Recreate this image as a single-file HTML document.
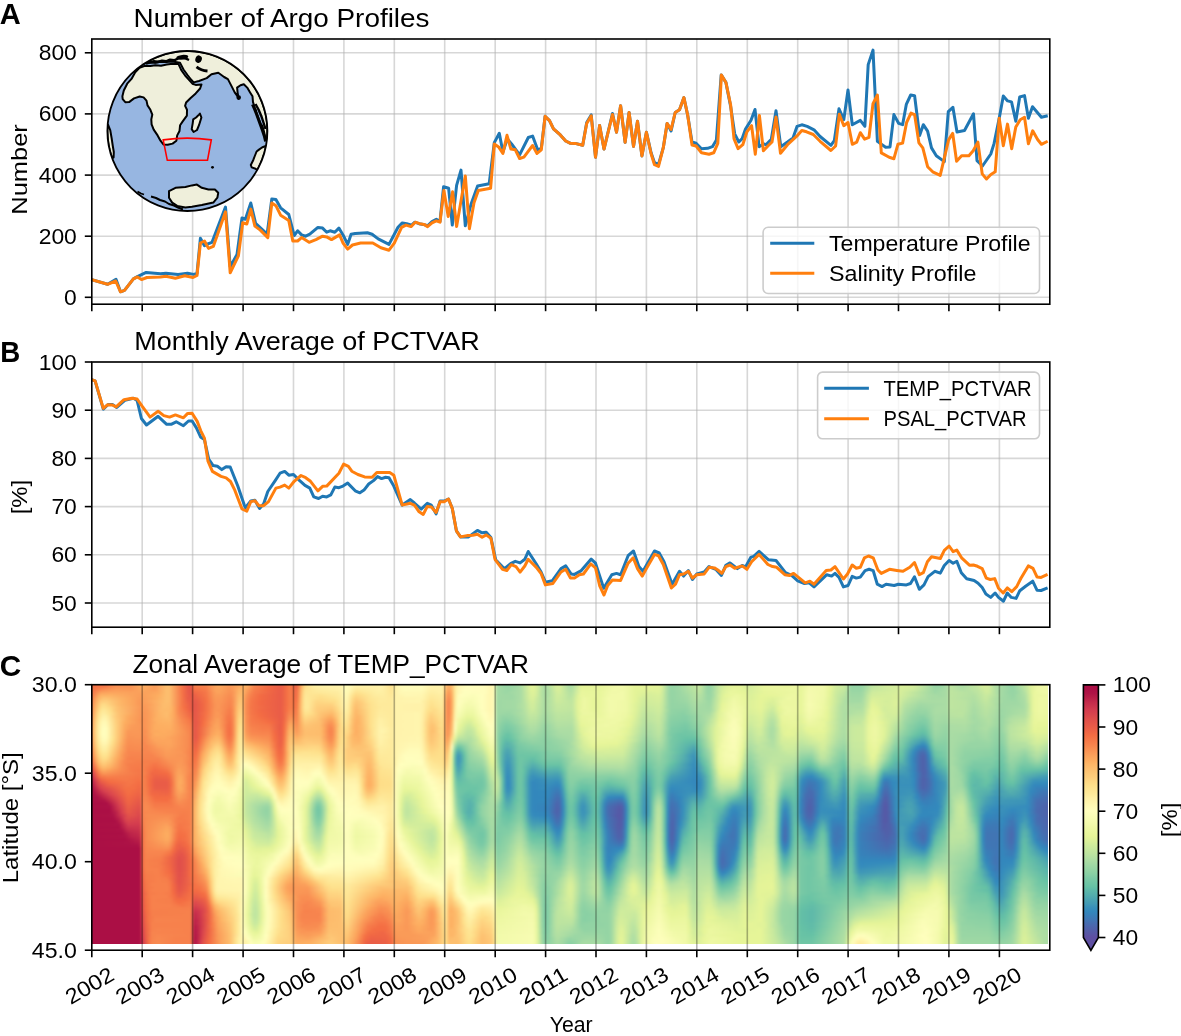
<!DOCTYPE html>
<html><head><meta charset="utf-8"><style>
html,body{margin:0;padding:0;background:#fff;}
#fig{position:relative;width:1181px;height:1036px;overflow:hidden;background:#fff;font-family:"Liberation Sans", sans-serif;}
</style></head><body><div id="fig">
<div style="position:absolute;left:92.2px;top:685.2px;width:955.7px;height:258.4px;overflow:hidden"><div style="position:absolute;left:-6px;top:-6px;width:969.7px;filter:blur(1px)"><div style="height:3px;background:linear-gradient(90deg,#f46d43 0px,#f47044 21px,#f8864f 27px,#f88c51 39px,#f98e52 45px,#fdad60 54px,#fcaa5f 60px,#fa9857 69px,#fdbf6f 81px,#fdbb6c 84px,#f57547 96px,#e75948 102px,#e45549 105px,#f7814c 108px,#f7844e 120px,#fa9b58 126px,#fdad60 132px,#fa9857 144px,#fdb567 159px,#fdad60 162px,#f8864f 168px,#ef6645 186px,#e95c47 195px,#f47044 201px,#f67f4b 204px,#eb6046 210px,#f7814c 213px,#fdb768 216px,#feda86 219px,#fff1a8 228px,#fff5ae 234px,#fff5ae 255px,#fffebe 261px,#fff5ae 270px,#fff3ac 297px,#fee08b 306px,#fff1a8 309px,#fffcba 315px,#fffebe 336px,#fff5ae 345px,#fff5ae 357px,#fdbf6f 360px,#fdaf62 363px,#fdc171 366px,#fee999 369px,#fff6b0 372px,#fffebe 381px,#fffdbc 399px,#fff6b0 405px,#fffbb8 408px,#a7dba4 411px,#97d5a4 417px,#97d5a4 426px,#acdda4 435px,#dff299 444px,#e6f598 447px,#ddf19a 450px,#b5e1a2 456px,#aadca4 459px,#bfe5a0 465px,#d1ed9c 468px,#daf09a 471px,#d8ef9b 474px,#acdda4 483px,#acdda4 486px,#e1f399 495px,#e9f69d 516px,#f3faac 534px,#e6f598 549px,#e6f598 573px,#d8ef9b 576px,#a4daa4 582px,#94d4a4 585px,#99d6a4 591px,#b3e0a2 603px,#c8e99e 612px,#c1e6a0 615px,#99d6a4 621px,#94d4a4 624px,#9fd8a4 627px,#d3ed9c 636px,#e6f598 648px,#daf09a 660px,#d1ed9c 663px,#e7f59a 675px,#eef8a4 687px,#e6f598 699px,#eef8a4 708px,#e6f598 714px,#f3faac 726px,#f2faaa 738px,#e7f59a 744px,#d1ed9c 750px,#caea9e 759px,#94d4a4 765px,#97d5a4 777px,#bce4a0 786px,#d1ed9c 798px,#d1ed9c 810px,#ddf19a 816px,#d8ef9b 828px,#aadca4 843px,#94d4a4 849px,#9fd8a4 858px,#aadca4 861px,#bfe5a0 864px,#aadca4 876px,#c6e89f 891px,#ddf19a 900px,#d6ee9b 903px,#b1dfa3 909px,#9cd7a4 921px,#94d4a4 924px,#94d4a4 927px,#c1e6a0 939px,#e1f399 945px,#eef8a4 951px,#f3faac 969px)"></div><div style="height:3px;background:linear-gradient(90deg,#f46d43 0px,#f47044 21px,#f8864f 27px,#f88c51 39px,#f98e52 45px,#fdad60 54px,#fcaa5f 60px,#fa9857 69px,#fdbf6f 81px,#fdbb6c 84px,#f57547 96px,#e75948 102px,#e45549 105px,#f7814c 108px,#f7844e 120px,#fa9b58 126px,#fdad60 132px,#fa9857 144px,#fdb567 159px,#fdad60 162px,#f8864f 168px,#ef6645 186px,#e95c47 195px,#f47044 201px,#f67f4b 204px,#eb6046 210px,#f7814c 213px,#fdb768 216px,#feda86 219px,#fff1a8 228px,#fff5ae 234px,#fff5ae 255px,#fffebe 261px,#fff5ae 270px,#fff3ac 297px,#fee08b 306px,#fff1a8 309px,#fffcba 315px,#fffebe 336px,#fff5ae 345px,#fff5ae 357px,#fdbf6f 360px,#fdaf62 363px,#fdc171 366px,#fee999 369px,#fff6b0 372px,#fffebe 381px,#fffdbc 399px,#fff6b0 405px,#fffbb8 408px,#a7dba4 411px,#97d5a4 417px,#97d5a4 426px,#acdda4 435px,#dff299 444px,#e6f598 447px,#ddf19a 450px,#b5e1a2 456px,#aadca4 459px,#bfe5a0 465px,#d1ed9c 468px,#daf09a 471px,#d8ef9b 474px,#acdda4 483px,#acdda4 486px,#e1f399 495px,#e9f69d 516px,#f3faac 534px,#e6f598 549px,#e6f598 573px,#d8ef9b 576px,#a4daa4 582px,#94d4a4 585px,#99d6a4 591px,#b3e0a2 603px,#c8e99e 612px,#c1e6a0 615px,#99d6a4 621px,#94d4a4 624px,#9fd8a4 627px,#d3ed9c 636px,#e6f598 648px,#daf09a 660px,#d1ed9c 663px,#e7f59a 675px,#eef8a4 687px,#e6f598 699px,#eef8a4 708px,#e6f598 714px,#f3faac 726px,#f2faaa 738px,#e7f59a 744px,#d1ed9c 750px,#caea9e 759px,#94d4a4 765px,#97d5a4 777px,#bce4a0 786px,#d1ed9c 798px,#d1ed9c 810px,#ddf19a 816px,#d8ef9b 828px,#aadca4 843px,#94d4a4 849px,#9fd8a4 858px,#aadca4 861px,#bfe5a0 864px,#aadca4 876px,#c6e89f 891px,#ddf19a 900px,#d6ee9b 903px,#b1dfa3 909px,#9cd7a4 921px,#94d4a4 924px,#94d4a4 927px,#c1e6a0 939px,#e1f399 945px,#eef8a4 951px,#f3faac 969px)"></div><div style="height:3px;background:linear-gradient(90deg,#f46d43 0px,#f57748 18px,#f99153 30px,#f99355 45px,#fcaa5f 54px,#fcaa5f 60px,#fa9b58 69px,#fdbf6f 81px,#fdbb6c 84px,#f57547 96px,#e75948 102px,#e45549 105px,#f67c4a 108px,#f7814c 120px,#fa9857 126px,#fcaa5f 132px,#fa9656 144px,#fba35c 150px,#fdb365 159px,#fcaa5f 162px,#f7844e 168px,#f26944 183px,#e95c47 195px,#f47044 201px,#f67f4b 204px,#eb6046 210px,#f7844e 213px,#fdbb6c 216px,#fede89 219px,#feefa3 228px,#fff2aa 243px,#fff3ac 255px,#fffbb8 258px,#fffdbc 261px,#fff1a8 270px,#fff2aa 297px,#fee18d 306px,#fff2aa 309px,#fffcba 315px,#fffdbc 336px,#fff3ac 345px,#fff3ac 357px,#fdbb6c 360px,#fcaa5f 363px,#fdbd6d 366px,#fee999 369px,#fff6b0 372px,#ffffbe 381px,#fffdbc 399px,#fff6b0 405px,#fffbb8 408px,#a7dba4 411px,#97d5a4 420px,#9fd8a4 429px,#acdda4 435px,#dff299 444px,#e4f498 447px,#daf09a 450px,#b5e1a2 456px,#aadca4 459px,#bfe5a0 465px,#daf09a 471px,#d8ef9b 474px,#aedea3 483px,#aedea3 486px,#e4f498 495px,#e7f59a 513px,#f2faaa 531px,#f2faaa 537px,#e6f598 549px,#e4f498 573px,#d8ef9b 576px,#a4daa4 582px,#94d4a4 585px,#99d6a4 591px,#c6e89f 612px,#bfe5a0 615px,#99d6a4 621px,#94d4a4 624px,#c8e99e 633px,#e1f399 642px,#e6f598 654px,#d3ed9c 663px,#e9f69d 678px,#ecf7a1 690px,#e8f69b 702px,#eef8a4 708px,#e6f598 714px,#f3faac 723px,#f2faaa 738px,#e6f598 744px,#d1ed9c 750px,#c8e99e 759px,#94d4a4 765px,#94d4a4 774px,#99d6a4 777px,#bfe5a0 786px,#d3ed9c 801px,#d3ed9c 810px,#daf09a 816px,#d3ed9c 828px,#b5e1a2 840px,#97d5a4 849px,#99d6a4 855px,#aadca4 861px,#bfe5a0 864px,#acdda4 876px,#c3e79f 891px,#d6ee9b 897px,#d3ed9c 903px,#b1dfa3 909px,#9cd7a4 921px,#94d4a4 924px,#94d4a4 927px,#bfe5a0 939px,#dff299 945px,#eef8a4 951px,#f2faaa 969px)"></div><div style="height:3px;background:linear-gradient(90deg,#f57245 0px,#f57245 6px,#f98e52 18px,#fa9b58 30px,#fa9857 45px,#fca85e 57px,#fb9d59 69px,#fdbf6f 81px,#fdbb6c 84px,#f57547 96px,#e85b48 102px,#e45549 105px,#f57245 108px,#f67c4a 120px,#fba35c 129px,#fba35c 135px,#f99355 144px,#fca55d 150px,#fdb365 153px,#fdb567 156px,#fb9d59 162px,#f67f4b 168px,#f36b43 180px,#e95c47 195px,#f47044 201px,#f67f4b 204px,#ee6445 210px,#f88c51 213px,#fdc372 216px,#fee28f 219px,#feeb9d 231px,#fff1a8 255px,#fffab6 258px,#fffcba 261px,#fee999 270px,#fff1a8 294px,#feec9f 300px,#fee491 306px,#fff2aa 309px,#fffcba 318px,#fffbb8 336px,#fff0a6 345px,#fff2aa 357px,#fdb567 360px,#fba05b 363px,#fdb96a 366px,#fee999 369px,#fff7b2 372px,#fffebe 378px,#fffdbc 399px,#fff6b0 405px,#fffbb8 408px,#a4daa4 411px,#99d6a4 423px,#acdda4 435px,#ddf19a 444px,#e1f399 447px,#daf09a 450px,#b5e1a2 456px,#aadca4 459px,#aedea3 462px,#d8ef9b 471px,#d6ee9b 474px,#b3e0a2 483px,#b3e0a2 486px,#e7f59a 495px,#e7f59a 513px,#f2faaa 528px,#eff9a6 540px,#e4f498 549px,#e1f399 573px,#d6ee9b 576px,#a4daa4 582px,#94d4a4 585px,#9fd8a4 594px,#c1e6a0 612px,#bae3a1 615px,#99d6a4 621px,#97d5a4 624px,#a2d9a4 627px,#caea9e 633px,#dff299 639px,#e9f69d 648px,#e1f399 660px,#d6ee9b 663px,#e8f69b 678px,#ecf7a1 705px,#ecf7a1 711px,#e6f598 714px,#f4faad 723px,#f1f9a9 738px,#e6f598 744px,#cfec9d 750px,#c3e79f 759px,#97d5a4 765px,#97d5a4 774px,#9cd7a4 777px,#c6e89f 786px,#d8ef9b 813px,#cdeb9d 828px,#9cd7a4 849px,#a4daa4 858px,#aadca4 861px,#bfe5a0 864px,#b1dfa3 876px,#bfe5a0 891px,#d3ed9c 900px,#cfec9d 903px,#aadca4 912px,#94d4a4 927px,#aedea3 936px,#caea9e 942px,#dff299 945px,#eef8a4 951px,#f1f9a9 969px)"></div><div style="height:3px;background:linear-gradient(90deg,#f57547 0px,#f57748 6px,#fba05b 15px,#fca55d 27px,#fba05b 51px,#fba35c 63px,#fca85e 72px,#fdbf6f 81px,#fdbb6c 84px,#f57547 96px,#e85b48 102px,#e55749 105px,#f06744 108px,#f57748 120px,#fb9d59 129px,#fba35c 132px,#f99153 144px,#fa9656 147px,#fdb768 153px,#fdb96a 156px,#f99355 162px,#f67a49 168px,#ee6445 186px,#e95c47 195px,#f47044 201px,#f67f4b 204px,#ef6645 210px,#f99153 213px,#fec877 216px,#fee593 219px,#feec9f 252px,#fff0a6 255px,#fff8b4 258px,#fffab6 261px,#fee18d 270px,#feefa3 291px,#feefa3 297px,#fee593 306px,#fff2aa 309px,#fff8b4 315px,#fff8b4 336px,#feeda1 345px,#fff1a8 357px,#fdad60 360px,#fa9656 363px,#fdb365 366px,#fee999 369px,#fff8b4 372px,#fefebd 378px,#fffdbc 399px,#fff6b0 405px,#fffbb8 408px,#a4daa4 411px,#9cd7a4 420px,#a7dba4 432px,#acdda4 435px,#daf09a 444px,#dff299 447px,#d8ef9b 450px,#b3e0a2 456px,#aadca4 459px,#aedea3 462px,#d3ed9c 471px,#d3ed9c 474px,#b8e2a1 483px,#b8e2a1 486px,#e9f69d 495px,#e8f69b 513px,#f1f9a9 525px,#f2faaa 537px,#e4f498 549px,#daf09a 564px,#dff299 573px,#d3ed9c 576px,#a2d9a4 582px,#94d4a4 585px,#9cd7a4 594px,#bce4a0 612px,#b8e2a1 615px,#99d6a4 621px,#97d5a4 624px,#b8e2a1 630px,#daf09a 636px,#eaf79e 645px,#e6f598 660px,#d8ef9b 663px,#e7f59a 678px,#ecf7a1 711px,#e6f598 714px,#f5fbaf 723px,#f0f9a7 738px,#e4f498 744px,#cdeb9d 750px,#bce4a0 759px,#a7dba4 762px,#9cd7a4 765px,#9cd7a4 774px,#a2d9a4 777px,#cfec9d 786px,#d8ef9b 813px,#9fd8a4 849px,#aadca4 861px,#bfe5a0 864px,#b5e1a2 885px,#c1e6a0 894px,#cfec9d 900px,#cdeb9d 903px,#aadca4 912px,#97d5a4 924px,#99d6a4 930px,#b5e1a2 939px,#ddf19a 945px,#eaf79e 948px,#eff9a6 957px,#eff9a6 969px)"></div><div style="height:3px;background:linear-gradient(90deg,#f57748 0px,#f67a49 6px,#fca55d 12px,#fdb365 15px,#fdb365 24px,#fb9d59 54px,#fdad60 72px,#fdbf6f 81px,#fdbb6c 84px,#f57748 96px,#ef6645 99px,#e55749 105px,#ef6645 111px,#f57547 120px,#fa9b58 129px,#fa9b58 135px,#f88c51 144px,#fa9656 147px,#fdbb6c 153px,#fdbd6d 156px,#fb9d59 159px,#f67f4b 165px,#f36b43 174px,#e95c47 195px,#f47044 201px,#f67f4b 204px,#f06744 210px,#f99355 213px,#feca79 216px,#fee797 219px,#fee18d 234px,#feea9b 252px,#feeda1 255px,#fff7b2 258px,#fff8b4 261px,#fee18d 267px,#fed884 270px,#fede89 276px,#feeb9d 288px,#feeda1 297px,#fee797 306px,#fff2aa 309px,#fff8b4 321px,#fff6b0 336px,#feea9b 345px,#feefa3 357px,#fca55d 360px,#f99153 363px,#fdaf62 366px,#fee999 369px,#fffbb8 372px,#ffffbe 375px,#fbfdb8 387px,#ffffbe 396px,#fff6b0 405px,#fffbb8 408px,#a2d9a4 411px,#9fd8a4 426px,#acdda4 435px,#d8ef9b 444px,#ddf19a 447px,#d6ee9b 450px,#b3e0a2 456px,#aadca4 459px,#aedea3 462px,#d1ed9c 471px,#caea9e 477px,#bae3a1 483px,#bae3a1 486px,#dff299 492px,#eaf79e 495px,#e9f69d 504px,#e8f69b 513px,#f2faaa 525px,#f2faaa 537px,#e4f498 549px,#d6ee9b 561px,#daf09a 573px,#d1ed9c 576px,#a2d9a4 582px,#94d4a4 585px,#a2d9a4 600px,#b5e1a2 609px,#b3e0a2 615px,#9cd7a4 621px,#99d6a4 624px,#a4daa4 627px,#cfec9d 633px,#e6f598 639px,#edf8a3 651px,#e7f59a 660px,#daf09a 663px,#e6f598 675px,#e7f59a 690px,#eef8a4 708px,#e6f598 714px,#f6fbb0 723px,#f0f9a7 738px,#e4f498 744px,#caea9e 750px,#b8e2a1 759px,#a7dba4 762px,#9fd8a4 765px,#9fd8a4 774px,#a4daa4 777px,#c8e99e 783px,#d3ed9c 786px,#d6ee9b 804px,#daf09a 810px,#aadca4 843px,#a4daa4 855px,#aadca4 861px,#bfe5a0 864px,#b3e0a2 888px,#caea9e 900px,#bfe5a0 906px,#a4daa4 915px,#97d5a4 927px,#b1dfa3 939px,#daf09a 945px,#ebf7a0 948px,#eef8a4 969px)"></div><div style="height:3px;background:linear-gradient(90deg,#f67a49 0px,#f67f4b 6px,#fb9d59 9px,#fdb365 12px,#fdc574 18px,#fcaa5f 42px,#fa9b58 54px,#fcaa5f 69px,#fdbf6f 81px,#fdbb6c 84px,#f57748 96px,#e95c47 102px,#e95c47 108px,#f57245 120px,#fa9857 129px,#fa9857 135px,#f88950 144px,#f99355 147px,#fdbf6f 153px,#fdc171 156px,#fa9857 159px,#f67a49 165px,#f36b43 174px,#e95c47 195px,#f47044 201px,#f67f4b 204px,#f26944 210px,#fa9656 213px,#fecc7b 216px,#fee999 219px,#fee593 225px,#fedc88 234px,#fee491 249px,#feeb9d 255px,#fff6b0 258px,#fff6b0 261px,#feda86 267px,#fece7c 270px,#fee695 285px,#feec9f 297px,#fee999 306px,#fff3ac 309px,#fff5ae 336px,#fee797 345px,#feeda1 357px,#fba05b 360px,#f88950 363px,#fdad60 366px,#feea9b 369px,#fffcba 372px,#fbfdb8 378px,#f9fcb5 387px,#ffffbe 396px,#fff6b0 405px,#fffcba 408px,#a2d9a4 411px,#9fd8a4 426px,#acdda4 435px,#d6ee9b 444px,#daf09a 447px,#aadca4 459px,#bae3a1 465px,#cfec9d 471px,#c8e99e 477px,#bce4a0 483px,#bfe5a0 486px,#e1f399 492px,#edf8a3 498px,#e6f598 510px,#f2faaa 522px,#f2faaa 537px,#e4f498 549px,#d3ed9c 558px,#d8ef9b 573px,#cfec9d 576px,#a2d9a4 582px,#94d4a4 585px,#9fd8a4 600px,#b3e0a2 609px,#b1dfa3 615px,#9cd7a4 621px,#99d6a4 624px,#bce4a0 630px,#dff299 636px,#eff9a6 648px,#e8f69b 660px,#daf09a 663px,#e6f598 675px,#dff299 687px,#eef8a4 702px,#ecf7a1 711px,#e6f598 714px,#f6fbb0 723px,#eff9a6 738px,#e1f399 744px,#c1e6a0 753px,#a2d9a4 765px,#a2d9a4 774px,#aadca4 777px,#daf09a 786px,#d6ee9b 804px,#daf09a 810px,#bae3a1 825px,#a7dba4 846px,#aadca4 861px,#bfe5a0 864px,#b1dfa3 888px,#c8e99e 900px,#a2d9a4 915px,#99d6a4 927px,#aedea3 939px,#daf09a 945px,#eaf79e 948px,#eef8a4 954px,#edf8a3 969px)"></div><div style="height:3px;background:linear-gradient(90deg,#f67f4b 0px,#f7844e 6px,#fca55d 9px,#fecc7b 15px,#fece7c 21px,#fdb365 36px,#fba35c 48px,#fa9857 54px,#fdb768 75px,#fdbf6f 81px,#fdbb6c 84px,#f57748 96px,#eb6046 102px,#e55749 108px,#f47044 120px,#fa9656 129px,#fa9656 135px,#f8864f 144px,#f99153 147px,#fdc372 153px,#fdc574 156px,#fa9656 159px,#f57748 165px,#f26944 174px,#e95c47 195px,#f47044 201px,#f67f4b 204px,#f46d43 210px,#fa9857 213px,#fece7c 216px,#fee999 219px,#fee999 222px,#fed683 231px,#fede89 249px,#feea9b 255px,#fff3ac 258px,#fff5ae 261px,#fed481 267px,#fdc776 270px,#fed07e 276px,#fee18d 282px,#feeb9d 294px,#feea9b 306px,#fff3ac 309px,#fff6b0 333px,#feeda1 339px,#fee491 345px,#feec9f 357px,#fa9b58 360px,#f7844e 363px,#fcaa5f 366px,#feea9b 369px,#fffebe 372px,#f6fbb0 384px,#ffffbe 396px,#fff6b0 405px,#fffcba 408px,#9fd8a4 411px,#a4daa4 429px,#acdda4 435px,#d1ed9c 444px,#d6ee9b 447px,#c1e6a0 453px,#aadca4 459px,#b8e2a1 465px,#cdeb9d 471px,#bfe5a0 486px,#e4f498 492px,#eef8a4 498px,#e6f598 510px,#f3faac 525px,#eff9a6 540px,#e4f498 549px,#cfec9d 558px,#d6ee9b 573px,#cdeb9d 576px,#a2d9a4 582px,#94d4a4 585px,#9cd7a4 600px,#aedea3 609px,#acdda4 615px,#9cd7a4 624px,#bfe5a0 630px,#e1f399 636px,#f1f9a9 648px,#e9f69d 660px,#ddf19a 663px,#e6f598 675px,#daf09a 687px,#ecf7a1 696px,#ecf7a1 711px,#e6f598 714px,#f6fbb0 723px,#eef8a4 738px,#dff299 744px,#aedea3 759px,#a4daa4 765px,#a4daa4 774px,#acdda4 777px,#dff299 786px,#d3ed9c 801px,#ddf19a 810px,#bfe5a0 819px,#aadca4 834px,#aadca4 861px,#bfe5a0 864px,#bae3a1 879px,#aedea3 888px,#c3e79f 900px,#b1dfa3 909px,#9fd8a4 918px,#9fd8a4 930px,#acdda4 939px,#d8ef9b 945px,#eaf79e 948px,#eef8a4 954px,#ecf7a1 969px)"></div><div style="height:3px;background:linear-gradient(90deg,#f7814c 0px,#f8864f 6px,#fdad60 9px,#fed683 15px,#fedc88 18px,#fdb96a 33px,#fba35c 48px,#fa9857 54px,#fba05b 63px,#fdbd6d 78px,#fdbb6c 84px,#f57748 96px,#ee6445 102px,#e45549 108px,#f06744 117px,#f67c4a 123px,#f99355 129px,#fa9857 132px,#f7844e 144px,#f99153 147px,#fdc776 153px,#fec877 156px,#f99355 159px,#f57748 165px,#f26944 174px,#e95c47 195px,#f47044 201px,#f67f4b 204px,#f47044 210px,#fb9d59 213px,#fece7c 216px,#fee999 219px,#fee999 222px,#fed27f 231px,#fed27f 246px,#fee999 255px,#fff2aa 258px,#fff2aa 261px,#fee593 264px,#fece7c 267px,#fdc171 270px,#fecc7b 276px,#fee28f 285px,#feea9b 294px,#feea9b 306px,#fff3ac 309px,#fff2aa 336px,#fee18d 345px,#feeb9d 357px,#fa9857 360px,#f7844e 363px,#fcaa5f 366px,#feeb9d 369px,#ffffbe 372px,#f4faad 381px,#f8fcb4 390px,#ffffbe 396px,#fff6b0 405px,#fffcba 408px,#9fd8a4 411px,#a4daa4 429px,#b5e1a2 438px,#cfec9d 444px,#d3ed9c 447px,#bfe5a0 453px,#aadca4 459px,#c8e99e 471px,#c1e6a0 486px,#e4f498 492px,#eef8a4 498px,#e6f598 510px,#f3faac 525px,#eff9a6 540px,#e1f399 549px,#cdeb9d 558px,#d3ed9c 573px,#caea9e 576px,#a2d9a4 582px,#94d4a4 585px,#97d5a4 600px,#acdda4 609px,#a4daa4 618px,#9fd8a4 624px,#c1e6a0 630px,#e6f598 636px,#f2faaa 648px,#e9f69d 660px,#ddf19a 663px,#e6f598 675px,#d6ee9b 684px,#ddf19a 690px,#ecf7a1 696px,#ecf7a1 711px,#e6f598 714px,#f7fcb2 723px,#edf8a3 738px,#dff299 744px,#b3e0a2 756px,#aadca4 765px,#aedea3 777px,#e4f498 786px,#d8ef9b 795px,#d6ee9b 804px,#ddf19a 810px,#b8e2a1 819px,#a2d9a4 834px,#aadca4 861px,#bfe5a0 864px,#bae3a1 879px,#acdda4 888px,#bfe5a0 900px,#b8e2a1 906px,#9fd8a4 915px,#a2d9a4 933px,#acdda4 939px,#bce4a0 942px,#d8ef9b 945px,#eaf79e 948px,#eef8a4 954px,#ebf7a0 969px)"></div><div style="height:3px;background:linear-gradient(90deg,#f7844e 0px,#f88950 6px,#fdb365 9px,#fede89 15px,#fee28f 18px,#fed884 24px,#fdbd6d 33px,#fa9656 57px,#fdbd6d 78px,#fdb96a 84px,#fdad60 87px,#f8864f 93px,#f46d43 99px,#e45549 108px,#f06744 117px,#f67c4a 123px,#f99355 129px,#fa9857 132px,#f7814c 144px,#f98e52 147px,#fdb163 150px,#fec877 153px,#fecc7b 156px,#f99355 159px,#f57547 165px,#ee6445 183px,#e95c47 195px,#f57245 201px,#f67f4b 204px,#f57245 210px,#fb9d59 213px,#fed07e 216px,#fee999 219px,#fee999 222px,#fece7c 231px,#feca79 246px,#fedc88 252px,#fff1a8 258px,#fff1a8 261px,#fee28f 264px,#feca79 267px,#fdbd6d 270px,#fee28f 285px,#feeb9d 297px,#feea9b 306px,#fff3ac 309px,#fff2aa 336px,#fede89 345px,#fee491 351px,#feea9b 357px,#fa9857 360px,#f7844e 363px,#fcaa5f 366px,#feeda1 369px,#fdfebb 372px,#f2faaa 381px,#f3faac 387px,#ffffbe 396px,#fff6b0 405px,#fffcba 408px,#9fd8a4 411px,#a4daa4 429px,#b5e1a2 438px,#cdeb9d 444px,#d1ed9c 447px,#aadca4 459px,#c6e89f 471px,#c1e6a0 486px,#e4f498 492px,#eef8a4 498px,#e6f598 510px,#f3faac 525px,#eff9a6 540px,#e1f399 549px,#c8e99e 558px,#cdeb9d 567px,#d1ed9c 573px,#c8e99e 576px,#9fd8a4 582px,#94d4a4 585px,#94d4a4 600px,#a7dba4 609px,#a2d9a4 624px,#c3e79f 630px,#e7f59a 636px,#f3faac 648px,#eef8a4 657px,#ddf19a 663px,#e6f598 675px,#cfec9d 687px,#e6f598 693px,#eef8a4 699px,#ecf7a1 711px,#e6f598 714px,#f6fbb0 723px,#f0f9a7 735px,#e8f69b 741px,#b1dfa3 756px,#acdda4 774px,#b3e0a2 777px,#e6f598 786px,#e1f399 792px,#d3ed9c 798px,#daf09a 810px,#b3e0a2 819px,#9cd7a4 834px,#a2d9a4 843px,#aadca4 852px,#aadca4 861px,#bfe5a0 864px,#bae3a1 879px,#aadca4 888px,#bce4a0 900px,#b1dfa3 909px,#9fd8a4 915px,#a7dba4 936px,#acdda4 939px,#bce4a0 942px,#d8ef9b 945px,#eaf79e 948px,#eef8a4 954px,#eaf79e 969px)"></div><div style="height:3px;background:linear-gradient(90deg,#f8864f 0px,#f98e52 6px,#fdb768 9px,#fed27f 12px,#fee491 15px,#fee999 18px,#fede89 24px,#fdc574 30px,#fa9857 54px,#fa9857 60px,#fdb96a 75px,#fdb96a 84px,#fdad60 87px,#f8864f 93px,#f26944 102px,#e45549 108px,#f06744 117px,#f67c4a 123px,#fa9656 129px,#f99355 135px,#f67c4a 144px,#f88c51 147px,#fdb163 150px,#fecc7b 153px,#fed07e 156px,#f99355 159px,#f57748 165px,#f26944 174px,#e95c47 195px,#f57245 201px,#f7844e 204px,#f57748 210px,#fba05b 213px,#fece7c 216px,#fee695 219px,#fee695 222px,#fecc7b 231px,#fdc372 246px,#fed884 252px,#feefa3 258px,#feefa3 261px,#fee18d 264px,#fec877 267px,#fdb96a 270px,#fdc776 276px,#fee18d 285px,#feeb9d 294px,#feea9b 306px,#fff3ac 309px,#fff2aa 336px,#fee18d 342px,#feda86 348px,#fee999 357px,#fa9857 360px,#f7844e 363px,#fdad60 366px,#feefa3 369px,#fbfdb8 372px,#eff9a6 381px,#f0f9a7 387px,#fefebd 396px,#fff6b0 405px,#fffcba 408px,#9fd8a4 411px,#9fd8a4 426px,#aadca4 435px,#c8e99e 444px,#cdeb9d 447px,#aadca4 459px,#c3e79f 471px,#bfe5a0 486px,#e1f399 492px,#ecf7a1 495px,#ecf7a1 501px,#e7f59a 510px,#f3faac 525px,#eff9a6 540px,#e1f399 549px,#c6e89f 558px,#caea9e 567px,#cfec9d 573px,#c6e89f 576px,#91d3a4 585px,#8fd2a4 600px,#a4daa4 609px,#a4daa4 624px,#b1dfa3 627px,#daf09a 633px,#e8f69b 636px,#f5fbaf 648px,#eef8a4 657px,#e9f69d 660px,#daf09a 663px,#e4f498 675px,#cdeb9d 684px,#caea9e 687px,#e4f498 693px,#eef8a4 702px,#ecf7a1 711px,#e6f598 714px,#f6fbb0 723px,#ecf7a1 738px,#e7f59a 741px,#b1dfa3 756px,#aedea3 762px,#b5e1a2 777px,#ddf19a 783px,#e8f69b 786px,#e4f498 792px,#d3ed9c 798px,#d8ef9b 810px,#aedea3 819px,#99d6a4 831px,#99d6a4 840px,#aadca4 849px,#aadca4 861px,#bce4a0 864px,#bae3a1 879px,#a7dba4 888px,#bae3a1 900px,#aedea3 909px,#9cd7a4 915px,#aedea3 939px,#bfe5a0 942px,#d8ef9b 945px,#eaf79e 948px,#eef8a4 954px,#e9f69d 969px)"></div><div style="height:3px;background:linear-gradient(90deg,#f88950 0px,#f99153 6px,#fdbd6d 9px,#feda86 12px,#fee999 15px,#feeda1 18px,#fee28f 24px,#fdc171 33px,#fba35c 48px,#f99355 57px,#fb9d59 63px,#fdb365 72px,#fdbd6d 81px,#fdad60 87px,#f88950 93px,#ef6645 105px,#e45549 108px,#f57245 120px,#fa9656 129px,#fa9b58 132px,#f88950 138px,#f67a49 144px,#f88c51 147px,#fdb365 150px,#fed07e 153px,#fed481 156px,#f99355 159px,#f57748 165px,#f36b43 174px,#e95c47 195px,#ef6645 198px,#f88950 204px,#f67a49 210px,#fba05b 213px,#feca79 216px,#fee28f 219px,#fede89 225px,#fdc574 234px,#fdb96a 246px,#fed27f 252px,#feec9f 258px,#feec9f 261px,#fede89 264px,#fdc574 267px,#fdb768 270px,#fdc574 276px,#fee18d 285px,#feec9f 294px,#feea9b 306px,#fff3ac 309px,#fff5ae 333px,#fff1a8 336px,#fede89 342px,#fed481 345px,#fee695 357px,#fa9857 360px,#f7844e 363px,#fdad60 366px,#fff1a8 369px,#f8fcb4 372px,#ecf7a1 381px,#edf8a3 387px,#fdfebb 396px,#fffebe 399px,#fff7b2 405px,#fffcba 408px,#9fd8a4 411px,#99d6a4 423px,#b1dfa3 438px,#c6e89f 444px,#c3e79f 450px,#a7dba4 459px,#bfe5a0 471px,#bce4a0 486px,#e1f399 492px,#edf8a3 498px,#e9f69d 513px,#f2faaa 525px,#eef8a4 540px,#dff299 549px,#c1e6a0 558px,#c6e89f 567px,#cdeb9d 573px,#c3e79f 576px,#9cd7a4 582px,#91d3a4 585px,#89d0a4 597px,#a2d9a4 612px,#aadca4 624px,#dff299 633px,#f2faaa 642px,#f5fbaf 651px,#e9f69d 660px,#d8ef9b 663px,#e1f399 675px,#c6e89f 684px,#c3e79f 687px,#dff299 693px,#edf8a3 699px,#ebf7a0 711px,#e4f498 714px,#f4faad 723px,#eef8a4 735px,#e6f598 741px,#bae3a1 753px,#acdda4 759px,#b5e1a2 768px,#bae3a1 777px,#dff299 783px,#e9f69d 786px,#e6f598 792px,#d3ed9c 801px,#d6ee9b 810px,#aadca4 819px,#94d4a4 831px,#94d4a4 840px,#aadca4 849px,#a7dba4 861px,#bae3a1 864px,#bce4a0 876px,#a7dba4 888px,#b8e2a1 900px,#acdda4 909px,#9cd7a4 915px,#b1dfa3 939px,#e9f69d 948px,#edf8a3 954px,#e8f69b 969px)"></div><div style="height:3px;background:linear-gradient(90deg,#f98e52 0px,#fa9656 6px,#fdc171 9px,#fee08b 12px,#feec9f 15px,#fff2aa 18px,#feefa3 21px,#feca79 30px,#fcaa5f 42px,#f99355 57px,#fb9d59 63px,#fdb365 72px,#fdbb6c 81px,#fdad60 87px,#f98e52 93px,#f26944 105px,#e45549 108px,#f26944 117px,#fa9857 129px,#fa9656 135px,#f67c4a 141px,#f57748 144px,#f88950 147px,#fdb365 150px,#fed481 153px,#fed884 156px,#fa9656 159px,#f67a49 165px,#f46d43 174px,#e95c47 195px,#ef6645 198px,#f99153 204px,#f67f4b 210px,#fba05b 213px,#fdc574 216px,#fedc88 219px,#fed07e 228px,#fdaf62 243px,#fdaf62 246px,#fece7c 252px,#fee18d 255px,#feeb9d 258px,#feea9b 261px,#fdc372 267px,#fdb567 270px,#fdb768 273px,#fee18d 285px,#feeda1 294px,#feea9b 306px,#fff3ac 309px,#fff5ae 333px,#fff1a8 336px,#feda86 342px,#fece7c 345px,#feda86 351px,#fee593 357px,#fa9857 360px,#f8864f 363px,#fdb163 366px,#fff3ac 369px,#f6fbb0 372px,#e8f69b 381px,#eaf79e 387px,#ffffbe 399px,#fff8b4 405px,#fffdbc 408px,#9fd8a4 411px,#94d4a4 417px,#97d5a4 426px,#aedea3 438px,#c1e6a0 444px,#bfe5a0 450px,#a4daa4 459px,#bce4a0 471px,#bae3a1 486px,#dff299 492px,#eaf79e 495px,#eaf79e 513px,#f2faaa 525px,#edf8a3 540px,#e6f598 546px,#bfe5a0 558px,#c3e79f 567px,#caea9e 573px,#b1dfa3 579px,#99d6a4 582px,#8cd1a4 585px,#86cfa5 600px,#9cd7a4 612px,#b1dfa3 624px,#cfec9d 630px,#e1f399 633px,#f6fbb0 645px,#f3faac 654px,#e8f69b 660px,#d3ed9c 663px,#dff299 675px,#c1e6a0 684px,#bfe5a0 687px,#c8e99e 690px,#ddf19a 693px,#e9f69d 696px,#ecf7a1 708px,#e1f399 714px,#f3faac 723px,#eaf79e 738px,#e6f598 741px,#bae3a1 753px,#acdda4 759px,#bae3a1 765px,#bfe5a0 777px,#e4f498 783px,#eaf79e 789px,#d3ed9c 801px,#d1ed9c 810px,#b1dfa3 816px,#97d5a4 825px,#89d0a4 837px,#a7dba4 849px,#a4daa4 861px,#b8e2a1 864px,#bae3a1 876px,#a4daa4 888px,#b5e1a2 900px,#aadca4 909px,#99d6a4 915px,#aedea3 927px,#b5e1a2 939px,#c3e79f 942px,#daf09a 945px,#e9f69d 948px,#ecf7a1 954px,#e7f59a 969px)"></div><div style="height:3px;background:linear-gradient(90deg,#f99153 0px,#fa9857 6px,#fdc776 9px,#fee491 12px,#fff1a8 15px,#fff6b0 18px,#fff2aa 21px,#fece7c 30px,#fca85e 42px,#f99153 57px,#fb9d59 63px,#fdaf62 69px,#fdb768 81px,#fdb567 84px,#f88950 96px,#f67c4a 102px,#f47044 105px,#e45549 108px,#f36b43 117px,#fa9b58 129px,#fba05b 132px,#f88950 138px,#f67a49 141px,#f57547 144px,#f8864f 147px,#fdb567 150px,#fed884 153px,#fedc88 156px,#fa9656 159px,#f67a49 165px,#f47044 177px,#ee6445 189px,#e95c47 195px,#f06744 198px,#fa9857 204px,#f99355 207px,#f7814c 210px,#fba05b 213px,#fdc171 216px,#fed481 219px,#fdc776 231px,#fba35c 243px,#fba35c 246px,#fdb365 249px,#fee08b 255px,#fee999 258px,#fee797 261px,#fdbf6f 267px,#fdb365 270px,#fdb567 273px,#fee18d 285px,#fff0a6 294px,#feea9b 306px,#fff3ac 309px,#fff5ae 333px,#fff1a8 336px,#fed683 342px,#feca79 345px,#fed683 351px,#fee491 357px,#fa9857 360px,#f88950 363px,#fdb365 366px,#fff6b0 369px,#ecf7a1 375px,#e1f399 381px,#dff299 384px,#e6f598 387px,#fdfebb 399px,#fffab6 405px,#fffebe 408px,#9cd7a4 411px,#8cd1a4 420px,#9cd7a4 432px,#bce4a0 444px,#bae3a1 450px,#a2d9a4 459px,#bae3a1 471px,#b8e2a1 486px,#c6e89f 489px,#ddf19a 492px,#e9f69d 495px,#eef8a4 516px,#f0f9a7 534px,#e4f498 546px,#bae3a1 558px,#c8e99e 573px,#aedea3 579px,#97d5a4 582px,#89d0a4 585px,#84cea5 600px,#acdda4 621px,#d3ed9c 630px,#e4f498 633px,#f9fcb5 648px,#f4faad 654px,#e7f59a 660px,#d1ed9c 663px,#ddf19a 675px,#bae3a1 684px,#b8e2a1 687px,#c3e79f 690px,#e8f69b 696px,#ebf7a0 708px,#dff299 714px,#e7f59a 717px,#f1f9a9 723px,#e4f498 741px,#b8e2a1 753px,#acdda4 759px,#bfe5a0 765px,#c3e79f 777px,#e6f598 783px,#ebf7a0 789px,#daf09a 798px,#caea9e 810px,#a2d9a4 819px,#8fd2a4 828px,#84cea5 837px,#86cfa5 840px,#a7dba4 849px,#a2d9a4 861px,#b3e0a2 864px,#b3e0a2 879px,#a4daa4 888px,#b3e0a2 903px,#99d6a4 915px,#b1dfa3 924px,#bce4a0 939px,#e8f69b 948px,#ebf7a0 954px,#e6f598 969px)"></div><div style="height:3px;background:linear-gradient(90deg,#f99355 0px,#fa9b58 6px,#feca79 9px,#fee797 12px,#fff5ae 15px,#fffab6 18px,#fff6b0 21px,#fed07e 30px,#fdad60 39px,#fa9b58 51px,#f99153 57px,#fb9d59 63px,#fdb163 72px,#fdb365 84px,#f88c51 96px,#f57748 105px,#e45549 108px,#ed6246 114px,#f46d43 117px,#fa9656 126px,#fba35c 132px,#f47044 144px,#f8864f 147px,#fdb567 150px,#feda86 153px,#fede89 156px,#fa9857 159px,#f67c4a 165px,#f57245 180px,#f36b43 186px,#e95c47 195px,#f26944 198px,#fba35c 204px,#fa9b58 207px,#f8864f 210px,#fdbb6c 216px,#fecc7b 219px,#fdbf6f 234px,#fa9857 243px,#fa9656 246px,#fdad60 249px,#fede89 255px,#fee695 258px,#fee491 261px,#fed481 264px,#fdbd6d 267px,#fdb163 270px,#fdb365 273px,#fee18d 285px,#fff1a8 294px,#feea9b 306px,#fff3ac 309px,#fff5ae 333px,#fff0a6 336px,#fed27f 342px,#fdc776 345px,#fed27f 351px,#fee28f 357px,#fa9857 360px,#f88c51 363px,#fdb768 366px,#fffab6 369px,#f0f9a7 372px,#dff299 378px,#d6ee9b 384px,#e9f69d 390px,#ffffbe 402px,#fffbb8 405px,#ffffbe 408px,#9cd7a4 411px,#89d0a4 417px,#86cfa5 423px,#b8e2a1 444px,#b5e1a2 450px,#9fd8a4 459px,#b5e1a2 471px,#b5e1a2 486px,#e8f69b 495px,#f0f9a7 528px,#e7f59a 543px,#cdeb9d 552px,#b8e2a1 558px,#bae3a1 564px,#c6e89f 573px,#bce4a0 576px,#94d4a4 582px,#86cfa5 585px,#7ecca5 600px,#a4daa4 618px,#c8e99e 627px,#e7f59a 633px,#fafdb7 648px,#eef8a4 657px,#e7f59a 660px,#cdeb9d 663px,#daf09a 675px,#b5e1a2 684px,#b3e0a2 687px,#bfe5a0 690px,#e7f59a 696px,#eaf79e 708px,#e8f69b 711px,#ddf19a 714px,#e6f598 717px,#eef8a4 723px,#e8f69b 738px,#b1dfa3 756px,#acdda4 759px,#c1e6a0 765px,#c1e6a0 774px,#d6ee9b 780px,#e7f59a 783px,#ecf7a1 789px,#e6f598 795px,#c3e79f 810px,#9cd7a4 819px,#7ecca5 834px,#81cda5 840px,#a4daa4 849px,#9fd8a4 861px,#b1dfa3 864px,#b1dfa3 879px,#a4daa4 891px,#b1dfa3 903px,#99d6a4 915px,#b8e2a1 927px,#c1e6a0 939px,#e8f69b 948px,#e7f59a 960px,#e4f498 969px)"></div><div style="height:3px;background:linear-gradient(90deg,#fa9656 0px,#fb9d59 6px,#fecc7b 9px,#feea9b 12px,#fff7b2 15px,#fffcba 18px,#fff8b4 21px,#fed27f 30px,#fcaa5f 39px,#fb9d59 45px,#fa9857 54px,#f99153 57px,#fb9d59 63px,#fdad60 69px,#fdb163 84px,#f99153 96px,#f67c4a 105px,#e45549 108px,#ee6445 114px,#f47044 117px,#fba35c 129px,#fca55d 132px,#f88950 138px,#f57748 141px,#f47044 144px,#f7844e 147px,#fdb768 150px,#fede89 153px,#fee18d 156px,#fa9b58 159px,#f67f4b 165px,#f57748 183px,#eb6046 192px,#e95c47 195px,#f36b43 198px,#fdad60 204px,#fba35c 207px,#f88c51 210px,#fdb768 216px,#fdc574 219px,#fdbd6d 234px,#f98e52 243px,#f98e52 246px,#fca55d 249px,#fedc88 255px,#fee491 258px,#fee28f 261px,#fdbb6c 267px,#fdaf62 270px,#fdbd6d 276px,#fee18d 285px,#fff2aa 294px,#feea9b 306px,#fff3ac 309px,#fff5ae 333px,#fff0a6 336px,#fed07e 342px,#fdc372 345px,#fdc574 348px,#fedc88 354px,#fee18d 357px,#fa9857 360px,#f99153 363px,#fdb96a 366px,#fffdbc 369px,#ecf7a1 372px,#e4f498 375px,#cfec9d 381px,#cdeb9d 384px,#e4f498 390px,#fefebd 402px,#fefebd 408px,#9cd7a4 411px,#8cd1a4 414px,#7ecca5 420px,#84cea5 426px,#b3e0a2 444px,#b1dfa3 450px,#99d6a4 459px,#a4daa4 465px,#b3e0a2 471px,#b1dfa3 486px,#e6f598 495px,#f0f9a7 519px,#ecf7a1 537px,#e6f598 543px,#b5e1a2 558px,#b5e1a2 564px,#c3e79f 573px,#bae3a1 576px,#91d3a4 582px,#84cea5 585px,#79c9a5 600px,#99d6a4 615px,#e8f69b 633px,#f9fcb5 645px,#f9fcb5 651px,#e6f598 660px,#c8e99e 663px,#d8ef9b 672px,#d8ef9b 675px,#b3e0a2 684px,#aedea3 687px,#e4f498 696px,#e9f69d 708px,#e7f59a 711px,#daf09a 714px,#ebf7a0 723px,#e8f69b 738px,#d6ee9b 744px,#b8e2a1 753px,#acdda4 759px,#c6e89f 765px,#caea9e 777px,#e8f69b 783px,#edf8a3 789px,#dff299 798px,#bce4a0 810px,#8fd2a4 822px,#79c9a5 834px,#76c8a5 837px,#7ccaa5 840px,#a2d9a4 849px,#99d6a4 861px,#acdda4 864px,#aedea3 879px,#a2d9a4 888px,#aedea3 903px,#97d5a4 915px,#b8e2a1 924px,#c6e89f 939px,#e7f59a 948px,#e6f598 960px,#e1f399 969px)"></div><div style="height:3px;background:linear-gradient(90deg,#fa9857 0px,#fba05b 6px,#fece7c 9px,#feeb9d 12px,#fff8b4 15px,#fffebe 18px,#fffbb8 21px,#fed27f 30px,#fca85e 39px,#fa9b58 45px,#fa9857 54px,#f98e52 57px,#fdad60 69px,#fdaf62 84px,#f67f4b 105px,#e45549 108px,#ef6645 114px,#fb9d59 126px,#fca85e 132px,#f88c51 138px,#f57748 141px,#f46d43 144px,#f7844e 147px,#fdb768 150px,#fee08b 153px,#fee491 156px,#fa9b58 159px,#f7844e 165px,#f67c4a 177px,#f67c4a 183px,#eb6046 192px,#e95c47 195px,#f46d43 198px,#fdb365 204px,#fcaa5f 207px,#f99153 210px,#fdb567 216px,#fdc171 219px,#fdbd6d 234px,#fdb163 237px,#f88950 243px,#f8864f 246px,#fba35c 249px,#fdc574 252px,#fedc88 255px,#fee08b 261px,#fdb96a 267px,#fdaf62 270px,#fdbb6c 276px,#fee08b 285px,#fff3ac 294px,#fff1a8 300px,#feeb9d 306px,#fff3ac 309px,#fff5ae 333px,#fff0a6 336px,#fee491 339px,#fece7c 342px,#fdc171 345px,#fdc372 348px,#fee08b 357px,#fa9857 360px,#f99355 363px,#fdbd6d 366px,#fefebd 369px,#e8f69b 372px,#c8e99e 381px,#c6e89f 384px,#cdeb9d 387px,#eaf79e 393px,#fffebe 405px,#fcfeba 408px,#9cd7a4 411px,#89d0a4 414px,#79c9a5 420px,#7ecca5 426px,#aedea3 444px,#acdda4 450px,#97d5a4 459px,#aedea3 471px,#aedea3 486px,#e1f399 495px,#edf8a3 507px,#edf8a3 531px,#e1f399 543px,#b1dfa3 558px,#b3e0a2 564px,#c1e6a0 573px,#b8e2a1 576px,#7ecca5 585px,#76c8a5 600px,#8cd1a4 612px,#dff299 630px,#f2faaa 639px,#fbfdb8 648px,#f5fbaf 654px,#e4f498 660px,#c3e79f 663px,#d3ed9c 672px,#d3ed9c 675px,#aedea3 684px,#acdda4 687px,#b8e2a1 690px,#e1f399 696px,#e7f59a 705px,#e4f498 711px,#d6ee9b 714px,#e6f598 720px,#e8f69b 735px,#dff299 741px,#aedea3 756px,#acdda4 759px,#c8e99e 765px,#cdeb9d 777px,#e9f69d 783px,#eef8a4 789px,#e1f399 798px,#8cd1a4 822px,#71c6a5 834px,#6ec5a5 837px,#74c7a5 840px,#a2d9a4 849px,#97d5a4 861px,#acdda4 864px,#acdda4 879px,#a2d9a4 888px,#aedea3 900px,#97d5a4 912px,#97d5a4 915px,#bae3a1 924px,#cfec9d 942px,#e6f598 948px,#e1f399 960px,#dff299 969px)"></div><div style="height:3px;background:linear-gradient(90deg,#fa9857 0px,#fba05b 6px,#fed07e 9px,#feeb9d 12px,#fffab6 15px,#fffebe 18px,#fffbb8 21px,#fed27f 30px,#fca55d 39px,#fa9857 42px,#fa9857 54px,#f98e52 57px,#f99153 60px,#fca85e 66px,#fdad60 78px,#fca85e 87px,#f99153 99px,#f7814c 105px,#e45549 108px,#f06744 114px,#fba05b 126px,#fdad60 132px,#fba35c 135px,#f57748 141px,#f46d43 144px,#f7844e 147px,#fdb96a 150px,#fee18d 153px,#fee593 156px,#fb9d59 159px,#f8864f 165px,#f7814c 177px,#f7814c 183px,#f26944 189px,#e95c47 195px,#f46d43 198px,#fa9857 201px,#fdb96a 204px,#fdb163 207px,#fa9857 210px,#fdbf6f 219px,#fdbd6d 234px,#fdaf62 237px,#f8864f 243px,#f7844e 246px,#fba05b 249px,#fdc574 252px,#fedc88 255px,#fedc88 261px,#fdad60 270px,#fdbb6c 276px,#fee797 288px,#fff3ac 294px,#fff5ae 297px,#feeb9d 306px,#fff3ac 309px,#fff5ae 333px,#fff0a6 336px,#fece7c 342px,#fdbf6f 345px,#fdc171 348px,#feda86 354px,#fee08b 357px,#fa9857 360px,#fa9857 363px,#fdc372 366px,#fafdb7 369px,#e1f399 372px,#c1e6a0 381px,#bfe5a0 384px,#c6e89f 387px,#e7f59a 393px,#fefebd 405px,#fbfdb8 408px,#99d6a4 411px,#79c9a5 417px,#74c7a5 423px,#a4daa4 441px,#acdda4 447px,#94d4a4 459px,#acdda4 474px,#acdda4 486px,#dff299 495px,#ecf7a1 504px,#edf8a3 528px,#e6f598 540px,#c3e79f 552px,#aedea3 558px,#aedea3 564px,#bfe5a0 573px,#b5e1a2 576px,#8cd1a4 582px,#7ecca5 585px,#71c6a5 600px,#7ccaa5 609px,#d1ed9c 627px,#e1f399 630px,#fafdb7 645px,#fafdb7 651px,#eef8a4 657px,#e1f399 660px,#bfe5a0 663px,#d1ed9c 672px,#d1ed9c 675px,#aedea3 684px,#acdda4 687px,#b8e2a1 690px,#dff299 696px,#e6f598 702px,#e1f399 711px,#d3ed9c 714px,#e6f598 723px,#e6f598 738px,#b5e1a2 753px,#acdda4 759px,#c8e99e 765px,#cdeb9d 777px,#e9f69d 783px,#eef8a4 789px,#e1f399 798px,#99d6a4 816px,#7ecca5 825px,#69c3a5 834px,#66c2a5 837px,#6bc4a5 840px,#9fd8a4 849px,#94d4a4 861px,#aadca4 864px,#aadca4 879px,#9fd8a4 888px,#aadca4 900px,#94d4a4 912px,#94d4a4 915px,#acdda4 921px,#bae3a1 924px,#c8e99e 939px,#e4f498 948px,#e4f498 957px,#ddf19a 969px)"></div><div style="height:3px;background:linear-gradient(90deg,#fa9857 0px,#fba05b 6px,#fece7c 9px,#feeb9d 12px,#fffab6 15px,#fffebe 18px,#fffbb8 21px,#fed27f 30px,#fba35c 39px,#fa9656 42px,#fa9857 54px,#f88c51 57px,#fa9b58 63px,#fdad60 69px,#fcaa5f 84px,#f88c51 102px,#f7814c 105px,#e45549 108px,#f06744 114px,#fca55d 126px,#fdb163 132px,#fca55d 135px,#f67a49 141px,#f46d43 144px,#f7844e 147px,#fdbb6c 150px,#fee491 153px,#fee695 156px,#fba35c 159px,#f88c51 165px,#f8864f 177px,#f8864f 183px,#f36b43 189px,#e95c47 195px,#f47044 198px,#fa9b58 201px,#fdbd6d 204px,#fdb768 207px,#fba05b 210px,#fdbf6f 219px,#fdbd6d 234px,#fdb163 237px,#f88950 243px,#f7844e 246px,#fba35c 249px,#fdc776 252px,#fede89 255px,#fed884 261px,#fdb768 267px,#fdaf62 270px,#fdbb6c 276px,#fee797 288px,#fff3ac 294px,#feeb9d 306px,#fff3ac 309px,#fff5ae 333px,#fff0a6 336px,#fee491 339px,#fece7c 342px,#fdc171 345px,#fecc7b 351px,#fee08b 357px,#fa9857 360px,#fa9b58 363px,#feca79 366px,#f4faad 369px,#d6ee9b 372px,#bae3a1 381px,#c1e6a0 387px,#e1f399 393px,#fdfebb 405px,#fafdb7 408px,#99d6a4 411px,#81cda5 414px,#6bc4a5 420px,#6bc4a5 423px,#99d6a4 438px,#a4daa4 447px,#91d3a4 459px,#a7dba4 471px,#acdda4 486px,#e6f598 498px,#eef8a4 510px,#eaf79e 534px,#ddf19a 543px,#aadca4 558px,#acdda4 564px,#bce4a0 573px,#b3e0a2 576px,#89d0a4 582px,#7ccaa5 585px,#6ec5a5 594px,#71c6a5 606px,#76c8a5 609px,#d1ed9c 627px,#e1f399 630px,#fafdb7 645px,#fafdb7 651px,#edf8a3 657px,#dff299 660px,#bae3a1 663px,#cfec9d 672px,#cfec9d 675px,#aedea3 684px,#acdda4 687px,#daf09a 696px,#e4f498 699px,#e4f498 708px,#cfec9d 714px,#e1f399 726px,#e1f399 738px,#b3e0a2 753px,#aadca4 759px,#c8e99e 765px,#cdeb9d 777px,#e9f69d 783px,#eef8a4 789px,#e1f399 798px,#9cd7a4 813px,#66c2a5 831px,#5eb9a9 837px,#64c0a6 840px,#9cd7a4 849px,#91d3a4 861px,#aadca4 864px,#a4daa4 879px,#9cd7a4 888px,#a7dba4 900px,#91d3a4 912px,#91d3a4 915px,#99d6a4 918px,#bae3a1 924px,#cfec9d 942px,#e1f399 951px,#d8ef9b 969px)"></div><div style="height:3px;background:linear-gradient(90deg,#fa9656 0px,#fb9d59 6px,#fecc7b 9px,#feea9b 12px,#fff7b2 15px,#fffdbc 18px,#fffab6 21px,#fee28f 27px,#fdb163 36px,#f99355 42px,#fa9656 54px,#f88c51 57px,#f98e52 60px,#fca55d 66px,#fcaa5f 78px,#fb9d59 90px,#f88c51 102px,#f7814c 105px,#e55749 108px,#e95c47 111px,#f36b43 114px,#fba05b 123px,#fdb567 129px,#fdb768 132px,#fdad60 135px,#f67c4a 141px,#f57245 144px,#f88950 147px,#fdbd6d 150px,#fee593 153px,#fee797 156px,#fcaa5f 159px,#fa9656 165px,#f98e52 177px,#f88c51 183px,#f46d43 189px,#ea5e47 195px,#f57245 198px,#fba05b 201px,#fdc171 204px,#fdbd6d 207px,#fdad60 210px,#fdc372 219px,#fdc171 234px,#f88c51 243px,#f88950 246px,#fca55d 249px,#fdc776 252px,#fede89 255px,#fede89 258px,#fdb768 267px,#fdb365 273px,#fedc88 285px,#fff3ac 294px,#fff0a6 300px,#feeb9d 306px,#fff3ac 309px,#fff6b0 333px,#fff1a8 336px,#fed07e 342px,#fdc372 345px,#fece7c 351px,#fee08b 357px,#fa9b58 360px,#fca55d 363px,#fed884 366px,#ebf7a0 369px,#c3e79f 372px,#b3e0a2 384px,#c8e99e 390px,#e8f69b 396px,#fafdb7 405px,#f8fcb4 408px,#99d6a4 411px,#7ecca5 414px,#6ec5a5 417px,#66c2a5 420px,#66c2a5 423px,#8fd2a4 435px,#9cd7a4 444px,#97d5a4 453px,#8fd2a4 459px,#a4daa4 474px,#aadca4 486px,#d8ef9b 495px,#eaf79e 504px,#ecf7a1 525px,#e6f598 537px,#bae3a1 552px,#a4daa4 558px,#a2d9a4 561px,#b8e2a1 573px,#9fd8a4 579px,#89d0a4 582px,#74c7a5 588px,#69c3a5 600px,#6bc4a5 609px,#d1ed9c 627px,#e1f399 630px,#f4faad 639px,#fbfdb8 648px,#f4faad 654px,#ddf19a 660px,#b8e2a1 663px,#caea9e 672px,#c3e79f 678px,#aedea3 684px,#acdda4 687px,#d8ef9b 696px,#dff299 702px,#daf09a 711px,#caea9e 714px,#dff299 732px,#dff299 738px,#b8e2a1 750px,#a7dba4 759px,#c8e99e 765px,#cdeb9d 777px,#e9f69d 783px,#edf8a3 789px,#dff299 798px,#b1dfa3 807px,#9fd8a4 810px,#62bda7 828px,#54aead 837px,#5ab4ab 840px,#84cea5 846px,#97d5a4 849px,#8fd2a4 861px,#aadca4 864px,#9cd7a4 891px,#a4daa4 900px,#8fd2a4 912px,#8fd2a4 915px,#97d5a4 918px,#b8e2a1 924px,#caea9e 942px,#ddf19a 951px,#d1ed9c 969px)"></div><div style="height:3px;background:linear-gradient(90deg,#f99153 0px,#fa9857 6px,#feca79 9px,#fee797 12px,#fff5ae 15px,#fffbb8 18px,#fff7b2 21px,#fee08b 27px,#fb9d59 39px,#f99153 42px,#f99355 54px,#f88950 57px,#fa9656 63px,#fca55d 69px,#fca55d 84px,#f88c51 102px,#f7814c 105px,#e75948 108px,#eb6046 111px,#f47044 114px,#fa9857 120px,#fdb567 126px,#fdbf6f 132px,#fdb567 135px,#f7844e 141px,#f57748 144px,#f98e52 147px,#fdc171 150px,#fee695 153px,#feea9b 156px,#fdb365 159px,#fba05b 165px,#f99153 183px,#f47044 189px,#ea5e47 195px,#f57547 198px,#fba35c 201px,#fdc574 204px,#fdc372 207px,#fdb768 210px,#fec877 219px,#fdc574 234px,#fca55d 240px,#f99153 243px,#f98e52 246px,#fcaa5f 249px,#feca79 252px,#fee08b 255px,#fede89 258px,#fdb96a 267px,#fdb567 273px,#fed884 285px,#fff2aa 294px,#feea9b 306px,#fff3ac 309px,#fff6b0 333px,#fff2aa 336px,#fed27f 342px,#fdc574 345px,#fed07e 351px,#fee08b 357px,#fb9d59 360px,#fdaf62 363px,#fee695 366px,#d6ee9b 369px,#aedea3 372px,#aedea3 384px,#c1e6a0 390px,#e1f399 396px,#f8fcb4 405px,#f6fbb0 408px,#99d6a4 411px,#7ccaa5 414px,#69c3a5 417px,#60bba8 420px,#66c2a5 426px,#89d0a4 435px,#97d5a4 447px,#8cd1a4 459px,#a2d9a4 480px,#aadca4 486px,#ddf19a 498px,#eaf79e 507px,#e8f69b 531px,#ddf19a 540px,#c3e79f 549px,#9fd8a4 558px,#9cd7a4 561px,#b3e0a2 573px,#acdda4 576px,#79c9a5 585px,#64c0a6 600px,#62bda7 609px,#cfec9d 627px,#e1f399 630px,#f4faad 639px,#fbfdb8 648px,#f3faac 654px,#ebf7a0 657px,#d8ef9b 660px,#b3e0a2 663px,#c8e99e 672px,#c1e6a0 678px,#aedea3 687px,#d6ee9b 696px,#daf09a 708px,#d6ee9b 711px,#c3e79f 714px,#ddf19a 735px,#d3ed9c 741px,#acdda4 753px,#a4daa4 759px,#c8e99e 765px,#cdeb9d 777px,#e8f69b 783px,#edf8a3 789px,#e6f598 795px,#bce4a0 804px,#97d5a4 810px,#79c9a5 819px,#58b2ac 828px,#47a0b3 837px,#4ea7b0 840px,#60bba8 843px,#91d3a4 849px,#8cd1a4 861px,#aadca4 864px,#99d6a4 891px,#9fd8a4 903px,#8cd1a4 912px,#8cd1a4 915px,#94d4a4 918px,#b5e1a2 924px,#c3e79f 942px,#d8ef9b 951px,#caea9e 966px,#caea9e 969px)"></div><div style="height:3px;background:linear-gradient(90deg,#f88c51 0px,#f88c51 3px,#fa9656 6px,#fdc574 9px,#fee491 12px,#fff1a8 15px,#fff7b2 18px,#fff3ac 21px,#fedc88 27px,#fcaa5f 36px,#f98e52 42px,#f99153 54px,#f8864f 57px,#f99355 63px,#fba35c 72px,#fca55d 84px,#f88c51 102px,#f7814c 105px,#e95c47 108px,#ee6445 111px,#f57547 114px,#fba05b 120px,#fdbd6d 126px,#fec877 132px,#fdbd6d 135px,#f88c51 141px,#f67f4b 144px,#fa9656 147px,#fdc574 150px,#fee797 153px,#feeb9d 156px,#fdbf6f 159px,#fcaa5f 168px,#fa9857 183px,#f57547 189px,#ef6645 192px,#eb6046 195px,#f57748 198px,#fca85e 201px,#fec877 204px,#fdc171 210px,#fece7c 222px,#feca79 234px,#fdad60 240px,#fa9b58 243px,#fa9656 246px,#fdaf62 249px,#fecc7b 252px,#fee18d 255px,#fedc88 258px,#fdbb6c 267px,#fdb96a 273px,#fed481 285px,#fff1a8 294px,#feea9b 306px,#fff3ac 309px,#fff7b2 324px,#fff7b2 333px,#fff3ac 336px,#fed683 342px,#fec877 345px,#fed27f 351px,#fee08b 357px,#fba35c 360px,#fdb96a 363px,#fff1a8 366px,#bce4a0 369px,#91d3a4 372px,#a2d9a4 381px,#d6ee9b 396px,#e6f598 399px,#f5fbaf 405px,#f4faad 408px,#9cd7a4 411px,#79c9a5 414px,#64c0a6 417px,#5ab4ab 420px,#5ab4ab 423px,#7ccaa5 432px,#8fd2a4 447px,#8cd1a4 462px,#a2d9a4 483px,#d8ef9b 498px,#e8f69b 507px,#e6f598 531px,#d8ef9b 540px,#99d6a4 558px,#97d5a4 561px,#acdda4 573px,#a7dba4 576px,#79c9a5 585px,#60bba8 600px,#5ab4ab 609px,#6ec5a5 612px,#caea9e 627px,#e1f399 630px,#f1f9a9 636px,#fafdb7 648px,#f2faaa 654px,#e9f69d 657px,#d3ed9c 660px,#aedea3 663px,#c3e79f 672px,#b8e2a1 681px,#b1dfa3 687px,#d1ed9c 696px,#d6ee9b 708px,#cfec9d 711px,#bce4a0 714px,#cdeb9d 729px,#d8ef9b 738px,#a7dba4 753px,#9fd8a4 759px,#c6e89f 765px,#caea9e 777px,#e7f59a 783px,#ecf7a1 789px,#e1f399 795px,#b3e0a2 804px,#8fd2a4 810px,#7ecca5 816px,#58b2ac 825px,#3990ba 837px,#4199b6 840px,#56b0ad 843px,#74c7a5 846px,#89d0a4 849px,#89d0a4 861px,#aadca4 864px,#97d5a4 885px,#99d6a4 903px,#86cfa5 915px,#91d3a4 918px,#b3e0a2 924px,#b5e1a2 939px,#cfec9d 948px,#d1ed9c 954px,#bfe5a0 963px,#bfe5a0 969px)"></div><div style="height:3px;background:linear-gradient(90deg,#f8864f 0px,#f98e52 6px,#fdc171 9px,#fee08b 12px,#feeda1 15px,#fff2aa 18px,#feefa3 21px,#fed683 27px,#fa9656 39px,#f88c51 42px,#f98e52 54px,#f8864f 60px,#fb9d59 72px,#fba35c 84px,#f88c51 102px,#f7814c 105px,#eb6046 108px,#f06744 111px,#fca85e 120px,#fece7c 129px,#fed27f 132px,#fdc776 135px,#fa9656 141px,#f8864f 144px,#fb9d59 147px,#fec877 150px,#fee999 153px,#feeda1 156px,#feca79 159px,#fdb365 171px,#fba05b 183px,#f57748 189px,#f06744 192px,#ed6246 195px,#f67a49 198px,#fcaa5f 201px,#feca79 204px,#fed07e 207px,#fed07e 213px,#fed683 228px,#fed27f 234px,#fba35c 243px,#fba05b 246px,#fdb567 249px,#fed07e 252px,#fee491 255px,#fdbf6f 267px,#fdc372 279px,#fed07e 285px,#fee999 291px,#feefa3 294px,#feec9f 303px,#feea9b 306px,#fff3ac 309px,#fff8b4 324px,#fff8b4 333px,#fff5ae 336px,#feda86 342px,#fece7c 345px,#fed481 351px,#fee08b 357px,#fcaa5f 360px,#fdc372 363px,#fffcba 366px,#a2d9a4 369px,#71c6a5 372px,#79c9a5 375px,#a7dba4 384px,#cdeb9d 396px,#ddf19a 399px,#f2faaa 405px,#f1f9a9 408px,#9cd7a4 411px,#76c8a5 414px,#60bba8 417px,#56b0ad 420px,#5cb7aa 426px,#76c8a5 432px,#81cda5 441px,#91d3a4 471px,#a7dba4 486px,#cdeb9d 495px,#e4f498 507px,#dff299 531px,#d3ed9c 540px,#94d4a4 558px,#91d3a4 561px,#a7dba4 573px,#a2d9a4 576px,#79c9a5 585px,#5cb7aa 600px,#50a9af 609px,#66c2a5 612px,#c8e99e 627px,#dff299 630px,#f2faaa 636px,#fafdb7 648px,#f1f9a9 654px,#e8f69b 657px,#cfec9d 660px,#aadca4 663px,#c1e6a0 675px,#b3e0a2 687px,#d1ed9c 699px,#d1ed9c 708px,#caea9e 711px,#b5e1a2 714px,#bce4a0 726px,#d3ed9c 735px,#d3ed9c 738px,#aadca4 750px,#97d5a4 759px,#c6e89f 765px,#caea9e 777px,#e6f598 783px,#ebf7a0 789px,#e7f59a 792px,#acdda4 804px,#94d4a4 807px,#86cfa5 810px,#79c9a5 816px,#69c3a5 819px,#3990ba 831px,#3387bc 834px,#3682ba 837px,#3389bd 840px,#66c2a5 846px,#81cda5 849px,#86cfa5 861px,#aadca4 864px,#a4daa4 870px,#97d5a4 879px,#97d5a4 903px,#81cda5 915px,#8cd1a4 918px,#aedea3 924px,#b3e0a2 942px,#caea9e 951px,#b5e1a2 963px,#b5e1a2 969px)"></div><div style="height:3px;background:linear-gradient(90deg,#f7814c 0px,#f88950 6px,#fdb96a 9px,#feda86 12px,#fee999 15px,#feefa3 18px,#feeb9d 21px,#fed07e 27px,#fba35c 36px,#f88950 42px,#f88c51 54px,#f7844e 57px,#fba05b 81px,#f99153 99px,#f7814c 105px,#ee6445 108px,#f36b43 111px,#fdb163 120px,#fed884 129px,#feda86 132px,#fed07e 135px,#fba05b 141px,#f99153 144px,#fca55d 147px,#fecc7b 150px,#feea9b 153px,#feefa3 156px,#fed683 159px,#fdb96a 174px,#fca85e 183px,#f26944 192px,#ef6645 195px,#f67c4a 198px,#fdad60 201px,#fecc7b 204px,#fed884 210px,#fedc88 228px,#fed884 234px,#fdad60 243px,#fcaa5f 246px,#fed683 252px,#fee593 255px,#fecc7b 261px,#fdc171 273px,#fecc7b 285px,#feeda1 294px,#feea9b 306px,#fff3ac 309px,#fffbb8 324px,#fffbb8 333px,#fff6b0 336px,#fede89 342px,#fed27f 345px,#fee08b 357px,#fdaf62 360px,#fece7c 363px,#fafdb7 366px,#86cfa5 369px,#5ab4ab 372px,#64c0a6 375px,#91d3a4 381px,#acdda4 387px,#c3e79f 396px,#e7f59a 402px,#eff9a6 405px,#eff9a6 408px,#9cd7a4 411px,#76c8a5 414px,#5cb7aa 417px,#50a9af 420px,#50a9af 423px,#74c7a5 432px,#94d4a4 477px,#b1dfa3 489px,#cfec9d 498px,#ddf19a 510px,#d6ee9b 537px,#a7dba4 552px,#8fd2a4 558px,#8cd1a4 561px,#a2d9a4 573px,#91d3a4 579px,#76c8a5 585px,#5eb9a9 597px,#47a0b3 609px,#62bda7 612px,#acdda4 624px,#dff299 630px,#edf8a3 633px,#f8fcb4 645px,#f7fcb2 651px,#e6f598 657px,#a4daa4 663px,#bce4a0 672px,#bae3a1 690px,#cdeb9d 699px,#cdeb9d 708px,#c6e89f 711px,#aedea3 714px,#b1dfa3 726px,#cdeb9d 735px,#cfec9d 738px,#a2d9a4 750px,#91d3a4 759px,#aedea3 762px,#c3e79f 765px,#c8e99e 777px,#e4f498 783px,#e9f69d 789px,#e4f498 792px,#a2d9a4 804px,#7ccaa5 810px,#71c6a5 816px,#54aead 822px,#3990ba 828px,#3585bb 831px,#4175b4 837px,#3a7eb8 840px,#4199b6 843px,#5eb9a9 846px,#76c8a5 849px,#7ecca5 852px,#84cea5 861px,#aadca4 864px,#94d4a4 879px,#91d3a4 903px,#7ecca5 915px,#86cfa5 918px,#aadca4 924px,#acdda4 930px,#a4daa4 939px,#c3e79f 951px,#bae3a1 957px,#aadca4 963px,#aadca4 969px)"></div><div style="height:3px;background:linear-gradient(90deg,#f67a49 0px,#f7814c 6px,#fdb365 9px,#fed27f 12px,#fee491 15px,#fee999 18px,#fee695 21px,#feca79 27px,#fb9d59 36px,#f8864f 42px,#f8864f 63px,#fb9d59 81px,#fa9656 96px,#f7814c 105px,#f06744 108px,#f47044 111px,#fca55d 117px,#fed683 126px,#fee28f 132px,#fed884 135px,#fcaa5f 141px,#fa9b58 144px,#fdaf62 147px,#feeb9d 153px,#fff1a8 156px,#fee18d 159px,#fdaf62 183px,#f46d43 192px,#f06744 195px,#f67c4a 198px,#fcaa5f 201px,#fecc7b 204px,#fede89 207px,#fee491 219px,#fee08b 234px,#fdb567 243px,#fdb365 246px,#feda86 252px,#fee695 255px,#fecc7b 261px,#fdc372 282px,#fdc776 285px,#fee491 291px,#feec9f 294px,#feea9b 306px,#fff3ac 309px,#fffcba 321px,#fffcba 333px,#fff8b4 336px,#fee28f 342px,#fed884 345px,#fee08b 357px,#fdb567 360px,#fed884 363px,#f2faaa 366px,#71c6a5 369px,#49a2b2 372px,#56b0ad 375px,#6bc4a5 378px,#89d0a4 381px,#9cd7a4 384px,#b8e2a1 396px,#dff299 402px,#ecf7a1 405px,#ecf7a1 408px,#9fd8a4 411px,#74c7a5 414px,#58b2ac 417px,#4ba4b1 420px,#4ba4b1 423px,#62bda7 429px,#71c6a5 432px,#76c8a5 450px,#86cfa5 465px,#89d0a4 474px,#cfec9d 501px,#d6ee9b 522px,#d1ed9c 537px,#a2d9a4 552px,#89d0a4 558px,#86cfa5 561px,#9cd7a4 573px,#81cda5 582px,#62bda7 594px,#4199b6 609px,#5cb7aa 612px,#81cda5 618px,#a4daa4 624px,#ddf19a 630px,#edf8a3 633px,#f5fbaf 639px,#f6fbb0 651px,#e1f399 657px,#c3e79f 660px,#9cd7a4 663px,#b8e2a1 672px,#bce4a0 690px,#c8e99e 702px,#c8e99e 708px,#bfe5a0 711px,#a4daa4 714px,#a4daa4 726px,#c8e99e 735px,#c1e6a0 741px,#94d4a4 753px,#89d0a4 759px,#aadca4 762px,#c1e6a0 765px,#c6e89f 777px,#e1f399 783px,#e8f69b 789px,#dff299 792px,#97d5a4 804px,#81cda5 807px,#74c7a5 810px,#6bc4a5 816px,#3389bd 828px,#466eb1 834px,#496aaf 837px,#4273b3 840px,#378ebb 843px,#56b0ad 846px,#6ec5a5 849px,#81cda5 861px,#aadca4 864px,#91d3a4 879px,#8cd1a4 906px,#79c9a5 915px,#84cea5 918px,#a4daa4 924px,#a4daa4 930px,#99d6a4 939px,#bae3a1 951px,#b1dfa3 957px,#9fd8a4 963px,#9fd8a4 969px)"></div><div style="height:3px;background:linear-gradient(90deg,#f57245 0px,#f67a49 6px,#fdad60 9px,#feca79 12px,#fede89 15px,#fee491 18px,#fee18d 21px,#fca85e 33px,#f88c51 39px,#f7844e 45px,#f7844e 66px,#fa9b58 81px,#f99355 99px,#f7814c 105px,#f26944 108px,#f57547 111px,#fdad60 117px,#fedc88 126px,#fee797 132px,#fee08b 135px,#fdb365 141px,#fca55d 144px,#fdb567 147px,#fed683 150px,#feeda1 153px,#fff2aa 156px,#fee999 159px,#fdbf6f 180px,#fdb567 183px,#f47044 192px,#f36b43 195px,#f67f4b 198px,#fdad60 201px,#fece7c 204px,#fee28f 207px,#fee797 210px,#fee593 234px,#fedc88 237px,#fdbd6d 243px,#fdb96a 246px,#fede89 252px,#fee999 255px,#feda86 258px,#fece7c 261px,#fdc171 282px,#fdc574 285px,#fee28f 291px,#feea9b 294px,#feea9b 306px,#fff3ac 309px,#fffdbc 318px,#fffdbc 333px,#fffab6 336px,#fedc88 345px,#fee08b 357px,#fdbb6c 360px,#fee08b 363px,#edf8a3 366px,#64c0a6 369px,#3d95b8 372px,#4ba4b1 375px,#64c0a6 378px,#84cea5 381px,#97d5a4 384px,#b1dfa3 396px,#bfe5a0 399px,#d8ef9b 402px,#e9f69d 405px,#eaf79e 408px,#a2d9a4 411px,#74c7a5 414px,#56b0ad 417px,#47a0b3 420px,#47a0b3 423px,#6ec5a5 432px,#6ec5a5 441px,#6ec5a5 450px,#7ecca5 459px,#84cea5 474px,#bfe5a0 495px,#cfec9d 513px,#cdeb9d 537px,#9cd7a4 552px,#84cea5 558px,#81cda5 561px,#97d5a4 573px,#7ecca5 582px,#58b2ac 597px,#3f97b7 606px,#3d95b8 609px,#58b2ac 612px,#69c3a5 615px,#9fd8a4 624px,#daf09a 630px,#edf8a3 633px,#f5fbaf 639px,#f8fcb4 648px,#edf8a3 654px,#ddf19a 657px,#97d5a4 663px,#b8e2a1 675px,#c3e79f 708px,#bae3a1 711px,#99d6a4 714px,#94d4a4 723px,#97d5a4 726px,#c1e6a0 735px,#c3e79f 738px,#8fd2a4 753px,#81cda5 759px,#a7dba4 762px,#bfe5a0 765px,#c3e79f 777px,#e7f59a 786px,#e6f598 789px,#9fd8a4 801px,#76c8a5 807px,#6bc4a5 810px,#66c2a5 816px,#3b92b9 825px,#3585bb 828px,#496aaf 834px,#4e63ac 837px,#486cb0 840px,#3387bc 843px,#50a9af 846px,#66c2a5 849px,#71c6a5 852px,#7ecca5 861px,#aadca4 864px,#8fd2a4 879px,#89d0a4 906px,#74c7a5 915px,#7ecca5 918px,#9fd8a4 924px,#9fd8a4 930px,#8fd2a4 939px,#aedea3 948px,#b3e0a2 951px,#a7dba4 957px,#97d5a4 960px,#91d3a4 969px)"></div><div style="height:3px;background:linear-gradient(90deg,#f36b43 0px,#f57245 6px,#fba35c 9px,#fdc372 12px,#fed683 15px,#fede89 18px,#feda86 21px,#fdaf62 30px,#f7814c 42px,#f7844e 72px,#fa9656 81px,#fa9656 96px,#f88c51 102px,#f7814c 105px,#f46d43 108px,#f67a49 111px,#fdb365 117px,#fee28f 126px,#feeb9d 132px,#fee491 135px,#fdbb6c 141px,#fdaf62 144px,#fdbb6c 147px,#feda86 150px,#feefa3 153px,#fff5ae 156px,#fed683 174px,#fdbb6c 183px,#fca85e 186px,#f57547 192px,#f46d43 195px,#f7844e 198px,#fdaf62 201px,#fed27f 204px,#fee695 207px,#feeb9d 210px,#feea9b 234px,#fee28f 237px,#fdc372 243px,#fdc171 246px,#fee18d 252px,#feea9b 255px,#feda86 258px,#fece7c 261px,#fece7c 273px,#fdbf6f 282px,#fdc171 285px,#fee18d 291px,#fee999 294px,#feea9b 306px,#fff8b4 312px,#ffffbe 321px,#fffcba 336px,#fee797 342px,#fee18d 345px,#fee08b 357px,#fdbf6f 360px,#fee491 363px,#eaf79e 366px,#60bba8 369px,#3b92b9 372px,#49a2b2 375px,#62bda7 378px,#81cda5 381px,#94d4a4 384px,#a7dba4 396px,#b8e2a1 399px,#e6f598 405px,#e8f69b 408px,#a2d9a4 411px,#74c7a5 414px,#56b0ad 417px,#459eb4 420px,#439bb5 423px,#6bc4a5 432px,#71c6a5 435px,#64c0a6 447px,#7ccaa5 459px,#7ccaa5 474px,#bae3a1 495px,#c8e99e 516px,#c6e89f 537px,#a4daa4 549px,#7ecca5 558px,#7ccaa5 561px,#94d4a4 573px,#7ccaa5 582px,#56b0ad 597px,#3990ba 609px,#52abae 612px,#62bda7 615px,#99d6a4 624px,#daf09a 630px,#edf8a3 633px,#f4faad 639px,#f7fcb2 648px,#f4faad 651px,#ebf7a0 654px,#d6ee9b 657px,#b8e2a1 660px,#91d3a4 663px,#b1dfa3 672px,#bfe5a0 687px,#bce4a0 708px,#b3e0a2 711px,#8fd2a4 714px,#86cfa5 723px,#89d0a4 726px,#aedea3 732px,#bae3a1 735px,#bce4a0 738px,#aadca4 744px,#99d6a4 747px,#7ccaa5 759px,#a2d9a4 762px,#bfe5a0 765px,#c1e6a0 777px,#e4f498 786px,#e1f399 789px,#bfe5a0 795px,#6ec5a5 807px,#64c0a6 810px,#62bda7 816px,#3990ba 825px,#3682ba 828px,#4b68ae 834px,#5061aa 837px,#496aaf 840px,#3682ba 843px,#60bba8 849px,#6ec5a5 855px,#71c6a5 858px,#7ccaa5 861px,#aadca4 864px,#a2d9a4 870px,#91d3a4 876px,#86cfa5 894px,#81cda5 909px,#71c6a5 915px,#79c9a5 918px,#9cd7a4 924px,#97d5a4 930px,#86cfa5 939px,#aadca4 951px,#9cd7a4 957px,#8cd1a4 960px,#86cfa5 969px)"></div><div style="height:3px;background:linear-gradient(90deg,#ee6445 0px,#f26944 6px,#fa9857 9px,#fdb96a 12px,#fecc7b 15px,#fed481 18px,#fdc574 24px,#fb9d59 33px,#f8864f 39px,#f67f4b 51px,#f67f4b 63px,#f67f4b 72px,#f99355 84px,#fa9857 96px,#f7814c 105px,#f47044 108px,#f67f4b 111px,#fdb96a 117px,#fee593 126px,#feec9f 129px,#feeda1 132px,#fee797 135px,#fdc372 141px,#fdb768 144px,#fdc372 147px,#fee08b 150px,#fff1a8 153px,#fff7b2 156px,#fff5ae 162px,#fed884 177px,#fdc372 183px,#fdaf62 186px,#f67c4a 192px,#f57245 195px,#f88950 198px,#fdb365 201px,#fed481 204px,#fee999 207px,#feefa3 210px,#feeda1 234px,#fed884 240px,#feca79 243px,#fdc776 246px,#feeb9d 255px,#fedc88 258px,#fed27f 261px,#fed27f 273px,#fdbd6d 282px,#fdbf6f 285px,#fede89 291px,#fee797 294px,#feea9b 306px,#fffab6 312px,#fefebd 321px,#fffebe 336px,#feeb9d 342px,#fee28f 348px,#fee18d 357px,#fdc776 360px,#fee797 363px,#e8f69b 366px,#60bba8 369px,#3d95b8 372px,#49a2b2 375px,#62bda7 378px,#7ecca5 381px,#8fd2a4 384px,#9fd8a4 396px,#aedea3 399px,#e1f399 405px,#e4f498 408px,#a4daa4 411px,#76c8a5 414px,#54aead 417px,#4199b6 420px,#4199b6 423px,#6bc4a5 432px,#71c6a5 435px,#5eb9a9 447px,#69c3a5 453px,#74c7a5 459px,#74c7a5 474px,#aadca4 489px,#bfe5a0 507px,#bfe5a0 537px,#aadca4 546px,#79c9a5 558px,#76c8a5 561px,#8fd2a4 573px,#84cea5 579px,#66c2a5 588px,#378ebb 609px,#5eb9a9 615px,#7ccaa5 621px,#94d4a4 624px,#d8ef9b 630px,#ecf7a1 633px,#f3faac 639px,#f5fbaf 648px,#f2faaa 651px,#e9f69d 654px,#d1ed9c 657px,#8fd2a4 663px,#94d4a4 666px,#b3e0a2 675px,#c1e6a0 687px,#b8e2a1 708px,#acdda4 711px,#84cea5 714px,#76c8a5 723px,#7ccaa5 726px,#aedea3 735px,#acdda4 741px,#79c9a5 756px,#74c7a5 759px,#9cd7a4 762px,#bae3a1 765px,#bfe5a0 777px,#dff299 786px,#daf09a 789px,#b3e0a2 795px,#86cfa5 801px,#66c2a5 807px,#5eb9a9 810px,#5cb7aa 816px,#3990ba 825px,#3682ba 828px,#4b68ae 834px,#5061aa 837px,#4b68ae 840px,#3880b9 843px,#5ab4ab 849px,#6bc4a5 858px,#76c8a5 861px,#aadca4 864px,#99d6a4 873px,#81cda5 888px,#81cda5 906px,#6bc4a5 915px,#97d5a4 924px,#91d3a4 930px,#7ecca5 939px,#9cd7a4 951px,#8fd2a4 957px,#7ecca5 960px,#79c9a5 969px)"></div><div style="height:3px;background:linear-gradient(90deg,#e85b48 0px,#eb6046 6px,#fdad60 12px,#fdc171 15px,#fec877 18px,#fdbb6c 24px,#f98e52 36px,#f67f4b 42px,#f67c4a 54px,#f7814c 60px,#f57547 69px,#fa9b58 93px,#f99355 99px,#f57547 108px,#f7814c 111px,#fdbf6f 117px,#fee08b 123px,#feefa3 129px,#fff0a6 132px,#fede89 138px,#feca79 141px,#fdc171 144px,#feca79 147px,#fee08b 150px,#fff0a6 153px,#fffbb8 156px,#ffffbe 159px,#fff7b2 165px,#fed884 180px,#fdb768 186px,#f7844e 192px,#f67a49 195px,#f98e52 198px,#fed884 204px,#feec9f 207px,#fff1a8 210px,#fff2aa 228px,#fff2aa 234px,#fed27f 243px,#fece7c 246px,#feec9f 255px,#fee08b 258px,#fed683 261px,#fedc88 270px,#fecc7b 276px,#fdb96a 282px,#fdbd6d 285px,#fee695 294px,#fee999 306px,#fffbb8 312px,#ffffbe 315px,#fcfeba 327px,#fefebd 336px,#fee999 345px,#fee28f 357px,#fece7c 360px,#feeb9d 363px,#e7f59a 366px,#62bda7 369px,#3f97b7 372px,#62bda7 378px,#7ccaa5 381px,#89d0a4 384px,#97d5a4 396px,#a7dba4 399px,#daf09a 405px,#dff299 408px,#aadca4 411px,#79c9a5 414px,#54aead 417px,#3f97b7 420px,#3d95b8 423px,#6bc4a5 432px,#71c6a5 435px,#56b0ad 447px,#6bc4a5 459px,#6bc4a5 474px,#9fd8a4 486px,#b5e1a2 504px,#b8e2a1 537px,#9cd7a4 549px,#71c6a5 558px,#6ec5a5 561px,#8cd1a4 573px,#7ecca5 579px,#66c2a5 585px,#3990ba 606px,#378ebb 609px,#64c0a6 618px,#8cd1a4 624px,#d3ed9c 630px,#eaf79e 633px,#f1f9a9 639px,#f3faac 648px,#f0f9a7 651px,#e6f598 654px,#89d0a4 663px,#8fd2a4 666px,#aadca4 672px,#c3e79f 684px,#bce4a0 693px,#b3e0a2 702px,#b1dfa3 708px,#a2d9a4 711px,#76c8a5 714px,#66c2a5 723px,#69c3a5 726px,#9cd7a4 735px,#9cd7a4 741px,#6bc4a5 759px,#97d5a4 762px,#b8e2a1 765px,#b3e0a2 774px,#cdeb9d 783px,#d6ee9b 786px,#d1ed9c 789px,#a4daa4 795px,#89d0a4 798px,#66c2a5 804px,#58b2ac 810px,#50a9af 819px,#3990ba 825px,#3585bb 828px,#4b68ae 834px,#5061aa 837px,#4b68ae 840px,#3b7cb7 843px,#3f97b7 846px,#52abae 849px,#60bba8 855px,#6ec5a5 861px,#aadca4 864px,#8cd1a4 879px,#7ccaa5 888px,#7ccaa5 906px,#69c3a5 915px,#71c6a5 918px,#8fd2a4 924px,#91d3a4 927px,#79c9a5 936px,#79c9a5 942px,#89d0a4 951px,#7ecca5 957px,#71c6a5 960px,#6ec5a5 969px)"></div><div style="height:3px;background:linear-gradient(90deg,#e1504b 0px,#e45549 6px,#f57748 9px,#fa9b58 12px,#fdb365 15px,#fdbb6c 18px,#fdb163 24px,#f88c51 36px,#f67c4a 45px,#f67a49 54px,#f7814c 57px,#f47044 69px,#f67f4b 81px,#fb9d59 93px,#fa9656 99px,#f57748 108px,#f8864f 111px,#fdc574 117px,#fed884 120px,#fff1a8 129px,#fff2aa 132px,#feeda1 135px,#fed481 141px,#fecc7b 144px,#fed27f 147px,#fffebe 156px,#f8fcb4 159px,#fffebe 165px,#fee18d 180px,#fed481 183px,#fca55d 189px,#f88c51 192px,#f7844e 195px,#fa9857 198px,#fdbb6c 201px,#fede89 204px,#feefa3 207px,#fff5ae 210px,#fff2aa 222px,#fff7b2 234px,#feda86 243px,#fed683 246px,#feeda1 255px,#fedc88 261px,#fee18d 270px,#fed07e 276px,#fdb768 282px,#fdbb6c 285px,#feda86 291px,#fee695 297px,#fee797 306px,#fff5ae 309px,#fffdbc 312px,#f9fcb5 327px,#fffbb8 339px,#feec9f 345px,#fee593 357px,#fed683 360px,#feefa3 363px,#e6f598 366px,#66c2a5 369px,#459eb4 372px,#50a9af 375px,#64c0a6 378px,#7ccaa5 381px,#86cfa5 384px,#8fd2a4 396px,#9cd7a4 399px,#d3ed9c 405px,#daf09a 408px,#7ecca5 414px,#56b0ad 417px,#3d95b8 420px,#3b92b9 423px,#6bc4a5 432px,#71c6a5 435px,#5cb7aa 441px,#4ea7b0 447px,#62bda7 459px,#5eb9a9 471px,#62bda7 474px,#81cda5 480px,#94d4a4 483px,#acdda4 504px,#b1dfa3 537px,#97d5a4 549px,#69c3a5 558px,#66c2a5 561px,#84cea5 570px,#84cea5 576px,#60bba8 585px,#358bbc 609px,#6ec5a5 621px,#86cfa5 624px,#cdeb9d 630px,#e8f69b 633px,#eff9a6 639px,#edf8a3 651px,#dff299 654px,#84cea5 663px,#89d0a4 666px,#b1dfa3 675px,#c6e89f 684px,#c3e79f 690px,#aedea3 699px,#aadca4 708px,#99d6a4 711px,#69c3a5 714px,#58b2ac 723px,#66c2a5 729px,#86cfa5 735px,#86cfa5 744px,#79c9a5 753px,#64c0a6 759px,#b3e0a2 765px,#aedea3 777px,#caea9e 786px,#c6e89f 789px,#b1dfa3 792px,#74c7a5 798px,#5cb7aa 804px,#52abae 813px,#4199b6 822px,#3585bb 828px,#4b68ae 834px,#5061aa 837px,#4b68ae 840px,#3d79b6 843px,#3990ba 846px,#54aead 852px,#64c0a6 861px,#aadca4 864px,#aadca4 867px,#79c9a5 885px,#79c9a5 894px,#7ccaa5 903px,#64c0a6 915px,#89d0a4 924px,#8cd1a4 927px,#6ec5a5 936px,#71c6a5 945px,#76c8a5 951px,#6ec5a5 957px,#64c0a6 960px,#62bda7 969px)"></div><div style="height:3px;background:linear-gradient(90deg,#d9444d 0px,#dc484c 6px,#f06744 9px,#f88950 12px,#fba05b 15px,#fcaa5f 18px,#f98e52 33px,#f67c4a 45px,#f57748 54px,#f7814c 57px,#f57547 63px,#f26944 69px,#f57547 81px,#f88c51 87px,#fba35c 93px,#fa9656 99px,#f67c4a 108px,#f88c51 111px,#fdaf62 114px,#fecc7b 117px,#fede89 120px,#fff3ac 129px,#fff5ae 132px,#fff1a8 135px,#fede89 141px,#fed884 144px,#fedc88 147px,#fdfebb 156px,#f1f9a9 159px,#ffffbe 168px,#fede89 183px,#fdaf62 189px,#fa9857 192px,#f98e52 195px,#fba05b 198px,#fee18d 204px,#fff1a8 207px,#fff8b4 210px,#fff5ae 222px,#fffcba 231px,#fffbb8 234px,#fee18d 243px,#fede89 246px,#feefa3 255px,#fee28f 261px,#fee695 270px,#fee18d 273px,#fdb567 282px,#fdb768 285px,#fee28f 294px,#fee593 306px,#fff6b0 309px,#ffffbe 312px,#f6fbb0 321px,#fafdb7 336px,#fffebe 339px,#fff0a6 345px,#fee999 357px,#fee08b 360px,#fff2aa 363px,#e6f598 366px,#6bc4a5 369px,#49a2b2 372px,#64c0a6 378px,#79c9a5 381px,#84cea5 387px,#86cfa5 396px,#94d4a4 399px,#cdeb9d 405px,#d3ed9c 408px,#b5e1a2 411px,#86cfa5 414px,#58b2ac 417px,#3b92b9 420px,#3990ba 423px,#6bc4a5 432px,#71c6a5 435px,#66c2a5 438px,#4ba4b1 444px,#459eb4 447px,#58b2ac 459px,#56b0ad 471px,#5ab4ab 474px,#66c2a5 477px,#91d3a4 483px,#a2d9a4 504px,#a2d9a4 528px,#a7dba4 537px,#94d4a4 549px,#64c0a6 558px,#60bba8 561px,#74c7a5 567px,#84cea5 573px,#7ecca5 576px,#5ab4ab 585px,#3389bd 609px,#66c2a5 621px,#7ecca5 624px,#e4f498 633px,#ebf7a0 639px,#edf8a3 648px,#e9f69d 651px,#d6ee9b 654px,#97d5a4 660px,#7ecca5 663px,#c1e6a0 681px,#caea9e 687px,#aadca4 699px,#a2d9a4 708px,#8fd2a4 711px,#5eb9a9 714px,#4ea7b0 720px,#4ea7b0 726px,#6ec5a5 735px,#7ecca5 747px,#7ecca5 750px,#5eb9a9 759px,#acdda4 765px,#a2d9a4 774px,#aedea3 780px,#bce4a0 786px,#b8e2a1 789px,#9fd8a4 792px,#79c9a5 795px,#5eb9a9 798px,#4ea7b0 807px,#459eb4 819px,#3585bb 828px,#4b68ae 834px,#5061aa 837px,#4d65ad 840px,#3389bd 846px,#439bb5 849px,#5eb9a9 861px,#aadca4 864px,#a4daa4 870px,#6ec5a5 888px,#79c9a5 900px,#62bda7 912px,#69c3a5 918px,#84cea5 924px,#84cea5 927px,#66c2a5 936px,#62bda7 954px,#58b2ac 966px,#58b2ac 969px)"></div><div style="height:3px;background:linear-gradient(90deg,#d0384e 0px,#d43d4f 6px,#f57547 12px,#f88c51 15px,#fa9656 18px,#f7844e 36px,#f57748 54px,#f7814c 57px,#f67f4b 60px,#f06744 66px,#f36b43 81px,#f57547 84px,#fa9b58 90px,#fca55d 93px,#fa9857 99px,#f7814c 105px,#f67f4b 108px,#f99153 111px,#fed27f 117px,#feeb9d 123px,#fff6b0 129px,#fff7b2 132px,#feec9f 138px,#fee18d 144px,#fee491 147px,#feeb9d 150px,#fff7b2 153px,#fafdb7 156px,#ebf7a0 159px,#fefebd 171px,#fff5ae 177px,#fee593 183px,#fdb96a 189px,#fba35c 192px,#fa9b58 195px,#fcaa5f 198px,#fee491 204px,#fff3ac 207px,#fffbb8 210px,#fff7b2 222px,#fffebe 228px,#ffffbe 234px,#fee695 243px,#fee797 249px,#fff0a6 255px,#fee797 261px,#feea9b 270px,#fee593 273px,#fdb365 282px,#fdb567 285px,#fee18d 294px,#fee491 306px,#fff7b2 309px,#fdfebb 312px,#f4faad 321px,#f8fcb4 336px,#fdfebb 339px,#fff1a8 348px,#fee695 360px,#fff6b0 363px,#e6f598 366px,#71c6a5 369px,#52abae 372px,#66c2a5 378px,#79c9a5 381px,#7ecca5 390px,#7ecca5 396px,#8cd1a4 399px,#c6e89f 405px,#cfec9d 408px,#bae3a1 411px,#8fd2a4 414px,#5ab4ab 417px,#3b92b9 420px,#378ebb 423px,#6bc4a5 432px,#71c6a5 435px,#64c0a6 438px,#459eb4 444px,#3f97b7 447px,#50a9af 462px,#4ba4b1 471px,#50a9af 474px,#60bba8 477px,#8fd2a4 483px,#97d5a4 513px,#94d4a4 525px,#9cd7a4 537px,#8fd2a4 549px,#81cda5 552px,#6bc4a5 555px,#5eb9a9 558px,#5cb7aa 561px,#6ec5a5 567px,#7ccaa5 570px,#81cda5 573px,#6bc4a5 579px,#52abae 585px,#3389bd 609px,#439bb5 615px,#62bda7 621px,#79c9a5 624px,#ddf19a 633px,#e7f59a 636px,#e9f69d 648px,#e4f498 651px,#8fd2a4 660px,#79c9a5 663px,#8fd2a4 669px,#c3e79f 681px,#cdeb9d 687px,#a2d9a4 699px,#99d6a4 708px,#84cea5 711px,#54aead 714px,#4199b6 720px,#3f97b7 726px,#69c3a5 741px,#79c9a5 750px,#60bba8 756px,#56b0ad 759px,#81cda5 762px,#a7dba4 765px,#97d5a4 774px,#aedea3 786px,#aadca4 789px,#8cd1a4 792px,#64c0a6 795px,#4ba4b1 798px,#459eb4 810px,#3f97b7 822px,#3387bc 828px,#5061aa 837px,#4d65ad 840px,#3682ba 846px,#439bb5 852px,#58b2ac 861px,#aadca4 864px,#9fd8a4 873px,#89d0a4 879px,#6bc4a5 885px,#66c2a5 888px,#74c7a5 900px,#5eb9a9 912px,#5eb9a9 915px,#7ccaa5 924px,#7ecca5 927px,#60bba8 936px,#4ea7b0 963px,#4ea7b0 969px)"></div><div style="height:3px;background:linear-gradient(90deg,#c32a4b 0px,#c72e4c 6px,#df4e4b 9px,#ef6645 12px,#f67a49 15px,#f7814c 21px,#f67a49 45px,#f57547 54px,#f7814c 57px,#f47044 63px,#ed6246 69px,#ef6645 81px,#f46d43 84px,#fa9b58 90px,#fca85e 93px,#fca55d 96px,#f88950 102px,#f7814c 105px,#f7844e 108px,#fa9656 111px,#fed884 117px,#feeda1 123px,#fff8b4 129px,#fffab6 132px,#fee999 144px,#feea9b 147px,#fffab6 153px,#f8fcb4 156px,#e4f498 159px,#eef8a4 165px,#fefebd 174px,#fff3ac 180px,#fedc88 186px,#fdaf62 192px,#fca55d 195px,#fdb567 198px,#fee797 204px,#fff6b0 207px,#fffcba 210px,#fffab6 222px,#fdfebb 228px,#fbfdb8 234px,#fffdbc 237px,#feeb9d 243px,#feec9f 249px,#fff1a8 255px,#feec9f 264px,#feeda1 270px,#fee999 273px,#fdc171 279px,#fdb163 282px,#fdb365 285px,#fee08b 294px,#fee28f 306px,#fff8b4 309px,#fbfdb8 312px,#f2faaa 318px,#f3faac 333px,#fffdbc 342px,#fff2aa 351px,#feeb9d 360px,#fff8b4 363px,#e7f59a 366px,#79c9a5 369px,#58b2ac 372px,#69c3a5 378px,#76c8a5 381px,#7ccaa5 384px,#79c9a5 396px,#84cea5 399px,#c1e6a0 405px,#caea9e 408px,#c1e6a0 411px,#99d6a4 414px,#5eb9a9 417px,#3990ba 420px,#358bbc 423px,#6bc4a5 432px,#71c6a5 435px,#62bda7 438px,#3f97b7 444px,#3990ba 447px,#47a0b3 462px,#439bb5 471px,#47a0b3 474px,#74c7a5 480px,#8cd1a4 483px,#8cd1a4 507px,#89d0a4 516px,#86cfa5 525px,#91d3a4 537px,#8cd1a4 549px,#7ecca5 552px,#66c2a5 555px,#5ab4ab 558px,#56b0ad 561px,#79c9a5 570px,#7ecca5 573px,#76c8a5 576px,#56b0ad 582px,#49a2b2 585px,#3389bd 609px,#358bbc 612px,#4ba4b1 618px,#71c6a5 624px,#b8e2a1 630px,#d3ed9c 633px,#dff299 636px,#e4f498 648px,#daf09a 651px,#84cea5 660px,#74c7a5 663px,#7ccaa5 666px,#c3e79f 681px,#cfec9d 687px,#b8e2a1 693px,#9cd7a4 699px,#91d3a4 708px,#79c9a5 711px,#49a2b2 714px,#378ebb 720px,#3389bd 726px,#66c2a5 744px,#71c6a5 747px,#74c7a5 750px,#69c3a5 753px,#50a9af 759px,#79c9a5 762px,#9fd8a4 765px,#8cd1a4 774px,#8cd1a4 777px,#9fd8a4 786px,#99d6a4 789px,#79c9a5 792px,#56b0ad 795px,#3d95b8 798px,#3b92b9 804px,#3d95b8 822px,#3387bc 828px,#5061aa 837px,#4471b2 843px,#358bbc 849px,#52abae 861px,#aadca4 864px,#9fd8a4 873px,#99d6a4 876px,#69c3a5 885px,#62bda7 888px,#71c6a5 900px,#64c0a6 906px,#5ab4ab 909px,#5cb7aa 915px,#76c8a5 924px,#76c8a5 927px,#56b0ad 939px,#459eb4 957px,#439bb5 969px)"></div><div style="height:3px;background:linear-gradient(90deg,#ba2049 0px,#bc2249 6px,#d7414e 9px,#ef6645 15px,#f57245 21px,#f67a49 39px,#f57245 54px,#f7814c 57px,#f67c4a 60px,#f46d43 63px,#ea5e47 69px,#eb6046 81px,#f06744 84px,#fa9b58 90px,#fcaa5f 93px,#fca85e 96px,#f88950 102px,#f7814c 105px,#f8864f 108px,#fb9d59 111px,#fede89 117px,#fff6b0 126px,#fffcba 132px,#feeda1 144px,#fff5ae 150px,#fffdbc 153px,#f5fbaf 156px,#daf09a 159px,#e9f69d 165px,#fefebd 177px,#fffbb8 180px,#fee491 186px,#fdb96a 192px,#fdb163 195px,#fdbd6d 198px,#feea9b 204px,#fff8b4 207px,#fffebe 210px,#fffcba 222px,#fefebd 225px,#f6fbb0 231px,#f6fbb0 234px,#fcfeba 237px,#fff8b4 240px,#fff0a6 243px,#fff1a8 258px,#fff1a8 270px,#feeb9d 273px,#feda86 276px,#fdaf62 282px,#fdb365 285px,#fede89 294px,#fee18d 306px,#fffab6 309px,#fafdb7 312px,#eff9a6 318px,#f1f9a9 333px,#fefebd 342px,#fff0a6 360px,#fffbb8 363px,#e7f59a 366px,#81cda5 369px,#5eb9a9 372px,#76c8a5 384px,#74c7a5 396px,#7ecca5 399px,#bae3a1 405px,#c6e89f 408px,#c6e89f 411px,#a2d9a4 414px,#62bda7 417px,#3990ba 420px,#358bbc 423px,#6bc4a5 432px,#71c6a5 435px,#62bda7 438px,#3b92b9 444px,#358bbc 450px,#3f97b7 462px,#3b92b9 471px,#3f97b7 474px,#6ec5a5 480px,#89d0a4 483px,#89d0a4 489px,#7ecca5 498px,#84cea5 513px,#79c9a5 525px,#8cd1a4 546px,#89d0a4 549px,#64c0a6 555px,#56b0ad 558px,#52abae 561px,#66c2a5 567px,#76c8a5 570px,#7ecca5 573px,#74c7a5 576px,#60bba8 579px,#4ea7b0 582px,#439bb5 585px,#3387bc 609px,#3990ba 615px,#6ec5a5 624px,#b1dfa3 630px,#caea9e 633px,#d6ee9b 636px,#d8ef9b 648px,#cfec9d 651px,#7ccaa5 660px,#6ec5a5 663px,#76c8a5 666px,#c6e89f 681px,#d1ed9c 687px,#b5e1a2 693px,#94d4a4 699px,#89d0a4 708px,#71c6a5 711px,#439bb5 714px,#358bbc 717px,#3a7eb8 723px,#3585bb 729px,#3d95b8 735px,#69c3a5 747px,#6ec5a5 750px,#49a2b2 759px,#71c6a5 762px,#99d6a4 765px,#81cda5 774px,#8cd1a4 783px,#91d3a4 786px,#89d0a4 789px,#69c3a5 792px,#49a2b2 795px,#3387bc 798px,#3682ba 801px,#378ebb 807px,#3b92b9 816px,#3990ba 825px,#3389bd 828px,#496aaf 834px,#5061aa 837px,#4e63ac 840px,#3387bc 849px,#4ea7b0 861px,#aadca4 864px,#a2d9a4 873px,#8cd1a4 879px,#64c0a6 885px,#60bba8 891px,#6bc4a5 900px,#69c3a5 903px,#52abae 912px,#69c3a5 921px,#71c6a5 927px,#58b2ac 936px,#3f97b7 948px,#3b92b9 969px)"></div><div style="height:3px;background:linear-gradient(90deg,#b11747 0px,#b61b48 6px,#cd364d 9px,#e75948 15px,#f36b43 24px,#f57748 45px,#f46d43 54px,#f7814c 57px,#f67c4a 60px,#f46d43 63px,#e95c47 69px,#e95c47 81px,#ef6645 84px,#f67c4a 87px,#fa9b58 90px,#fdad60 93px,#fcaa5f 96px,#f88950 102px,#f7814c 105px,#f88c51 108px,#fca55d 111px,#fee18d 117px,#feec9f 120px,#fffcba 129px,#fffcba 135px,#fff2aa 144px,#fefebd 153px,#f4faad 156px,#d3ed9c 159px,#e4f498 165px,#fefebd 180px,#fff8b4 183px,#fed683 189px,#fdc171 192px,#fdbb6c 195px,#fdc574 198px,#feec9f 204px,#fffab6 207px,#fffebe 210px,#ffffbe 222px,#f1f9a9 231px,#f8fcb4 237px,#fffdbc 240px,#fff5ae 243px,#fff3ac 270px,#feeda1 273px,#fedc88 276px,#fdc171 279px,#fdaf62 282px,#fdb163 285px,#fede89 294px,#fee08b 306px,#fffab6 309px,#f8fcb4 312px,#edf8a3 318px,#eff9a6 333px,#fffebe 345px,#fff3ac 357px,#fff3ac 360px,#fffcba 363px,#e8f69b 366px,#86cfa5 369px,#64c0a6 372px,#74c7a5 387px,#71c6a5 396px,#7ccaa5 399px,#b3e0a2 405px,#c8e99e 411px,#a4daa4 414px,#62bda7 417px,#3990ba 420px,#3389bd 423px,#6bc4a5 432px,#71c6a5 435px,#60bba8 438px,#3990ba 444px,#3387bc 447px,#3b92b9 462px,#358bbc 471px,#3990ba 474px,#6bc4a5 480px,#84cea5 483px,#89d0a4 486px,#76c8a5 495px,#7ccaa5 504px,#7ccaa5 513px,#6bc4a5 522px,#7ecca5 540px,#89d0a4 546px,#86cfa5 549px,#60bba8 555px,#52abae 558px,#4ea7b0 561px,#64c0a6 567px,#76c8a5 570px,#7ccaa5 573px,#71c6a5 576px,#47a0b3 582px,#3d95b8 585px,#358bbc 603px,#3387bc 612px,#378ebb 615px,#6bc4a5 624px,#acdda4 630px,#c3e79f 633px,#cdeb9d 636px,#cdeb9d 648px,#c6e89f 651px,#acdda4 654px,#89d0a4 657px,#74c7a5 660px,#69c3a5 663px,#71c6a5 666px,#c6e89f 681px,#d1ed9c 687px,#c6e89f 690px,#99d6a4 696px,#8cd1a4 699px,#84cea5 708px,#6bc4a5 711px,#3d95b8 714px,#3387bc 717px,#3f77b5 723px,#3b7cb7 729px,#3585bb 732px,#3f97b7 738px,#64c0a6 747px,#69c3a5 750px,#459eb4 759px,#6bc4a5 762px,#94d4a4 765px,#76c8a5 774px,#81cda5 786px,#7ccaa5 789px,#5eb9a9 792px,#3f97b7 795px,#3b7cb7 798px,#3d79b6 801px,#3389bd 807px,#3b92b9 816px,#3990ba 825px,#3389bd 828px,#496aaf 834px,#5061aa 837px,#486cb0 843px,#3585bb 849px,#3f97b7 858px,#4ba4b1 861px,#aadca4 864px,#a2d9a4 873px,#9cd7a4 876px,#64c0a6 885px,#5eb9a9 891px,#69c3a5 900px,#64c0a6 903px,#4ea7b0 912px,#64c0a6 921px,#69c3a5 927px,#54aead 936px,#378ebb 948px,#358bbc 969px)"></div><div style="height:3px;background:linear-gradient(90deg,#ad1246 0px,#b11747 6px,#d7414e 12px,#e95c47 21px,#f57547 42px,#f36b43 54px,#f7814c 57px,#f67c4a 60px,#f46d43 63px,#e95c47 69px,#e95c47 81px,#ee6445 84px,#f67c4a 87px,#fa9b58 90px,#fdad60 93px,#fa9b58 99px,#f88950 102px,#f7814c 105px,#f98e52 108px,#fcaa5f 111px,#fee491 117px,#fffbb8 126px,#ffffbe 132px,#fff6b0 144px,#fcfeba 153px,#f2faaa 156px,#d1ed9c 159px,#e6f598 168px,#ffffbe 183px,#fee08b 189px,#feca79 192px,#fdc372 195px,#fecc7b 198px,#feefa3 204px,#fffbb8 207px,#ffffbe 213px,#fdfebb 222px,#ecf7a1 231px,#f3faac 237px,#fcfeba 240px,#fff6b0 249px,#fff6b0 270px,#fff0a6 273px,#fede89 276px,#fdc171 279px,#fdaf62 282px,#fdb163 285px,#fede89 294px,#fee08b 306px,#fffab6 309px,#f7fcb2 312px,#eaf79e 318px,#edf8a3 333px,#fdfebb 345px,#fff6b0 360px,#fffdbc 363px,#e9f69d 366px,#8cd1a4 369px,#69c3a5 372px,#71c6a5 396px,#7ccaa5 399px,#aedea3 405px,#c8e99e 411px,#a4daa4 414px,#62bda7 417px,#3990ba 420px,#3389bd 423px,#6bc4a5 432px,#71c6a5 435px,#60bba8 438px,#3990ba 444px,#3387bc 447px,#378ebb 462px,#3585bb 471px,#3389bd 474px,#66c2a5 480px,#81cda5 483px,#86cfa5 486px,#6ec5a5 495px,#6ec5a5 501px,#79c9a5 510px,#6ec5a5 516px,#60bba8 522px,#6ec5a5 537px,#86cfa5 546px,#84cea5 549px,#74c7a5 552px,#4ea7b0 558px,#49a2b2 561px,#64c0a6 567px,#76c8a5 570px,#7ccaa5 573px,#6ec5a5 576px,#439bb5 582px,#378ebb 585px,#378ebb 603px,#3387bc 612px,#378ebb 615px,#6bc4a5 624px,#a7dba4 630px,#bce4a0 633px,#c3e79f 639px,#c3e79f 648px,#bae3a1 651px,#7ecca5 657px,#6bc4a5 660px,#64c0a6 663px,#6bc4a5 666px,#b5e1a2 678px,#cfec9d 684px,#d1ed9c 687px,#c3e79f 690px,#91d3a4 696px,#84cea5 699px,#7ecca5 708px,#69c3a5 711px,#3b92b9 714px,#3682ba 717px,#4273b3 723px,#3d79b6 729px,#358bbc 735px,#60bba8 747px,#62bda7 750px,#439bb5 759px,#69c3a5 762px,#8fd2a4 765px,#6bc4a5 774px,#76c8a5 786px,#71c6a5 789px,#56b0ad 792px,#3990ba 795px,#3f77b5 798px,#4273b3 801px,#3389bd 807px,#3990ba 813px,#3990ba 825px,#3389bd 828px,#496aaf 834px,#5061aa 837px,#486cb0 843px,#3585bb 849px,#3f97b7 858px,#49a2b2 861px,#aadca4 864px,#9fd8a4 876px,#64c0a6 885px,#5cb7aa 888px,#64c0a6 900px,#49a2b2 912px,#5eb9a9 921px,#62bda7 927px,#3990ba 945px,#3387bc 948px,#3585bb 969px)"></div><div style="height:3px;background:linear-gradient(90deg,#ab0f45 0px,#ad1246 6px,#d8434e 15px,#f47044 39px,#f47044 48px,#f06744 54px,#f7814c 57px,#f67f4b 60px,#f47044 63px,#ea5e47 69px,#ea5e47 81px,#ef6645 84px,#fa9857 90px,#fcaa5f 93px,#fca85e 96px,#f88950 102px,#f7814c 105px,#f99355 108px,#fdb163 111px,#fee593 117px,#fff7b2 123px,#fffdbc 126px,#fffebe 138px,#fffab6 144px,#fffebe 150px,#f0f9a7 156px,#cfec9d 159px,#e8f69b 174px,#fffbb8 186px,#fed481 192px,#fecc7b 195px,#fed683 198px,#fffbb8 207px,#ffffbe 210px,#f9fcb5 222px,#e6f598 231px,#e6f598 234px,#fffebe 243px,#fff6b0 255px,#fff7b2 270px,#fff1a8 273px,#fee18d 276px,#fdc574 279px,#fdb567 282px,#fdb768 285px,#fee08b 294px,#fee18d 306px,#fffab6 309px,#f7fcb2 312px,#e8f69b 318px,#eaf79e 330px,#f7fcb2 342px,#ffffbe 348px,#fff7b2 357px,#fff7b2 360px,#fffdbc 363px,#ebf7a0 366px,#91d3a4 369px,#6ec5a5 372px,#6bc4a5 390px,#74c7a5 396px,#7ecca5 399px,#acdda4 405px,#bce4a0 408px,#c3e79f 411px,#a2d9a4 414px,#62bda7 417px,#3b92b9 420px,#358bbc 423px,#439bb5 426px,#5ab4ab 429px,#6bc4a5 432px,#71c6a5 435px,#62bda7 438px,#3990ba 444px,#3387bc 447px,#378ebb 459px,#3682ba 468px,#3a7eb8 471px,#3585bb 474px,#459eb4 477px,#64c0a6 480px,#7ecca5 483px,#81cda5 486px,#66c2a5 495px,#66c2a5 501px,#76c8a5 510px,#5cb7aa 519px,#56b0ad 525px,#60bba8 537px,#84cea5 546px,#84cea5 549px,#71c6a5 552px,#4ba4b1 558px,#47a0b3 561px,#52abae 564px,#64c0a6 567px,#79c9a5 570px,#81cda5 573px,#71c6a5 576px,#3f97b7 582px,#3389bd 585px,#3990ba 603px,#3389bd 612px,#3990ba 615px,#6bc4a5 624px,#b3e0a2 633px,#bae3a1 636px,#b3e0a2 648px,#aadca4 651px,#74c7a5 657px,#64c0a6 660px,#5eb9a9 663px,#66c2a5 666px,#b5e1a2 678px,#cfec9d 684px,#d1ed9c 687px,#c1e6a0 690px,#86cfa5 696px,#79c9a5 699px,#76c8a5 708px,#66c2a5 711px,#3990ba 714px,#3880b9 717px,#466eb1 723px,#3880b9 732px,#358bbc 735px,#5cb7aa 747px,#5eb9a9 750px,#3f97b7 759px,#64c0a6 762px,#89d0a4 765px,#64c0a6 774px,#69c3a5 786px,#64c0a6 789px,#3389bd 795px,#4471b2 798px,#466eb1 801px,#3387bc 807px,#3b92b9 813px,#3b92b9 825px,#358bbc 828px,#486cb0 834px,#4e63ac 837px,#466eb1 843px,#3585bb 849px,#3f97b7 858px,#4ba4b1 861px,#a7dba4 864px,#a4daa4 876px,#94d4a4 879px,#64c0a6 885px,#5eb9a9 891px,#5cb7aa 903px,#459eb4 912px,#5ab4ab 921px,#58b2ac 930px,#358bbc 945px,#3880b9 951px,#3a7eb8 969px)"></div><div style="height:3px;background:linear-gradient(90deg,#ab0f45 0px,#ab0f45 6px,#d63f4f 18px,#f47044 42px,#ef6645 54px,#f7814c 57px,#f67f4b 60px,#ef6645 66px,#ed6246 81px,#f06744 84px,#fa9656 90px,#fca55d 93px,#fba35c 96px,#f7814c 105px,#fdb567 111px,#fed27f 114px,#fee797 117px,#fffab6 123px,#ffffbe 126px,#fafdb7 132px,#fffebe 141px,#fdfebb 150px,#eef8a4 156px,#cdeb9d 159px,#ddf19a 174px,#e9f69d 180px,#eef8a4 183px,#fbfdb8 186px,#fff1a8 189px,#fee08b 192px,#fed683 195px,#fede89 198px,#fffcba 207px,#fafdb7 216px,#f4faad 222px,#e1f399 228px,#d3ed9c 231px,#d3ed9c 234px,#e6f598 237px,#fbfdb8 243px,#fffebe 246px,#fff7b2 255px,#fff8b4 270px,#fff2aa 273px,#fee491 276px,#fecc7b 279px,#fdbd6d 282px,#fdbf6f 285px,#fee28f 294px,#fee28f 306px,#fffab6 309px,#f6fbb0 312px,#e4f498 318px,#e1f399 324px,#eaf79e 333px,#fdfebb 348px,#fffab6 360px,#fffdbc 363px,#ecf7a1 366px,#99d6a4 369px,#71c6a5 372px,#66c2a5 384px,#71c6a5 393px,#76c8a5 396px,#b8e2a1 408px,#bfe5a0 411px,#9fd8a4 414px,#62bda7 417px,#3d95b8 420px,#3990ba 423px,#6bc4a5 432px,#71c6a5 435px,#62bda7 438px,#3990ba 444px,#3387bc 447px,#3389bd 462px,#3d79b6 471px,#3a7eb8 474px,#4199b6 477px,#60bba8 480px,#7ccaa5 483px,#7ecca5 486px,#5eb9a9 495px,#60bba8 501px,#74c7a5 510px,#6bc4a5 513px,#52abae 519px,#4ba4b1 525px,#52abae 537px,#71c6a5 543px,#81cda5 546px,#81cda5 549px,#6ec5a5 552px,#49a2b2 558px,#459eb4 561px,#52abae 564px,#66c2a5 567px,#7ecca5 570px,#89d0a4 573px,#76c8a5 576px,#3d95b8 582px,#3585bb 585px,#3990ba 603px,#378ebb 612px,#3d95b8 615px,#6bc4a5 624px,#a7dba4 633px,#aedea3 636px,#9fd8a4 648px,#7ecca5 654px,#69c3a5 657px,#5cb7aa 660px,#58b2ac 663px,#60bba8 666px,#a2d9a4 675px,#c3e79f 681px,#cfec9d 687px,#bce4a0 690px,#79c9a5 696px,#6bc4a5 699px,#71c6a5 708px,#64c0a6 711px,#3990ba 714px,#3a7eb8 717px,#486cb0 723px,#486cb0 726px,#358bbc 735px,#58b2ac 747px,#52abae 753px,#3d95b8 759px,#60bba8 762px,#86cfa5 765px,#66c2a5 771px,#5eb9a9 774px,#60bba8 786px,#5ab4ab 789px,#3682ba 795px,#486cb0 798px,#496aaf 801px,#3585bb 807px,#3990ba 810px,#3d95b8 825px,#3880b9 831px,#4471b2 834px,#496aaf 840px,#3585bb 849px,#4199b6 858px,#4ea7b0 861px,#a7dba4 864px,#aadca4 876px,#9cd7a4 879px,#69c3a5 885px,#5eb9a9 888px,#56b0ad 903px,#459eb4 909px,#439bb5 912px,#56b0ad 924px,#4ea7b0 933px,#3b92b9 942px,#3387bc 945px,#3f77b5 957px,#3f77b5 969px)"></div><div style="height:3px;background:linear-gradient(90deg,#ab0f45 0px,#af1446 9px,#d8434e 24px,#f46d43 42px,#ed6246 54px,#f7814c 57px,#f7814c 60px,#f26944 66px,#ef6645 81px,#f36b43 84px,#f99355 90px,#fba05b 93px,#f99355 99px,#f7814c 105px,#fdbb6c 111px,#fed683 114px,#fff3ac 120px,#fffcba 123px,#f8fcb4 135px,#ffffbe 147px,#f6fbb0 153px,#edf8a3 156px,#cdeb9d 159px,#caea9e 171px,#e4f498 183px,#fffbb8 189px,#fee797 192px,#fee18d 195px,#fee593 198px,#fffcba 207px,#fbfdb8 213px,#eff9a6 222px,#e6f598 225px,#cfec9d 228px,#c1e6a0 231px,#c1e6a0 234px,#ebf7a0 240px,#fcfeba 246px,#fffebe 249px,#fff8b4 255px,#fffab6 270px,#fff3ac 273px,#fed481 279px,#fdc776 282px,#fed27f 288px,#fee08b 291px,#fee695 297px,#fee491 306px,#fffab6 309px,#f5fbaf 312px,#eaf79e 315px,#ddf19a 318px,#d8ef9b 324px,#e8f69b 333px,#ffffbe 351px,#fffab6 357px,#fffebe 363px,#edf8a3 366px,#9fd8a4 369px,#74c7a5 372px,#62bda7 381px,#69c3a5 390px,#89d0a4 399px,#b5e1a2 408px,#b8e2a1 411px,#99d6a4 414px,#64c0a6 417px,#439bb5 420px,#3f97b7 423px,#6ec5a5 432px,#71c6a5 435px,#62bda7 438px,#3990ba 444px,#3387bc 447px,#3389bd 462px,#4273b3 471px,#3d79b6 474px,#3d95b8 477px,#5cb7aa 480px,#76c8a5 483px,#7ccaa5 486px,#56b0ad 495px,#54aead 498px,#6bc4a5 507px,#6ec5a5 510px,#66c2a5 513px,#47a0b3 519px,#3d95b8 525px,#4199b6 537px,#69c3a5 543px,#7ecca5 546px,#7ecca5 549px,#6bc4a5 552px,#459eb4 558px,#439bb5 561px,#52abae 564px,#69c3a5 567px,#86cfa5 570px,#94d4a4 573px,#7ecca5 576px,#5ab4ab 579px,#3b92b9 582px,#3a7eb8 585px,#358bbc 594px,#4199b6 609px,#3d95b8 612px,#4199b6 615px,#6bc4a5 624px,#8fd2a4 630px,#9fd8a4 636px,#8fd2a4 645px,#7ccaa5 651px,#56b0ad 660px,#52abae 663px,#5cb7aa 666px,#8cd1a4 672px,#c1e6a0 681px,#cdeb9d 684px,#cdeb9d 687px,#bae3a1 690px,#6ec5a5 696px,#60bba8 699px,#6ec5a5 708px,#62bda7 711px,#378ebb 714px,#466eb1 720px,#496aaf 726px,#358bbc 735px,#52abae 747px,#54aead 750px,#3990ba 759px,#5eb9a9 762px,#81cda5 765px,#60bba8 771px,#56b0ad 774px,#52abae 789px,#3f97b7 792px,#3b7cb7 795px,#4b68ae 798px,#4d65ad 801px,#3682ba 807px,#3990ba 810px,#3f97b7 825px,#3b92b9 828px,#3585bb 831px,#466eb1 837px,#3b7cb7 846px,#358bbc 852px,#439bb5 858px,#52abae 861px,#a4daa4 864px,#b1dfa3 873px,#b1dfa3 876px,#a2d9a4 879px,#6ec5a5 885px,#60bba8 888px,#50a9af 903px,#3f97b7 912px,#49a2b2 915px,#50a9af 927px,#4199b6 939px,#3585bb 945px,#4175b4 954px,#4273b3 969px)"></div><div style="height:3px;background:linear-gradient(90deg,#ab0f45 0px,#ad1246 12px,#dc484c 30px,#f26944 42px,#ea5e47 54px,#f7844e 57px,#f7844e 60px,#f36b43 69px,#f46d43 84px,#fa9b58 93px,#f99153 99px,#f7814c 105px,#feda86 114px,#fffdbc 123px,#f4faad 132px,#fefebd 144px,#f4faad 153px,#ebf7a0 156px,#caea9e 159px,#c1e6a0 171px,#cdeb9d 183px,#e8f69b 186px,#fcfeba 189px,#feefa3 192px,#fee797 195px,#fffdbc 207px,#fbfdb8 213px,#eaf79e 222px,#bfe5a0 228px,#acdda4 231px,#aedea3 234px,#c3e79f 237px,#e4f498 240px,#f9fcb5 246px,#fffdbc 252px,#fffab6 255px,#fffbb8 270px,#fff6b0 273px,#fede89 279px,#fed27f 282px,#fedc88 288px,#fee999 294px,#fee593 306px,#fffab6 309px,#f5fbaf 312px,#e8f69b 315px,#d6ee9b 318px,#cfec9d 321px,#e6f598 333px,#fefebd 351px,#fffab6 357px,#fffebe 363px,#eff9a6 366px,#a4daa4 369px,#76c8a5 372px,#62bda7 378px,#60bba8 387px,#8fd2a4 399px,#acdda4 405px,#b1dfa3 411px,#97d5a4 414px,#66c2a5 417px,#47a0b3 420px,#459eb4 423px,#60bba8 429px,#71c6a5 432px,#74c7a5 435px,#62bda7 438px,#3990ba 444px,#3387bc 447px,#3387bc 462px,#466eb1 471px,#4273b3 474px,#3990ba 477px,#5ab4ab 480px,#74c7a5 483px,#76c8a5 486px,#5cb7aa 492px,#50a9af 495px,#4ba4b1 498px,#66c2a5 507px,#6bc4a5 510px,#62bda7 513px,#3389bd 522px,#3682ba 534px,#3389bd 537px,#62bda7 543px,#7ccaa5 546px,#7ecca5 549px,#6bc4a5 552px,#439bb5 558px,#3f97b7 561px,#52abae 564px,#6ec5a5 567px,#91d3a4 570px,#9fd8a4 573px,#86cfa5 576px,#5cb7aa 579px,#378ebb 582px,#3d79b6 585px,#3387bc 594px,#47a0b3 606px,#49a2b2 609px,#439bb5 612px,#47a0b3 615px,#6bc4a5 624px,#8cd1a4 633px,#91d3a4 636px,#76c8a5 645px,#50a9af 660px,#49a2b2 663px,#56b0ad 666px,#6ec5a5 669px,#8cd1a4 672px,#c1e6a0 681px,#cdeb9d 687px,#b5e1a2 690px,#62bda7 696px,#56b0ad 699px,#69c3a5 708px,#60bba8 711px,#358bbc 714px,#486cb0 720px,#4b68ae 726px,#3880b9 732px,#358bbc 735px,#4ea7b0 747px,#47a0b3 753px,#378ebb 759px,#5ab4ab 762px,#7ccaa5 765px,#6bc4a5 768px,#50a9af 774px,#4ea7b0 786px,#47a0b3 789px,#378ebb 792px,#4e63ac 798px,#5061aa 801px,#3880b9 807px,#3d95b8 813px,#439bb5 825px,#3389bd 831px,#4175b4 837px,#3585bb 849px,#3b92b9 855px,#54aead 861px,#a2d9a4 864px,#aedea3 867px,#b8e2a1 876px,#aadca4 879px,#74c7a5 885px,#62bda7 888px,#3d95b8 909px,#3d95b8 912px,#47a0b3 918px,#459eb4 933px,#378ebb 942px,#3d79b6 948px,#486cb0 960px,#486cb0 969px)"></div><div style="height:3px;background:linear-gradient(90deg,#ab0f45 0px,#af1446 18px,#dd4a4c 33px,#f06744 42px,#e75948 54px,#f7844e 57px,#f8864f 60px,#f47044 69px,#f46d43 81px,#f67f4b 87px,#f99355 93px,#f7814c 105px,#fca85e 108px,#fedc88 114px,#ffffbe 123px,#f2faaa 132px,#fcfeba 144px,#f8fcb4 150px,#eaf79e 156px,#c8e99e 159px,#b8e2a1 171px,#bae3a1 183px,#d8ef9b 186px,#f4faad 189px,#fff6b0 192px,#feefa3 195px,#fffebe 207px,#f5fbaf 216px,#e6f598 222px,#aedea3 228px,#99d6a4 231px,#99d6a4 234px,#b3e0a2 237px,#d6ee9b 240px,#edf8a3 243px,#fbfdb8 249px,#fffebe 252px,#fffbb8 255px,#fffcba 267px,#fff7b2 273px,#fee08b 282px,#fee491 288px,#feec9f 294px,#fee797 306px,#fffab6 309px,#f4faad 312px,#e7f59a 315px,#d1ed9c 318px,#caea9e 321px,#daf09a 330px,#e8f69b 336px,#fdfebb 351px,#fffdbc 360px,#fffebe 363px,#f0f9a7 366px,#aadca4 369px,#7ccaa5 372px,#62bda7 378px,#5ab4ab 384px,#69c3a5 390px,#acdda4 405px,#aedea3 408px,#a7dba4 411px,#8cd1a4 414px,#66c2a5 417px,#4ea7b0 420px,#4ba4b1 423px,#64c0a6 429px,#76c8a5 435px,#64c0a6 438px,#3990ba 444px,#3387bc 447px,#3389bd 459px,#3b7cb7 465px,#496aaf 471px,#466eb1 474px,#358bbc 477px,#56b0ad 480px,#71c6a5 483px,#74c7a5 486px,#66c2a5 489px,#49a2b2 495px,#459eb4 498px,#64c0a6 507px,#69c3a5 510px,#60bba8 513px,#378ebb 519px,#3a7eb8 522px,#4273b3 534px,#3d79b6 537px,#3d95b8 540px,#5eb9a9 543px,#79c9a5 546px,#7ccaa5 549px,#69c3a5 552px,#4199b6 558px,#3d95b8 561px,#52abae 564px,#74c7a5 567px,#99d6a4 570px,#aadca4 573px,#91d3a4 576px,#5eb9a9 579px,#378ebb 582px,#4175b4 585px,#3585bb 594px,#4ea7b0 606px,#52abae 609px,#49a2b2 612px,#58b2ac 618px,#64c0a6 621px,#7ecca5 633px,#81cda5 636px,#7ccaa5 639px,#58b2ac 648px,#4ba4b1 660px,#439bb5 663px,#50a9af 666px,#69c3a5 669px,#89d0a4 672px,#bfe5a0 681px,#caea9e 687px,#b1dfa3 690px,#58b2ac 696px,#49a2b2 699px,#66c2a5 708px,#5eb9a9 711px,#358bbc 714px,#3f77b5 717px,#4d65ad 723px,#4d65ad 726px,#3880b9 732px,#358bbc 735px,#47a0b3 747px,#49a2b2 750px,#358bbc 759px,#58b2ac 762px,#76c8a5 765px,#66c2a5 768px,#54aead 771px,#49a2b2 774px,#459eb4 786px,#3f97b7 789px,#3585bb 792px,#525fa9 798px,#525fa9 801px,#3a7eb8 807px,#378ebb 810px,#459eb4 822px,#4199b6 828px,#378ebb 831px,#3b7cb7 837px,#3585bb 849px,#3b92b9 855px,#58b2ac 861px,#9fd8a4 864px,#b8e2a1 870px,#bce4a0 876px,#b1dfa3 879px,#79c9a5 885px,#66c2a5 888px,#49a2b2 900px,#3990ba 912px,#4199b6 915px,#3d95b8 939px,#358bbc 942px,#466eb1 951px,#4b68ae 969px)"></div><div style="height:3px;background:linear-gradient(90deg,#ab0f45 0px,#ab0f45 21px,#d8434e 33px,#ee6445 42px,#e45549 54px,#f8864f 57px,#f88950 60px,#f57748 69px,#f57748 84px,#f88c51 93px,#f7814c 105px,#fcaa5f 108px,#fede89 114px,#fff7b2 120px,#fefebd 123px,#f2faaa 129px,#f2faaa 135px,#fafdb7 144px,#f1f9a9 153px,#e9f69d 156px,#c6e89f 159px,#b3e0a2 168px,#a7dba4 180px,#aadca4 183px,#c8e99e 186px,#eef8a4 189px,#fffdbc 192px,#fff5ae 195px,#fffebe 207px,#fafdb7 213px,#ebf7a0 219px,#ddf19a 222px,#9fd8a4 228px,#86cfa5 231px,#86cfa5 234px,#eaf79e 243px,#ffffbe 252px,#fffdbc 258px,#fffab6 273px,#fee797 282px,#feefa3 297px,#fee999 306px,#fffbb8 309px,#f4faad 312px,#e4f498 315px,#cdeb9d 318px,#c3e79f 321px,#e7f59a 336px,#fffebe 354px,#fffcba 357px,#fffebe 363px,#f1f9a9 366px,#aedea3 369px,#7ecca5 372px,#60bba8 378px,#58b2ac 384px,#5cb7aa 387px,#7ecca5 393px,#aadca4 405px,#acdda4 408px,#9fd8a4 411px,#64c0a6 417px,#54aead 420px,#52abae 423px,#66c2a5 429px,#74c7a5 432px,#76c8a5 435px,#64c0a6 438px,#3990ba 444px,#3387bc 447px,#3585bb 462px,#4d65ad 471px,#486cb0 474px,#3389bd 477px,#54aead 480px,#6ec5a5 483px,#71c6a5 486px,#62bda7 489px,#439bb5 495px,#3f97b7 498px,#62bda7 507px,#66c2a5 510px,#5cb7aa 513px,#3585bb 519px,#4175b4 522px,#4d65ad 534px,#486cb0 537px,#358bbc 540px,#5ab4ab 543px,#76c8a5 546px,#7ccaa5 549px,#66c2a5 552px,#4199b6 558px,#3d95b8 561px,#52abae 564px,#79c9a5 567px,#a2d9a4 570px,#b3e0a2 573px,#97d5a4 576px,#60bba8 579px,#358bbc 582px,#4471b2 585px,#3d79b6 591px,#3585bb 594px,#3f97b7 600px,#56b0ad 606px,#5ab4ab 609px,#50a9af 612px,#5eb9a9 618px,#69c3a5 621px,#74c7a5 636px,#6bc4a5 639px,#4ea7b0 645px,#47a0b3 651px,#47a0b3 660px,#3f97b7 663px,#4ba4b1 666px,#66c2a5 669px,#86cfa5 672px,#bfe5a0 681px,#c8e99e 684px,#c8e99e 687px,#aedea3 690px,#79c9a5 693px,#50a9af 696px,#4199b6 699px,#47a0b3 702px,#64c0a6 708px,#5cb7aa 711px,#3389bd 714px,#496aaf 720px,#4e63ac 723px,#4d65ad 726px,#3880b9 732px,#378ebb 735px,#439bb5 750px,#3389bd 759px,#56b0ad 762px,#74c7a5 765px,#62bda7 768px,#439bb5 774px,#3d95b8 786px,#378ebb 789px,#3a7eb8 792px,#545ca8 798px,#545ca8 801px,#3a7eb8 807px,#378ebb 810px,#459eb4 819px,#49a2b2 825px,#3387bc 834px,#3880b9 840px,#3389bd 852px,#49a2b2 858px,#5cb7aa 861px,#9fd8a4 864px,#bce4a0 870px,#c1e6a0 876px,#b5e1a2 879px,#69c3a5 888px,#459eb4 900px,#378ebb 912px,#3f97b7 915px,#3b92b9 939px,#358bbc 942px,#486cb0 951px,#4d65ad 963px,#4d65ad 969px)"></div><div style="height:3px;background:linear-gradient(90deg,#ab0f45 0px,#ad1246 24px,#d43d4f 33px,#eb6046 42px,#e2514a 54px,#f8864f 57px,#f88c51 60px,#f67c4a 69px,#f67c4a 84px,#f8864f 96px,#f7814c 105px,#fdad60 108px,#fee08b 114px,#fff7b2 120px,#fdfebb 123px,#f1f9a9 129px,#f1f9a9 135px,#f9fcb5 144px,#f0f9a7 153px,#e8f69b 156px,#c6e89f 159px,#aedea3 168px,#99d6a4 180px,#9cd7a4 183px,#bce4a0 186px,#eaf79e 189px,#fdfebb 192px,#fffbb8 198px,#ffffbe 210px,#e9f69d 219px,#d6ee9b 222px,#79c9a5 231px,#7ccaa5 234px,#9cd7a4 237px,#e8f69b 243px,#fdfebb 252px,#fffdbc 270px,#feefa3 282px,#fff2aa 297px,#feea9b 306px,#fffbb8 309px,#f4faad 312px,#e4f498 315px,#caea9e 318px,#c1e6a0 321px,#d3ed9c 330px,#e6f598 336px,#fafdb7 351px,#ffffbe 354px,#fffebe 363px,#f2faaa 366px,#b3e0a2 369px,#84cea5 372px,#60bba8 378px,#56b0ad 384px,#5cb7aa 387px,#81cda5 393px,#91d3a4 396px,#aadca4 405px,#aadca4 408px,#66c2a5 417px,#58b2ac 420px,#58b2ac 423px,#76c8a5 432px,#79c9a5 435px,#66c2a5 438px,#3990ba 444px,#3387bc 447px,#3682ba 462px,#4e63ac 471px,#496aaf 474px,#3387bc 477px,#52abae 480px,#6bc4a5 483px,#6ec5a5 486px,#60bba8 489px,#3f97b7 495px,#3b92b9 498px,#60bba8 507px,#66c2a5 510px,#5cb7aa 513px,#439bb5 516px,#3880b9 519px,#466eb1 522px,#545ca8 534px,#4e63ac 537px,#3585bb 540px,#56b0ad 543px,#76c8a5 546px,#79c9a5 549px,#66c2a5 552px,#3f97b7 558px,#3b92b9 561px,#52abae 564px,#7ccaa5 567px,#aadca4 570px,#bae3a1 573px,#9fd8a4 576px,#62bda7 579px,#3389bd 582px,#466eb1 585px,#3f77b5 591px,#3682ba 594px,#378ebb 597px,#5ab4ab 606px,#60bba8 609px,#56b0ad 612px,#6bc4a5 621px,#6bc4a5 630px,#66c2a5 636px,#50a9af 642px,#3990ba 648px,#439bb5 660px,#3b92b9 663px,#49a2b2 666px,#64c0a6 669px,#86cfa5 672px,#aedea3 678px,#c6e89f 684px,#c8e99e 687px,#acdda4 690px,#74c7a5 693px,#49a2b2 696px,#3990ba 699px,#4199b6 702px,#62bda7 708px,#5cb7aa 711px,#3389bd 714px,#496aaf 720px,#5061aa 723px,#4e63ac 726px,#3880b9 732px,#378ebb 735px,#3f97b7 750px,#3389bd 759px,#54aead 762px,#71c6a5 765px,#60bba8 768px,#4ba4b1 771px,#3f97b7 774px,#3387bc 789px,#555aa7 798px,#555aa7 801px,#3b7cb7 807px,#378ebb 810px,#49a2b2 822px,#459eb4 828px,#358bbc 834px,#3585bb 840px,#3389bd 852px,#3b92b9 855px,#60bba8 861px,#9cd7a4 864px,#b1dfa3 867px,#c6e89f 873px,#c6e89f 876px,#bae3a1 879px,#6bc4a5 888px,#3f97b7 900px,#358bbc 912px,#3b92b9 918px,#358bbc 942px,#486cb0 951px,#4e63ac 960px,#4e63ac 969px)"></div><div style="height:3px;background:linear-gradient(90deg,#ab0f45 0px,#ab0f45 24px,#d9444d 36px,#e95c47 42px,#df4e4b 54px,#f8864f 57px,#f88c51 60px,#f7814c 72px,#f7814c 105px,#fdaf62 108px,#fee08b 114px,#fff8b4 120px,#fdfebb 123px,#f0f9a7 129px,#f0f9a7 135px,#f7fcb2 144px,#eff9a6 153px,#e7f59a 156px,#c6e89f 159px,#9fd8a4 174px,#94d4a4 180px,#97d5a4 183px,#b8e2a1 186px,#e6f598 189px,#f9fcb5 192px,#fffebe 195px,#ffffbe 210px,#e9f69d 219px,#d3ed9c 222px,#8fd2a4 228px,#74c7a5 231px,#76c8a5 234px,#97d5a4 237px,#e7f59a 243px,#f7fcb2 249px,#ffffbe 255px,#fffdbc 273px,#fff3ac 282px,#fff3ac 297px,#feea9b 306px,#fffbb8 309px,#f4faad 312px,#e1f399 315px,#c8e99e 318px,#bfe5a0 321px,#caea9e 327px,#e7f59a 339px,#fffebe 357px,#fffebe 363px,#f3faac 366px,#bae3a1 369px,#89d0a4 372px,#60bba8 378px,#54aead 384px,#6bc4a5 390px,#91d3a4 396px,#aadca4 405px,#aadca4 408px,#69c3a5 417px,#5eb9a9 420px,#5cb7aa 423px,#79c9a5 432px,#7ccaa5 435px,#69c3a5 438px,#3990ba 444px,#3387bc 447px,#3682ba 462px,#5061aa 471px,#4b68ae 474px,#3585bb 477px,#52abae 480px,#6bc4a5 483px,#6ec5a5 486px,#60bba8 489px,#3d95b8 495px,#3b92b9 498px,#52abae 504px,#60bba8 507px,#66c2a5 510px,#5ab4ab 513px,#439bb5 516px,#3a7eb8 519px,#486cb0 522px,#5758a6 534px,#5061aa 537px,#3682ba 540px,#54aead 543px,#76c8a5 546px,#79c9a5 549px,#66c2a5 552px,#3f97b7 558px,#3b92b9 561px,#52abae 564px,#7ecca5 567px,#aedea3 570px,#bfe5a0 573px,#a2d9a4 576px,#64c0a6 579px,#3389bd 582px,#486cb0 585px,#4175b4 591px,#378ebb 597px,#5eb9a9 606px,#64c0a6 609px,#5cb7aa 612px,#66c2a5 618px,#71c6a5 624px,#5eb9a9 636px,#3990ba 645px,#3389bd 648px,#4199b6 660px,#3b92b9 663px,#47a0b3 666px,#64c0a6 669px,#86cfa5 672px,#aedea3 678px,#c6e89f 684px,#c6e89f 687px,#aadca4 690px,#6ec5a5 693px,#439bb5 696px,#3389bd 699px,#3b92b9 702px,#62bda7 708px,#5cb7aa 711px,#3389bd 714px,#4b68ae 720px,#5061aa 723px,#4e63ac 726px,#3682ba 732px,#378ebb 735px,#3990ba 753px,#3387bc 759px,#54aead 762px,#6ec5a5 765px,#3b92b9 774px,#3389bd 786px,#4175b4 792px,#555aa7 798px,#555aa7 801px,#3b7cb7 807px,#378ebb 810px,#459eb4 816px,#4ba4b1 825px,#3387bc 837px,#3389bd 852px,#4ea7b0 858px,#64c0a6 861px,#9cd7a4 864px,#bfe5a0 870px,#c8e99e 876px,#bce4a0 879px,#71c6a5 888px,#439bb5 897px,#358bbc 906px,#3387bc 912px,#3b92b9 915px,#3389bd 927px,#3990ba 939px,#3389bd 942px,#496aaf 951px,#5061aa 966px,#5061aa 969px)"></div><div style="height:3px;background:linear-gradient(90deg,#ab0f45 0px,#ab0f45 24px,#ba2049 30px,#d7414e 36px,#e75948 42px,#dd4a4c 54px,#f8864f 57px,#f88950 63px,#f8864f 75px,#f67f4b 99px,#f7814c 105px,#fdaf62 108px,#fee08b 114px,#fff7b2 120px,#fdfebb 123px,#f0f9a7 129px,#f5fbaf 147px,#eff9a6 153px,#e8f69b 156px,#c6e89f 159px,#9fd8a4 174px,#94d4a4 180px,#97d5a4 183px,#b5e1a2 186px,#e1f399 189px,#f5fbaf 192px,#fdfebb 195px,#ffffbe 210px,#f2faaa 216px,#e8f69b 219px,#d3ed9c 222px,#8fd2a4 228px,#76c8a5 231px,#76c8a5 234px,#97d5a4 237px,#c3e79f 240px,#e7f59a 243px,#fbfdb8 252px,#ffffbe 264px,#fffbb8 279px,#fff1a8 300px,#feea9b 306px,#fffbb8 309px,#f4faad 312px,#e4f498 315px,#c8e99e 318px,#bfe5a0 321px,#e6f598 339px,#f5fbaf 351px,#fefebd 357px,#ffffbe 363px,#f3faac 366px,#bfe5a0 369px,#91d3a4 372px,#62bda7 378px,#58b2ac 381px,#56b0ad 384px,#5cb7aa 387px,#81cda5 393px,#91d3a4 396px,#aadca4 405px,#aadca4 408px,#8cd1a4 411px,#69c3a5 417px,#62bda7 423px,#7ccaa5 432px,#7ecca5 435px,#69c3a5 438px,#3b92b9 444px,#3389bd 447px,#3585bb 462px,#496aaf 468px,#4e63ac 471px,#496aaf 474px,#3387bc 477px,#52abae 480px,#6bc4a5 483px,#6ec5a5 486px,#60bba8 489px,#3f97b7 495px,#3b92b9 498px,#439bb5 501px,#60bba8 507px,#66c2a5 510px,#5ab4ab 513px,#439bb5 516px,#3a7eb8 519px,#486cb0 522px,#5758a6 534px,#5061aa 537px,#3682ba 540px,#56b0ad 543px,#76c8a5 546px,#79c9a5 549px,#66c2a5 552px,#3f97b7 558px,#3b92b9 561px,#54aead 564px,#81cda5 567px,#aedea3 570px,#bfe5a0 573px,#a4daa4 576px,#64c0a6 579px,#3387bc 582px,#496aaf 585px,#4175b4 591px,#378ebb 597px,#62bda7 606px,#69c3a5 609px,#60bba8 612px,#71c6a5 621px,#6ec5a5 627px,#58b2ac 636px,#358bbc 645px,#3585bb 648px,#3387bc 651px,#4199b6 657px,#439bb5 660px,#3b92b9 663px,#49a2b2 666px,#64c0a6 669px,#86cfa5 672px,#aedea3 678px,#c6e89f 684px,#c6e89f 687px,#a7dba4 690px,#6bc4a5 693px,#3f97b7 696px,#3682ba 699px,#3990ba 702px,#60bba8 708px,#5cb7aa 711px,#3389bd 714px,#496aaf 720px,#4e63ac 723px,#4d65ad 726px,#3682ba 732px,#3990ba 735px,#358bbc 753px,#3387bc 759px,#52abae 762px,#6bc4a5 765px,#459eb4 771px,#3990ba 774px,#3585bb 786px,#3880b9 789px,#555aa7 798px,#555aa7 801px,#4d65ad 804px,#358bbc 810px,#4199b6 813px,#4ba4b1 825px,#3387bc 837px,#358bbc 852px,#50a9af 858px,#66c2a5 861px,#9cd7a4 864px,#bfe5a0 870px,#c8e99e 876px,#bce4a0 879px,#60bba8 891px,#378ebb 900px,#3585bb 912px,#3990ba 915px,#3585bb 927px,#3b92b9 939px,#358bbc 942px,#496aaf 951px,#5061aa 966px,#5061aa 969px)"></div><div style="height:3px;background:linear-gradient(90deg,#ab0f45 0px,#ad1246 27px,#d0384e 36px,#e2514a 42px,#e1504b 48px,#da464d 54px,#f7844e 57px,#f88c51 60px,#f88c51 84px,#f67c4a 96px,#f7814c 105px,#fdaf62 108px,#fee08b 114px,#ffffbe 123px,#f2faaa 129px,#f4faad 147px,#e8f69b 156px,#c8e99e 159px,#a2d9a4 174px,#97d5a4 180px,#99d6a4 183px,#b3e0a2 186px,#daf09a 189px,#f2faaa 192px,#fafdb7 195px,#ffffbe 210px,#f2faaa 216px,#e8f69b 219px,#d3ed9c 222px,#91d3a4 228px,#79c9a5 231px,#79c9a5 234px,#99d6a4 237px,#c6e89f 240px,#e8f69b 243px,#f5fbaf 249px,#ffffbe 261px,#fefebd 276px,#fff6b0 297px,#feea9b 306px,#fffab6 309px,#f4faad 312px,#e4f498 315px,#caea9e 318px,#c1e6a0 321px,#e8f69b 345px,#ffffbe 360px,#fefebd 363px,#f2faaa 366px,#c3e79f 369px,#99d6a4 372px,#69c3a5 378px,#5cb7aa 381px,#58b2ac 384px,#6bc4a5 390px,#8fd2a4 396px,#aadca4 405px,#aadca4 408px,#89d0a4 411px,#6bc4a5 417px,#66c2a5 423px,#81cda5 432px,#81cda5 435px,#6ec5a5 438px,#3d95b8 444px,#358bbc 447px,#3387bc 462px,#4d65ad 471px,#486cb0 474px,#3389bd 477px,#54aead 480px,#6ec5a5 483px,#71c6a5 486px,#62bda7 489px,#4199b6 495px,#3d95b8 498px,#62bda7 507px,#66c2a5 510px,#5cb7aa 513px,#439bb5 516px,#3880b9 519px,#466eb1 522px,#555aa7 531px,#5758a6 534px,#5061aa 537px,#3585bb 540px,#56b0ad 543px,#79c9a5 546px,#7ccaa5 549px,#69c3a5 552px,#439bb5 558px,#3f97b7 561px,#56b0ad 564px,#84cea5 567px,#b1dfa3 570px,#c1e6a0 573px,#a4daa4 576px,#64c0a6 579px,#3387bc 582px,#4b68ae 585px,#496aaf 588px,#3682ba 594px,#3990ba 597px,#64c0a6 606px,#6bc4a5 609px,#64c0a6 612px,#74c7a5 624px,#64c0a6 630px,#3387bc 645px,#3880b9 648px,#3585bb 651px,#459eb4 660px,#3b92b9 663px,#49a2b2 666px,#66c2a5 669px,#89d0a4 672px,#b1dfa3 678px,#c6e89f 684px,#c6e89f 687px,#a7dba4 690px,#69c3a5 693px,#3b92b9 696px,#3a7eb8 699px,#358bbc 702px,#60bba8 708px,#5cb7aa 711px,#378ebb 714px,#486cb0 720px,#4d65ad 723px,#4b68ae 726px,#3387bc 732px,#3d95b8 735px,#3b92b9 741px,#3387bc 759px,#52abae 762px,#69c3a5 765px,#358bbc 774px,#3682ba 786px,#555aa7 798px,#555aa7 801px,#3f77b5 807px,#3389bd 810px,#4199b6 813px,#47a0b3 825px,#459eb4 828px,#3389bd 834px,#3387bc 846px,#378ebb 852px,#54aead 858px,#69c3a5 861px,#a2d9a4 864px,#bfe5a0 870px,#c8e99e 876px,#bfe5a0 879px,#62bda7 891px,#3d95b8 897px,#3389bd 900px,#3682ba 912px,#378ebb 915px,#3880b9 927px,#358bbc 933px,#3d95b8 939px,#3880b9 945px,#4b68ae 954px,#5061aa 966px,#5061aa 969px)"></div><div style="height:3px;background:linear-gradient(90deg,#ab0f45 0px,#ab0f45 27px,#ba2049 33px,#d8434e 39px,#de4c4b 42px,#d8434e 54px,#f7844e 57px,#f88c51 63px,#f99355 81px,#f88950 87px,#f67a49 93px,#f7814c 105px,#fdaf62 108px,#fede89 114px,#fffebe 123px,#f2faaa 132px,#f1f9a9 150px,#e9f69d 156px,#cdeb9d 159px,#b3e0a2 168px,#9cd7a4 180px,#9cd7a4 183px,#b3e0a2 186px,#d6ee9b 189px,#eef8a4 192px,#f7fcb2 195px,#fffebe 207px,#fbfdb8 213px,#e9f69d 219px,#d3ed9c 222px,#94d4a4 228px,#7ecca5 231px,#7ecca5 234px,#9fd8a4 237px,#c8e99e 240px,#e9f69d 243px,#f7fcb2 252px,#ffffbe 261px,#fbfdb8 276px,#fffdbc 288px,#fff7b2 297px,#fee999 306px,#fff8b4 309px,#f5fbaf 312px,#e7f59a 315px,#cfec9d 318px,#c6e89f 321px,#e7f59a 348px,#ffffbe 360px,#fcfeba 363px,#f0f9a7 366px,#caea9e 369px,#a4daa4 372px,#6ec5a5 378px,#60bba8 381px,#5cb7aa 384px,#6bc4a5 390px,#94d4a4 399px,#a7dba4 405px,#a7dba4 408px,#86cfa5 411px,#71c6a5 417px,#6bc4a5 423px,#84cea5 432px,#86cfa5 435px,#74c7a5 438px,#439bb5 444px,#3b92b9 447px,#378ebb 462px,#3880b9 465px,#496aaf 471px,#4471b2 474px,#378ebb 477px,#58b2ac 480px,#71c6a5 483px,#76c8a5 486px,#66c2a5 489px,#459eb4 495px,#439bb5 498px,#64c0a6 507px,#69c3a5 510px,#5eb9a9 513px,#459eb4 516px,#3682ba 519px,#4471b2 522px,#5758a6 534px,#5061aa 537px,#3585bb 540px,#58b2ac 543px,#7ccaa5 546px,#81cda5 549px,#6ec5a5 552px,#49a2b2 558px,#459eb4 561px,#5cb7aa 564px,#b3e0a2 570px,#c3e79f 573px,#a4daa4 576px,#64c0a6 579px,#3585bb 582px,#4b68ae 585px,#496aaf 588px,#3682ba 594px,#47a0b3 600px,#66c2a5 606px,#6ec5a5 609px,#69c3a5 612px,#76c8a5 624px,#62bda7 630px,#358bbc 642px,#3a7eb8 648px,#3682ba 651px,#439bb5 657px,#47a0b3 660px,#3f97b7 663px,#4ea7b0 666px,#6bc4a5 669px,#8fd2a4 672px,#b3e0a2 678px,#c6e89f 684px,#c6e89f 687px,#a4daa4 690px,#66c2a5 693px,#378ebb 696px,#3d79b6 699px,#3387bc 702px,#62bda7 708px,#5eb9a9 711px,#3b92b9 714px,#3880b9 717px,#4471b2 720px,#496aaf 723px,#486cb0 726px,#378ebb 732px,#439bb5 735px,#3f97b7 741px,#3387bc 747px,#3387bc 759px,#52abae 762px,#69c3a5 765px,#3389bd 774px,#3d79b6 789px,#555aa7 798px,#555aa7 801px,#4273b3 807px,#3585bb 810px,#439bb5 813px,#459eb4 825px,#3585bb 834px,#3682ba 843px,#378ebb 849px,#47a0b3 855px,#6ec5a5 861px,#a4daa4 864px,#bfe5a0 870px,#c6e89f 876px,#bfe5a0 879px,#97d5a4 885px,#66c2a5 891px,#3b92b9 897px,#3585bb 900px,#3880b9 912px,#358bbc 915px,#3682ba 921px,#3b7cb7 927px,#378ebb 933px,#4199b6 939px,#3585bb 945px,#486cb0 951px,#4e63ac 966px,#4e63ac 969px)"></div><div style="height:3px;background:linear-gradient(90deg,#ab0f45 0px,#ab0f45 30px,#c1274a 36px,#d23a4e 39px,#d9444d 42px,#d63f4f 54px,#f7814c 57px,#f88c51 60px,#fa9857 78px,#fa9656 84px,#f67f4b 90px,#f67a49 99px,#f7814c 105px,#fdaf62 108px,#feda86 114px,#fffbb8 123px,#fcfeba 126px,#f4faad 132px,#eff9a6 153px,#ebf7a0 156px,#d1ed9c 159px,#b5e1a2 168px,#a2d9a4 180px,#a2d9a4 183px,#b5e1a2 186px,#d3ed9c 189px,#ebf7a0 192px,#f8fcb4 198px,#fffdbc 207px,#fbfdb8 213px,#e9f69d 219px,#d6ee9b 222px,#99d6a4 228px,#84cea5 231px,#86cfa5 234px,#a4daa4 237px,#cdeb9d 240px,#eaf79e 243px,#f3faac 249px,#f7fcb2 255px,#fefebd 258px,#fcfeba 264px,#f7fcb2 273px,#fffebe 291px,#fff2aa 300px,#fee797 306px,#fff7b2 309px,#f7fcb2 312px,#e9f69d 315px,#d3ed9c 318px,#cdeb9d 324px,#dff299 348px,#e8f69b 351px,#ffffbe 360px,#fafdb7 363px,#eef8a4 366px,#cfec9d 369px,#79c9a5 378px,#66c2a5 381px,#64c0a6 387px,#a7dba4 405px,#a7dba4 408px,#84cea5 411px,#74c7a5 417px,#71c6a5 423px,#89d0a4 432px,#8cd1a4 435px,#79c9a5 438px,#49a2b2 444px,#4199b6 447px,#3d95b8 462px,#3387bc 465px,#466eb1 471px,#4175b4 474px,#3b92b9 477px,#5cb7aa 480px,#76c8a5 483px,#79c9a5 486px,#6bc4a5 489px,#4ba4b1 495px,#49a2b2 498px,#66c2a5 507px,#6bc4a5 510px,#60bba8 513px,#3585bb 519px,#4273b3 522px,#555aa7 534px,#4e63ac 537px,#3387bc 540px,#5cb7aa 543px,#81cda5 546px,#86cfa5 549px,#60bba8 555px,#50a9af 558px,#4ba4b1 561px,#62bda7 564px,#b5e1a2 570px,#c3e79f 573px,#a7dba4 576px,#62bda7 579px,#3585bb 582px,#4d65ad 585px,#4b68ae 588px,#3387bc 594px,#69c3a5 606px,#71c6a5 609px,#74c7a5 618px,#79c9a5 624px,#60bba8 630px,#3387bc 642px,#3b7cb7 648px,#3880b9 651px,#3990ba 654px,#47a0b3 657px,#4ba4b1 660px,#4199b6 663px,#52abae 666px,#71c6a5 669px,#94d4a4 672px,#aadca4 675px,#c6e89f 684px,#c6e89f 687px,#a4daa4 690px,#64c0a6 693px,#358bbc 696px,#4175b4 699px,#3585bb 702px,#62bda7 708px,#60bba8 711px,#439bb5 714px,#3387bc 717px,#3f77b5 720px,#4471b2 723px,#4273b3 726px,#3880b9 729px,#49a2b2 735px,#4ba4b1 738px,#378ebb 744px,#3682ba 747px,#3585bb 759px,#50a9af 762px,#66c2a5 765px,#3f97b7 771px,#3387bc 774px,#3f77b5 789px,#555aa7 798px,#555aa7 801px,#3880b9 810px,#439bb5 813px,#4199b6 825px,#3389bd 831px,#3b7cb7 837px,#3389bd 846px,#4ea7b0 855px,#71c6a5 861px,#aadca4 864px,#c1e6a0 870px,#c6e89f 876px,#b1dfa3 882px,#6bc4a5 891px,#3990ba 897px,#3880b9 900px,#3b7cb7 912px,#358bbc 915px,#3387bc 918px,#3f77b5 924px,#3f77b5 927px,#378ebb 933px,#459eb4 939px,#3f97b7 942px,#3387bc 945px,#466eb1 951px,#4e63ac 963px,#4e63ac 969px)"></div><div style="height:3px;background:linear-gradient(90deg,#ab0f45 0px,#ad1246 33px,#d43d4f 42px,#d23a4e 54px,#f67f4b 57px,#f88c51 60px,#fba05b 81px,#f98e52 87px,#f57748 93px,#f67c4a 102px,#f7814c 105px,#fdaf62 108px,#fed884 114px,#ffffbe 126px,#f5fbaf 135px,#ecf7a1 156px,#d8ef9b 159px,#bae3a1 168px,#a7dba4 180px,#a7dba4 183px,#b8e2a1 186px,#e9f69d 192px,#fafdb7 201px,#fffcba 210px,#fcfeba 213px,#e9f69d 219px,#d6ee9b 222px,#9fd8a4 228px,#8cd1a4 231px,#8cd1a4 234px,#d1ed9c 240px,#ebf7a0 243px,#f3faac 249px,#f6fbb0 255px,#ffffbe 261px,#f4faad 270px,#fffebe 294px,#feea9b 303px,#fee695 306px,#fff6b0 309px,#f8fcb4 312px,#ebf7a0 315px,#daf09a 318px,#d3ed9c 324px,#d1ed9c 345px,#e1f399 351px,#f4faad 357px,#ffffbe 360px,#ecf7a1 366px,#d3ed9c 369px,#6ec5a5 381px,#69c3a5 387px,#89d0a4 399px,#a7dba4 405px,#a7dba4 408px,#81cda5 411px,#74c7a5 420px,#86cfa5 429px,#91d3a4 432px,#91d3a4 435px,#81cda5 438px,#64c0a6 441px,#50a9af 444px,#47a0b3 447px,#49a2b2 459px,#459eb4 462px,#3990ba 465px,#3880b9 468px,#4175b4 471px,#3b7cb7 474px,#3f97b7 477px,#60bba8 480px,#7ccaa5 483px,#7ecca5 486px,#71c6a5 489px,#52abae 495px,#50a9af 498px,#69c3a5 507px,#6ec5a5 510px,#62bda7 513px,#3389bd 519px,#4175b4 522px,#525fa9 531px,#555aa7 534px,#4e63ac 537px,#3389bd 540px,#5eb9a9 543px,#86cfa5 546px,#8cd1a4 549px,#66c2a5 555px,#58b2ac 558px,#54aead 561px,#69c3a5 564px,#b8e2a1 570px,#c3e79f 573px,#a7dba4 576px,#62bda7 579px,#3682ba 582px,#4e63ac 585px,#4b68ae 588px,#3389bd 594px,#5eb9a9 603px,#6bc4a5 606px,#74c7a5 609px,#7ccaa5 624px,#71c6a5 627px,#4199b6 636px,#3585bb 642px,#3d79b6 648px,#3880b9 651px,#3b92b9 654px,#4ba4b1 657px,#52abae 660px,#459eb4 663px,#56b0ad 666px,#76c8a5 669px,#9cd7a4 672px,#aedea3 675px,#c8e99e 684px,#c6e89f 687px,#a4daa4 690px,#62bda7 693px,#3387bc 696px,#4273b3 699px,#3682ba 702px,#62bda7 708px,#64c0a6 711px,#49a2b2 714px,#3990ba 717px,#3a7eb8 720px,#3f77b5 723px,#3d79b6 726px,#3389bd 729px,#52abae 735px,#54aead 738px,#3990ba 744px,#3880b9 747px,#3a7eb8 753px,#3585bb 759px,#50a9af 762px,#64c0a6 765px,#3d95b8 771px,#3682ba 774px,#4175b4 789px,#545ca8 798px,#5061aa 804px,#3b7cb7 810px,#439bb5 813px,#3f97b7 822px,#358bbc 828px,#3f77b5 837px,#3880b9 843px,#358bbc 846px,#60bba8 858px,#76c8a5 861px,#b1dfa3 864px,#c3e79f 873px,#bfe5a0 879px,#a2d9a4 885px,#8fd2a4 888px,#71c6a5 891px,#378ebb 897px,#3b7cb7 900px,#3d79b6 912px,#3389bd 915px,#4273b3 927px,#3880b9 930px,#3990ba 933px,#47a0b3 936px,#4ba4b1 939px,#358bbc 945px,#4471b2 951px,#4d65ad 963px,#4d65ad 969px)"></div><div style="height:3px;background:linear-gradient(90deg,#ab0f45 0px,#ab0f45 33px,#cb334d 42px,#cd364d 54px,#f67c4a 57px,#f88c51 60px,#fca55d 81px,#fba05b 84px,#f67f4b 90px,#f57547 93px,#f7814c 105px,#fdad60 108px,#fee28f 117px,#fffcba 126px,#f9fcb5 132px,#f0f9a7 147px,#eef8a4 156px,#ddf19a 159px,#bfe5a0 168px,#acdda4 180px,#aedea3 183px,#bae3a1 186px,#e7f59a 192px,#fdfebb 204px,#fdfebb 213px,#e8f69b 219px,#bce4a0 225px,#94d4a4 231px,#97d5a4 234px,#d6ee9b 240px,#ecf7a1 243px,#f2faaa 249px,#f4faad 255px,#ffffbe 261px,#f2faaa 270px,#fcfeba 291px,#ffffbe 294px,#fff2aa 300px,#fee593 306px,#fff5ae 309px,#fafdb7 312px,#e4f498 318px,#d8ef9b 324px,#cdeb9d 348px,#e9f69d 354px,#ffffbe 360px,#ebf7a0 366px,#daf09a 369px,#acdda4 375px,#79c9a5 381px,#71c6a5 384px,#79c9a5 396px,#a4daa4 405px,#a7dba4 408px,#7ecca5 411px,#7ccaa5 423px,#97d5a4 432px,#99d6a4 435px,#86cfa5 438px,#58b2ac 444px,#50a9af 447px,#52abae 459px,#4ea7b0 462px,#3387bc 468px,#3a7eb8 471px,#3682ba 474px,#459eb4 477px,#64c0a6 480px,#81cda5 483px,#84cea5 486px,#64c0a6 492px,#58b2ac 495px,#56b0ad 498px,#6ec5a5 507px,#71c6a5 510px,#64c0a6 513px,#358bbc 519px,#3f77b5 522px,#525fa9 531px,#545ca8 534px,#4d65ad 537px,#358bbc 540px,#62bda7 543px,#8cd1a4 546px,#91d3a4 549px,#84cea5 552px,#60bba8 558px,#5cb7aa 561px,#71c6a5 564px,#b8e2a1 570px,#c6e89f 573px,#a7dba4 576px,#62bda7 579px,#3682ba 582px,#4e63ac 585px,#4b68ae 588px,#378ebb 594px,#56b0ad 600px,#6bc4a5 606px,#76c8a5 609px,#7ecca5 624px,#71c6a5 627px,#49a2b2 633px,#3389bd 639px,#3f77b5 648px,#3a7eb8 651px,#3d95b8 654px,#50a9af 657px,#56b0ad 660px,#49a2b2 663px,#5ab4ab 666px,#7ecca5 669px,#a4daa4 672px,#bce4a0 678px,#c8e99e 684px,#c6e89f 687px,#a2d9a4 690px,#60bba8 693px,#3585bb 696px,#466eb1 699px,#3880b9 702px,#49a2b2 705px,#64c0a6 708px,#66c2a5 711px,#3f97b7 717px,#3387bc 720px,#3a7eb8 723px,#3880b9 726px,#3990ba 729px,#5ab4ab 735px,#5cb7aa 738px,#3990ba 744px,#3a7eb8 747px,#3d79b6 753px,#3682ba 759px,#50a9af 762px,#64c0a6 765px,#3b92b9 771px,#3682ba 774px,#486cb0 792px,#545ca8 798px,#5061aa 804px,#3f77b5 810px,#439bb5 813px,#47a0b3 816px,#3387bc 828px,#4175b4 834px,#4175b4 840px,#3880b9 843px,#3990ba 846px,#64c0a6 858px,#79c9a5 861px,#b5e1a2 864px,#c3e79f 873px,#bfe5a0 879px,#a7dba4 885px,#94d4a4 888px,#76c8a5 891px,#358bbc 897px,#3d79b6 900px,#3f77b5 912px,#3389bd 915px,#4471b2 924px,#4471b2 927px,#3a7eb8 930px,#3b92b9 933px,#4ba4b1 936px,#50a9af 939px,#3990ba 945px,#3880b9 948px,#496aaf 957px,#4d65ad 969px)"></div><div style="height:3px;background:linear-gradient(90deg,#ab0f45 0px,#ad1246 36px,#c32a4b 42px,#c9314c 54px,#f67a49 57px,#f88c51 60px,#fcaa5f 81px,#fba35c 84px,#f57245 93px,#f67a49 102px,#f7814c 105px,#fdad60 108px,#fed27f 114px,#fff0a6 123px,#fffebe 129px,#eff9a6 144px,#eff9a6 156px,#e4f498 159px,#c3e79f 168px,#b3e0a2 180px,#b3e0a2 183px,#cfec9d 189px,#e4f498 192px,#fcfeba 204px,#fffab6 210px,#fefebd 213px,#e8f69b 219px,#c1e6a0 225px,#9cd7a4 231px,#9fd8a4 234px,#b8e2a1 237px,#daf09a 240px,#eef8a4 243px,#f3faac 252px,#f3faac 255px,#fcfeba 258px,#fefebd 261px,#f0f9a7 270px,#f8fcb4 288px,#fefebd 294px,#fffbb8 297px,#fee28f 306px,#fff3ac 309px,#fcfeba 312px,#e9f69d 318px,#c6e89f 342px,#c6e89f 348px,#e6f598 354px,#ffffbe 360px,#eaf79e 366px,#e1f399 369px,#b8e2a1 375px,#84cea5 381px,#79c9a5 384px,#76c8a5 396px,#7ccaa5 399px,#a4daa4 405px,#a7dba4 408px,#7ecca5 411px,#81cda5 423px,#9cd7a4 432px,#9fd8a4 435px,#8fd2a4 438px,#60bba8 444px,#58b2ac 447px,#5ab4ab 459px,#47a0b3 465px,#3990ba 468px,#3585bb 471px,#3389bd 474px,#69c3a5 480px,#86cfa5 483px,#89d0a4 486px,#7ecca5 489px,#60bba8 495px,#5cb7aa 498px,#76c8a5 510px,#69c3a5 513px,#3990ba 519px,#3b7cb7 522px,#5061aa 531px,#525fa9 534px,#4b68ae 537px,#378ebb 540px,#64c0a6 543px,#91d3a4 546px,#97d5a4 549px,#66c2a5 558px,#64c0a6 561px,#79c9a5 564px,#bae3a1 570px,#c6e89f 573px,#a7dba4 576px,#62bda7 579px,#3682ba 582px,#4e63ac 585px,#4b68ae 588px,#3b7cb7 591px,#3b92b9 594px,#50a9af 597px,#6ec5a5 606px,#81cda5 615px,#81cda5 624px,#71c6a5 627px,#5cb7aa 630px,#459eb4 633px,#3387bc 639px,#4175b4 648px,#3a7eb8 651px,#3f97b7 654px,#54aead 657px,#5cb7aa 660px,#4ea7b0 663px,#5eb9a9 666px,#acdda4 672px,#c3e79f 681px,#c6e89f 687px,#a2d9a4 690px,#5eb9a9 693px,#3682ba 696px,#486cb0 699px,#3a7eb8 702px,#49a2b2 705px,#64c0a6 708px,#69c3a5 711px,#3990ba 720px,#3585bb 723px,#3387bc 726px,#62bda7 735px,#62bda7 738px,#3b92b9 744px,#3b7cb7 747px,#3f77b5 753px,#3682ba 759px,#50a9af 762px,#62bda7 765px,#52abae 768px,#3990ba 771px,#3880b9 774px,#4273b3 789px,#525fa9 798px,#5061aa 804px,#4175b4 810px,#439bb5 813px,#47a0b3 816px,#358bbc 825px,#466eb1 837px,#4273b3 840px,#3880b9 843px,#3b92b9 846px,#58b2ac 852px,#6bc4a5 858px,#7ecca5 861px,#bae3a1 864px,#c1e6a0 876px,#aadca4 885px,#99d6a4 888px,#7ccaa5 891px,#3389bd 897px,#3f77b5 900px,#3f77b5 912px,#3387bc 915px,#466eb1 924px,#466eb1 927px,#3a7eb8 930px,#3d95b8 933px,#50a9af 936px,#56b0ad 939px,#4ea7b0 942px,#3d95b8 945px,#3682ba 948px,#486cb0 957px,#4b68ae 969px)"></div><div style="height:3px;background:linear-gradient(90deg,#ab0f45 0px,#ab0f45 36px,#be254a 45px,#c52c4b 54px,#f57748 57px,#f88c51 60px,#fdad60 81px,#fca55d 84px,#f67c4a 90px,#f47044 93px,#f57245 99px,#f7814c 105px,#fdad60 108px,#fece7c 114px,#fff5ae 126px,#fffcba 129px,#fefebd 132px,#f0f9a7 141px,#f1f9a9 156px,#e7f59a 159px,#c8e99e 168px,#bae3a1 183px,#c1e6a0 186px,#e4f498 192px,#fcfeba 204px,#fff7b2 210px,#ffffbe 213px,#e8f69b 219px,#b1dfa3 228px,#a4daa4 231px,#a7dba4 234px,#bfe5a0 237px,#dff299 240px,#eff9a6 243px,#f3faac 255px,#fefebd 261px,#eff9a6 270px,#f7fcb2 288px,#fefebd 294px,#fffcba 297px,#fee797 303px,#fee18d 306px,#fff2aa 309px,#fefebd 312px,#ecf7a1 318px,#e1f399 324px,#bfe5a0 345px,#cfec9d 351px,#e4f498 354px,#eff9a6 357px,#ffffbe 360px,#f1f9a9 363px,#e6f598 369px,#daf09a 372px,#8fd2a4 381px,#81cda5 384px,#71c6a5 396px,#79c9a5 399px,#a4daa4 405px,#a7dba4 408px,#7ccaa5 411px,#86cfa5 423px,#a4daa4 432px,#a4daa4 435px,#97d5a4 438px,#66c2a5 444px,#60bba8 450px,#5cb7aa 462px,#358bbc 471px,#3990ba 474px,#71c6a5 480px,#8cd1a4 483px,#8fd2a4 486px,#84cea5 489px,#64c0a6 495px,#66c2a5 501px,#79c9a5 510px,#6bc4a5 513px,#3b92b9 519px,#3a7eb8 522px,#4e63ac 531px,#525fa9 534px,#496aaf 537px,#3990ba 540px,#69c3a5 543px,#94d4a4 546px,#9cd7a4 549px,#6ec5a5 558px,#6bc4a5 561px,#81cda5 564px,#bce4a0 570px,#c8e99e 573px,#aadca4 576px,#64c0a6 579px,#3682ba 582px,#5061aa 585px,#4b68ae 588px,#3a7eb8 591px,#3f97b7 594px,#54aead 597px,#66c2a5 603px,#84cea5 612px,#84cea5 624px,#74c7a5 627px,#439bb5 633px,#358bbc 636px,#3f77b5 645px,#4175b4 648px,#3a7eb8 651px,#4199b6 654px,#58b2ac 657px,#60bba8 660px,#52abae 663px,#64c0a6 666px,#b3e0a2 672px,#c6e89f 681px,#c6e89f 687px,#a2d9a4 690px,#5eb9a9 693px,#3682ba 696px,#486cb0 699px,#3a7eb8 702px,#49a2b2 705px,#66c2a5 708px,#6bc4a5 711px,#358bbc 723px,#378ebb 726px,#69c3a5 735px,#69c3a5 738px,#56b0ad 741px,#3d95b8 744px,#3b7cb7 747px,#4175b4 750px,#3682ba 759px,#50a9af 762px,#62bda7 765px,#3990ba 771px,#3a7eb8 774px,#486cb0 792px,#525fa9 801px,#4b68ae 807px,#4273b3 810px,#439bb5 813px,#47a0b3 816px,#3387bc 825px,#466eb1 834px,#4471b2 840px,#3682ba 843px,#3f97b7 846px,#5eb9a9 852px,#71c6a5 858px,#84cea5 861px,#bce4a0 864px,#bce4a0 879px,#9fd8a4 888px,#7ecca5 891px,#56b0ad 894px,#3389bd 897px,#4175b4 900px,#4175b4 912px,#3387bc 915px,#486cb0 924px,#486cb0 927px,#3a7eb8 930px,#3f97b7 933px,#54aead 936px,#5ab4ab 939px,#52abae 942px,#3387bc 948px,#466eb1 957px,#496aaf 969px)"></div><div style="height:3px;background:linear-gradient(90deg,#ab0f45 0px,#ad1246 39px,#ba2049 45px,#c1274a 54px,#f57748 57px,#f88c51 60px,#fdad60 81px,#fca55d 84px,#f67a49 90px,#f46d43 93px,#f47044 99px,#f7814c 105px,#fdad60 108px,#fed884 117px,#ffffbe 132px,#eef8a4 144px,#f2faaa 156px,#e9f69d 159px,#caea9e 168px,#bfe5a0 183px,#d3ed9c 189px,#e4f498 192px,#fbfdb8 204px,#fff6b0 210px,#fffebe 213px,#e8f69b 219px,#b5e1a2 228px,#acdda4 231px,#aedea3 234px,#e4f498 240px,#f0f9a7 243px,#f3faac 255px,#fefebd 261px,#eef8a4 270px,#f6fbb0 288px,#fdfebb 294px,#fffcba 297px,#fee695 303px,#fee08b 306px,#fffebe 312px,#eaf79e 321px,#dff299 327px,#bfe5a0 345px,#c1e6a0 348px,#e1f399 354px,#eef8a4 357px,#ffffbe 360px,#f0f9a7 363px,#e4f498 372px,#99d6a4 381px,#7ecca5 387px,#71c6a5 396px,#79c9a5 399px,#a4daa4 405px,#a7dba4 408px,#7ccaa5 411px,#8cd1a4 423px,#aadca4 432px,#aadca4 435px,#9cd7a4 438px,#6ec5a5 444px,#66c2a5 447px,#62bda7 462px,#3b92b9 471px,#3f97b7 474px,#74c7a5 480px,#8fd2a4 483px,#91d3a4 486px,#69c3a5 495px,#66c2a5 498px,#7ccaa5 510px,#6ec5a5 513px,#3d95b8 519px,#3880b9 522px,#4d65ad 531px,#5061aa 534px,#496aaf 537px,#3b92b9 540px,#6bc4a5 543px,#97d5a4 546px,#9fd8a4 549px,#76c8a5 558px,#74c7a5 561px,#86cfa5 564px,#bfe5a0 570px,#c8e99e 573px,#aadca4 576px,#64c0a6 579px,#3682ba 582px,#5061aa 585px,#496aaf 588px,#3880b9 591px,#439bb5 594px,#5ab4ab 597px,#6bc4a5 603px,#89d0a4 612px,#86cfa5 624px,#74c7a5 627px,#3f97b7 633px,#3387bc 636px,#4175b4 645px,#4175b4 648px,#3a7eb8 651px,#439bb5 654px,#5cb7aa 657px,#64c0a6 660px,#56b0ad 663px,#69c3a5 666px,#b8e2a1 672px,#c3e79f 678px,#c6e89f 687px,#a2d9a4 690px,#5eb9a9 693px,#3880b9 696px,#496aaf 699px,#3a7eb8 702px,#49a2b2 705px,#66c2a5 708px,#6ec5a5 711px,#62bda7 714px,#3b92b9 723px,#3d95b8 726px,#6ec5a5 735px,#6ec5a5 738px,#5ab4ab 741px,#3d95b8 744px,#3b7cb7 747px,#4175b4 753px,#3682ba 759px,#50a9af 762px,#62bda7 765px,#3990ba 771px,#3a7eb8 774px,#486cb0 792px,#5061aa 801px,#4471b2 810px,#439bb5 813px,#49a2b2 816px,#3387bc 825px,#496aaf 837px,#4471b2 840px,#3585bb 843px,#58b2ac 849px,#64c0a6 852px,#76c8a5 858px,#86cfa5 861px,#bce4a0 864px,#bfe5a0 876px,#acdda4 885px,#9fd8a4 888px,#81cda5 891px,#56b0ad 894px,#3389bd 897px,#4175b4 900px,#4175b4 912px,#3387bc 915px,#486cb0 924px,#486cb0 927px,#3a7eb8 930px,#4199b6 933px,#56b0ad 936px,#5cb7aa 939px,#459eb4 945px,#358bbc 948px,#3f77b5 954px,#496aaf 963px,#496aaf 969px)"></div><div style="height:3px;background:linear-gradient(90deg,#ab0f45 0px,#ab0f45 39px,#b61b48 48px,#bc2249 54px,#f57748 57px,#f88c51 60px,#fcaa5f 81px,#fba35c 84px,#f57748 90px,#f26944 93px,#f57547 102px,#f7814c 105px,#fdad60 108px,#fee08b 120px,#fffebe 132px,#eff9a6 144px,#f3faac 156px,#e4f498 162px,#cfec9d 168px,#c6e89f 183px,#e6f598 192px,#fcfeba 204px,#fff2aa 210px,#fffdbc 213px,#e9f69d 219px,#bce4a0 228px,#b3e0a2 231px,#b5e1a2 234px,#e7f59a 240px,#f1f9a9 243px,#f3faac 255px,#fefebd 261px,#eff9a6 270px,#f7fcb2 288px,#fefebd 294px,#fffbb8 297px,#fee593 303px,#fede89 306px,#fffcba 312px,#e8f69b 324px,#bfe5a0 345px,#c1e6a0 348px,#e1f399 354px,#eef8a4 357px,#ffffbe 360px,#f1f9a9 363px,#e9f69d 372px,#d8ef9b 375px,#a2d9a4 381px,#8fd2a4 384px,#76c8a5 393px,#74c7a5 396px,#7ccaa5 399px,#a4daa4 405px,#a7dba4 408px,#7ccaa5 411px,#91d3a4 423px,#aedea3 432px,#aedea3 435px,#a2d9a4 438px,#76c8a5 444px,#6ec5a5 447px,#6ec5a5 459px,#66c2a5 462px,#4199b6 471px,#459eb4 474px,#5ab4ab 477px,#79c9a5 480px,#91d3a4 483px,#94d4a4 486px,#6ec5a5 495px,#6ec5a5 501px,#81cda5 510px,#71c6a5 513px,#58b2ac 516px,#3d95b8 519px,#3880b9 522px,#496aaf 531px,#4d65ad 534px,#466eb1 537px,#3f97b7 540px,#6ec5a5 543px,#99d6a4 546px,#9fd8a4 549px,#79c9a5 558px,#76c8a5 561px,#89d0a4 564px,#c1e6a0 570px,#caea9e 573px,#acdda4 576px,#64c0a6 579px,#3682ba 582px,#4e63ac 585px,#496aaf 588px,#3682ba 591px,#5eb9a9 597px,#69c3a5 600px,#7ecca5 609px,#8cd1a4 612px,#89d0a4 624px,#74c7a5 627px,#3b92b9 633px,#3682ba 636px,#4175b4 648px,#3880b9 651px,#459eb4 654px,#60bba8 657px,#69c3a5 660px,#5ab4ab 663px,#6ec5a5 666px,#99d6a4 669px,#bce4a0 672px,#c8e99e 681px,#c8e99e 687px,#a2d9a4 690px,#60bba8 693px,#3682ba 696px,#486cb0 699px,#3880b9 702px,#4ba4b1 705px,#69c3a5 708px,#71c6a5 711px,#66c2a5 714px,#49a2b2 720px,#4199b6 723px,#439bb5 726px,#62bda7 732px,#71c6a5 735px,#71c6a5 738px,#5cb7aa 741px,#3f97b7 744px,#3b7cb7 747px,#4175b4 750px,#3682ba 759px,#50a9af 762px,#62bda7 765px,#3990ba 771px,#3a7eb8 774px,#486cb0 792px,#4e63ac 801px,#4273b3 810px,#459eb4 813px,#4ba4b1 816px,#3389bd 825px,#486cb0 837px,#4273b3 840px,#3387bc 843px,#5eb9a9 849px,#74c7a5 855px,#7ccaa5 858px,#8cd1a4 861px,#bce4a0 864px,#b8e2a1 879px,#9fd8a4 888px,#81cda5 891px,#56b0ad 894px,#3389bd 897px,#4175b4 900px,#4175b4 912px,#3387bc 915px,#486cb0 924px,#466eb1 927px,#3880b9 930px,#439bb5 933px,#5ab4ab 936px,#60bba8 939px,#58b2ac 942px,#3990ba 948px,#3682ba 951px,#466eb1 960px,#466eb1 969px)"></div><div style="height:3px;background:linear-gradient(90deg,#ab0f45 0px,#ad1246 42px,#b61b48 54px,#f57748 57px,#f88950 60px,#fba35c 81px,#fa9b58 84px,#f47044 90px,#ef6645 93px,#f26944 99px,#f67f4b 105px,#fca85e 108px,#fdc776 114px,#feeda1 126px,#fffcba 132px,#f7fcb2 138px,#f0f9a7 144px,#f5fbaf 156px,#e7f59a 162px,#d1ed9c 171px,#cdeb9d 183px,#e8f69b 192px,#fefebd 204px,#feefa3 210px,#fffab6 213px,#f7fcb2 216px,#ecf7a1 219px,#e1f399 222px,#c3e79f 228px,#bce4a0 234px,#e9f69d 240px,#f2faaa 243px,#f4faad 255px,#fefebd 261px,#f0f9a7 270px,#f7fcb2 288px,#fefebd 294px,#fffbb8 297px,#fee491 303px,#fedc88 306px,#fffab6 312px,#fcfeba 315px,#e7f59a 327px,#c1e6a0 345px,#d1ed9c 351px,#e4f498 354px,#eff9a6 357px,#ffffbe 360px,#f1f9a9 363px,#edf8a3 372px,#e4f498 375px,#aadca4 381px,#94d4a4 384px,#79c9a5 393px,#76c8a5 396px,#7ecca5 399px,#a7dba4 405px,#aadca4 408px,#7ecca5 411px,#94d4a4 423px,#b3e0a2 432px,#b3e0a2 435px,#aadca4 438px,#81cda5 444px,#76c8a5 447px,#74c7a5 459px,#6ec5a5 462px,#52abae 468px,#49a2b2 471px,#4ea7b0 474px,#60bba8 477px,#7ecca5 480px,#94d4a4 483px,#97d5a4 486px,#8fd2a4 489px,#74c7a5 495px,#6ec5a5 498px,#84cea5 510px,#74c7a5 513px,#58b2ac 516px,#3d95b8 519px,#3880b9 522px,#466eb1 534px,#3f77b5 537px,#459eb4 540px,#71c6a5 543px,#9cd7a4 546px,#a2d9a4 549px,#7ecca5 558px,#7ccaa5 561px,#8fd2a4 564px,#c3e79f 570px,#cdeb9d 573px,#aedea3 576px,#66c2a5 579px,#3387bc 582px,#4d65ad 585px,#466eb1 588px,#3387bc 591px,#4ea7b0 594px,#62bda7 597px,#74c7a5 603px,#81cda5 609px,#91d3a4 612px,#8fd2a4 624px,#76c8a5 627px,#378ebb 633px,#3a7eb8 636px,#3f77b5 648px,#3682ba 651px,#47a0b3 654px,#64c0a6 657px,#6ec5a5 660px,#5eb9a9 663px,#74c7a5 666px,#9fd8a4 669px,#c1e6a0 672px,#caea9e 681px,#c8e99e 687px,#a4daa4 690px,#62bda7 693px,#3389bd 696px,#4273b3 699px,#3585bb 702px,#50a9af 705px,#6ec5a5 708px,#74c7a5 711px,#69c3a5 714px,#49a2b2 723px,#4ba4b1 726px,#66c2a5 732px,#76c8a5 735px,#76c8a5 738px,#5eb9a9 741px,#4199b6 744px,#3a7eb8 747px,#3f77b5 750px,#3585bb 759px,#52abae 762px,#64c0a6 765px,#3990ba 771px,#3880b9 774px,#4b68ae 801px,#486cb0 807px,#4175b4 810px,#47a0b3 813px,#4ea7b0 816px,#3387bc 828px,#4273b3 837px,#3d79b6 840px,#378ebb 843px,#64c0a6 849px,#8fd2a4 861px,#bae3a1 864px,#b5e1a2 879px,#9cd7a4 888px,#81cda5 891px,#58b2ac 894px,#358bbc 897px,#3f77b5 900px,#4175b4 912px,#3387bc 915px,#466eb1 924px,#466eb1 927px,#3682ba 930px,#5cb7aa 936px,#62bda7 939px,#4ba4b1 945px,#3389bd 951px,#4175b4 960px,#4273b3 969px)"></div><div style="height:3px;background:linear-gradient(90deg,#ab0f45 0px,#ad1246 51px,#b11747 54px,#f57748 57px,#f88950 60px,#fa9b58 81px,#f99355 84px,#f26944 90px,#eb6046 93px,#f46d43 102px,#f67c4a 105px,#fba35c 108px,#fdb768 111px,#fee491 123px,#fffbb8 132px,#fefebd 135px,#f4faad 141px,#f6fbb0 156px,#e9f69d 162px,#d8ef9b 171px,#d6ee9b 183px,#e6f598 189px,#fffebe 204px,#fff1a8 207px,#feea9b 210px,#fbfdb8 216px,#e8f69b 222px,#c3e79f 231px,#c6e89f 234px,#d8ef9b 237px,#ebf7a0 240px,#f4faad 243px,#f5fbaf 255px,#ffffbe 261px,#f2faaa 270px,#f8fcb4 288px,#ffffbe 294px,#fffab6 297px,#fee491 303px,#feda86 306px,#fff7b2 312px,#ffffbe 315px,#e4f498 330px,#c6e89f 345px,#c8e99e 348px,#e6f598 354px,#eff9a6 357px,#ffffbe 360px,#f3faac 363px,#f1f9a9 372px,#e9f69d 375px,#b1dfa3 381px,#9cd7a4 384px,#7ecca5 393px,#7ccaa5 396px,#84cea5 399px,#acdda4 405px,#aedea3 408px,#81cda5 411px,#91d3a4 420px,#b8e2a1 432px,#bae3a1 435px,#9cd7a4 441px,#89d0a4 444px,#7ecca5 450px,#7ccaa5 459px,#64c0a6 465px,#50a9af 471px,#54aead 474px,#66c2a5 477px,#84cea5 480px,#97d5a4 483px,#99d6a4 486px,#91d3a4 489px,#76c8a5 495px,#74c7a5 498px,#86cfa5 507px,#86cfa5 510px,#76c8a5 513px,#3d95b8 519px,#3682ba 522px,#3d79b6 534px,#3682ba 537px,#4ba4b1 540px,#76c8a5 543px,#9cd7a4 546px,#a2d9a4 549px,#81cda5 558px,#7ecca5 561px,#91d3a4 564px,#c6e89f 570px,#cfec9d 573px,#b1dfa3 576px,#6bc4a5 579px,#3389bd 582px,#496aaf 585px,#4273b3 588px,#358bbc 591px,#52abae 594px,#69c3a5 597px,#79c9a5 603px,#84cea5 609px,#97d5a4 612px,#91d3a4 624px,#76c8a5 627px,#3387bc 633px,#3d79b6 636px,#3d79b6 648px,#3585bb 651px,#69c3a5 657px,#74c7a5 660px,#62bda7 663px,#79c9a5 666px,#a4daa4 669px,#c6e89f 672px,#cdeb9d 684px,#caea9e 687px,#aadca4 690px,#69c3a5 693px,#3990ba 696px,#3b7cb7 699px,#358bbc 702px,#54aead 705px,#71c6a5 708px,#79c9a5 711px,#52abae 723px,#54aead 726px,#79c9a5 735px,#79c9a5 738px,#60bba8 741px,#439bb5 744px,#3682ba 747px,#3d79b6 750px,#3387bc 759px,#52abae 762px,#64c0a6 765px,#3990ba 771px,#3880b9 774px,#496aaf 801px,#3f77b5 810px,#49a2b2 813px,#50a9af 816px,#3387bc 831px,#3b7cb7 837px,#3682ba 840px,#3f97b7 843px,#6bc4a5 849px,#91d3a4 861px,#b8e2a1 864px,#acdda4 882px,#99d6a4 888px,#7ecca5 891px,#58b2ac 894px,#378ebb 897px,#3f77b5 900px,#4175b4 912px,#3387bc 915px,#4471b2 924px,#4273b3 927px,#3585bb 930px,#5cb7aa 936px,#64c0a6 939px,#3387bc 954px,#3d79b6 963px,#3d79b6 969px)"></div><div style="height:3px;background:linear-gradient(90deg,#ab0f45 0px,#ab0f45 54px,#f57748 57px,#f8864f 60px,#f98e52 72px,#f99153 81px,#f88950 84px,#f57547 87px,#ee6445 90px,#e95c47 96px,#f26944 102px,#f57748 105px,#fb9d59 108px,#fdbd6d 114px,#fee18d 123px,#fffab6 132px,#ffffbe 135px,#f5fbaf 144px,#f8fcb4 156px,#e6f598 165px,#dff299 171px,#e4f498 186px,#fdfebb 201px,#fffbb8 204px,#feec9f 207px,#fee491 210px,#feefa3 213px,#ffffbe 216px,#ecf7a1 222px,#e1f399 225px,#cdeb9d 231px,#cdeb9d 234px,#dff299 237px,#f5fbaf 243px,#f7fcb2 255px,#ffffbe 261px,#f4faad 270px,#f9fcb5 288px,#fffebe 294px,#fff8b4 297px,#fee28f 303px,#fed884 306px,#fff3ac 312px,#fffcba 315px,#f7fcb2 321px,#e4f498 333px,#cdeb9d 342px,#cdeb9d 348px,#e7f59a 354px,#f0f9a7 357px,#ffffbe 360px,#f5fbaf 363px,#f5fbaf 372px,#edf8a3 375px,#d6ee9b 378px,#b5e1a2 381px,#a2d9a4 384px,#86cfa5 393px,#84cea5 396px,#8cd1a4 399px,#b1dfa3 405px,#b3e0a2 408px,#84cea5 411px,#94d4a4 420px,#bce4a0 432px,#bfe5a0 435px,#a4daa4 441px,#91d3a4 444px,#86cfa5 450px,#7ccaa5 462px,#60bba8 468px,#58b2ac 471px,#5cb7aa 474px,#86cfa5 480px,#99d6a4 483px,#9cd7a4 486px,#7ccaa5 495px,#7ccaa5 501px,#8cd1a4 510px,#79c9a5 513px,#58b2ac 516px,#3b92b9 519px,#3682ba 522px,#3387bc 534px,#3990ba 537px,#56b0ad 540px,#7ccaa5 543px,#9fd8a4 546px,#a4daa4 549px,#84cea5 558px,#84cea5 561px,#94d4a4 564px,#c8e99e 570px,#d1ed9c 573px,#b3e0a2 576px,#71c6a5 579px,#378ebb 582px,#466eb1 585px,#3f77b5 588px,#3b92b9 591px,#58b2ac 594px,#71c6a5 597px,#86cfa5 609px,#99d6a4 612px,#97d5a4 624px,#79c9a5 627px,#50a9af 630px,#3585bb 633px,#4175b4 636px,#3b7cb7 648px,#3389bd 651px,#6ec5a5 657px,#79c9a5 660px,#69c3a5 663px,#81cda5 666px,#aadca4 669px,#c8e99e 672px,#cfec9d 678px,#cfec9d 687px,#aedea3 690px,#71c6a5 693px,#4199b6 696px,#3585bb 699px,#3d95b8 702px,#5ab4ab 705px,#76c8a5 708px,#7ccaa5 711px,#58b2ac 723px,#5ab4ab 726px,#7ecca5 735px,#7ccaa5 738px,#64c0a6 741px,#47a0b3 744px,#3585bb 747px,#3a7eb8 753px,#358bbc 759px,#54aead 762px,#66c2a5 765px,#3b92b9 771px,#3880b9 774px,#466eb1 801px,#3d79b6 810px,#4ea7b0 813px,#54aead 816px,#3387bc 837px,#378ebb 840px,#5eb9a9 846px,#74c7a5 849px,#97d5a4 861px,#b5e1a2 864px,#acdda4 879px,#97d5a4 888px,#7ecca5 891px,#58b2ac 894px,#3990ba 897px,#3d79b6 900px,#4175b4 912px,#3387bc 915px,#4175b4 924px,#4175b4 927px,#3387bc 930px,#5eb9a9 936px,#64c0a6 939px,#56b0ad 945px,#3990ba 954px,#3389bd 957px,#3682ba 963px,#3682ba 969px)"></div><div style="height:3px;background:linear-gradient(90deg,#ab0f45 0px,#ab0f45 54px,#f57547 57px,#f8864f 60px,#f8864f 78px,#f67c4a 84px,#f36b43 87px,#e55749 93px,#ea5e47 99px,#f57547 105px,#fa9656 108px,#fdad60 111px,#fee999 126px,#fffdbc 135px,#f8fcb4 147px,#fafdb7 156px,#ecf7a1 162px,#e4f498 171px,#e9f69d 186px,#fdfebb 198px,#fffdbc 201px,#fff6b0 204px,#fee797 207px,#fedc88 210px,#fee999 213px,#fffab6 216px,#f8fcb4 219px,#e9f69d 225px,#d6ee9b 231px,#d6ee9b 234px,#e6f598 237px,#f7fcb2 243px,#f8fcb4 255px,#ffffbe 261px,#f6fbb0 273px,#fffdbc 294px,#fff7b2 297px,#fee18d 303px,#fed683 306px,#fff1a8 312px,#fffebe 318px,#e8f69b 333px,#cfec9d 345px,#daf09a 351px,#e8f69b 354px,#f0f9a7 357px,#ffffbe 360px,#f7fcb2 363px,#f8fcb4 372px,#f0f9a7 375px,#ddf19a 378px,#bce4a0 381px,#9fd8a4 387px,#8fd2a4 393px,#8cd1a4 396px,#94d4a4 399px,#b8e2a1 405px,#bae3a1 408px,#86cfa5 411px,#97d5a4 420px,#c1e6a0 432px,#c3e79f 435px,#acdda4 441px,#99d6a4 444px,#8cd1a4 453px,#89d0a4 459px,#66c2a5 468px,#60bba8 471px,#62bda7 474px,#9cd7a4 483px,#9fd8a4 486px,#7ecca5 495px,#7ccaa5 498px,#8fd2a4 507px,#8fd2a4 510px,#7ecca5 513px,#5ab4ab 516px,#3d95b8 519px,#3682ba 522px,#358bbc 531px,#47a0b3 537px,#60bba8 540px,#a2d9a4 546px,#a4daa4 549px,#89d0a4 558px,#86cfa5 561px,#97d5a4 564px,#caea9e 570px,#d3ed9c 573px,#b5e1a2 576px,#76c8a5 579px,#3d95b8 582px,#4175b4 585px,#3a7eb8 588px,#4199b6 591px,#5eb9a9 594px,#76c8a5 597px,#89d0a4 609px,#9fd8a4 612px,#99d6a4 624px,#7ccaa5 627px,#50a9af 630px,#3682ba 633px,#4471b2 636px,#3880b9 648px,#3990ba 651px,#56b0ad 654px,#74c7a5 657px,#7ecca5 660px,#6ec5a5 663px,#86cfa5 666px,#aedea3 669px,#cdeb9d 672px,#d3ed9c 678px,#d1ed9c 687px,#b3e0a2 690px,#79c9a5 693px,#4ba4b1 696px,#3990ba 699px,#47a0b3 702px,#60bba8 705px,#7ccaa5 708px,#81cda5 711px,#64c0a6 720px,#62bda7 726px,#81cda5 735px,#7ecca5 738px,#66c2a5 741px,#3389bd 747px,#3880b9 750px,#3387bc 756px,#3990ba 759px,#58b2ac 762px,#66c2a5 765px,#3b92b9 771px,#3682ba 774px,#4273b3 801px,#3a7eb8 810px,#50a9af 813px,#58b2ac 816px,#3d95b8 837px,#4199b6 840px,#66c2a5 846px,#7ccaa5 849px,#99d6a4 861px,#b1dfa3 864px,#a7dba4 879px,#94d4a4 888px,#7ccaa5 891px,#3b92b9 897px,#3a7eb8 900px,#4175b4 912px,#3387bc 915px,#3d79b6 927px,#358bbc 930px,#60bba8 936px,#66c2a5 939px,#358bbc 960px,#3389bd 969px)"></div><div style="height:3px;background:linear-gradient(90deg,#ab0f45 0px,#ab0f45 54px,#f57547 57px,#f7844e 60px,#f7844e 75px,#f57245 84px,#e75948 90px,#e3534a 96px,#ee6445 102px,#f57245 105px,#f99153 108px,#fdb567 114px,#fee797 126px,#fffcba 135px,#fbfdb8 156px,#eaf79e 165px,#e9f69d 180px,#f8fcb4 192px,#fefebd 195px,#fff7b2 201px,#fff1a8 204px,#fee28f 207px,#fed27f 210px,#fee28f 213px,#fff2aa 216px,#fdfebb 219px,#e7f59a 228px,#dff299 234px,#f2faaa 240px,#fbfdb8 246px,#fafdb7 255px,#ffffbe 261px,#f9fcb5 276px,#ffffbe 291px,#fff6b0 297px,#fee08b 303px,#fed481 306px,#feeda1 312px,#fffbb8 318px,#fefebd 321px,#e7f59a 336px,#d6ee9b 345px,#dff299 351px,#e9f69d 354px,#f1f9a9 357px,#ffffbe 360px,#f9fcb5 363px,#fbfdb8 372px,#f3faac 375px,#e1f399 378px,#c1e6a0 381px,#aedea3 384px,#97d5a4 393px,#94d4a4 396px,#9cd7a4 399px,#bfe5a0 405px,#bfe5a0 408px,#89d0a4 411px,#a4daa4 423px,#c6e89f 432px,#c8e99e 435px,#99d6a4 447px,#8fd2a4 459px,#66c2a5 471px,#6bc4a5 474px,#9fd8a4 483px,#a2d9a4 486px,#81cda5 495px,#7ecca5 498px,#94d4a4 510px,#81cda5 513px,#5cb7aa 516px,#3d95b8 519px,#3585bb 522px,#358bbc 528px,#54aead 537px,#6bc4a5 540px,#8cd1a4 543px,#a2d9a4 546px,#a4daa4 549px,#8cd1a4 558px,#89d0a4 561px,#cdeb9d 570px,#d6ee9b 573px,#bae3a1 576px,#7ccaa5 579px,#439bb5 582px,#3a7eb8 585px,#3585bb 588px,#47a0b3 591px,#64c0a6 594px,#7ecca5 597px,#8cd1a4 609px,#a2d9a4 612px,#9fd8a4 624px,#7ecca5 627px,#50a9af 630px,#3880b9 633px,#466eb1 636px,#3682ba 648px,#3d95b8 651px,#5ab4ab 654px,#79c9a5 657px,#84cea5 660px,#76c8a5 663px,#8cd1a4 666px,#b3e0a2 669px,#d1ed9c 672px,#d6ee9b 684px,#d3ed9c 687px,#b8e2a1 690px,#84cea5 693px,#56b0ad 696px,#459eb4 699px,#50a9af 702px,#66c2a5 705px,#81cda5 708px,#84cea5 711px,#6ec5a5 717px,#66c2a5 723px,#71c6a5 729px,#84cea5 735px,#81cda5 738px,#69c3a5 741px,#378ebb 747px,#3585bb 750px,#358bbc 756px,#3d95b8 759px,#5ab4ab 762px,#69c3a5 765px,#3d95b8 771px,#3682ba 774px,#3d79b6 804px,#3682ba 810px,#54aead 813px,#5cb7aa 816px,#50a9af 831px,#49a2b2 837px,#4ea7b0 840px,#71c6a5 846px,#84cea5 849px,#94d4a4 855px,#9fd8a4 861px,#aedea3 864px,#9fd8a4 882px,#8fd2a4 888px,#79c9a5 891px,#5ab4ab 894px,#3d95b8 897px,#3880b9 900px,#4175b4 912px,#3387bc 915px,#3b7cb7 924px,#3a7eb8 927px,#3990ba 930px,#62bda7 936px,#69c3a5 939px,#56b0ad 948px,#3d95b8 960px,#3b92b9 969px)"></div><div style="height:3px;background:linear-gradient(90deg,#ab0f45 0px,#ab0f45 54px,#f57547 57px,#f7844e 60px,#f67f4b 75px,#eb6046 87px,#e1504b 93px,#e55749 99px,#f47044 105px,#fb9d59 111px,#feda86 123px,#fff6b0 132px,#fffebe 138px,#fdfebb 156px,#eff9a6 162px,#e9f69d 171px,#f2faaa 186px,#fdfebb 192px,#fff7b2 198px,#feec9f 204px,#fedc88 207px,#feca79 210px,#fedc88 213px,#fffbb8 219px,#fbfdb8 222px,#e8f69b 231px,#edf8a3 237px,#fbfdb8 243px,#fefebd 264px,#fffdbc 291px,#fff5ae 297px,#fede89 303px,#fed27f 306px,#feea9b 312px,#fffcba 321px,#fdfebb 324px,#e7f59a 339px,#ddf19a 345px,#ddf19a 348px,#e6f598 351px,#f1f9a9 357px,#ffffbe 360px,#fcfeba 366px,#fefebd 372px,#e7f59a 378px,#c8e99e 381px,#b5e1a2 384px,#9fd8a4 393px,#a4daa4 399px,#c3e79f 405px,#c3e79f 408px,#8fd2a4 411px,#9fd8a4 420px,#caea9e 432px,#cdeb9d 435px,#b8e2a1 441px,#a2d9a4 447px,#89d0a4 462px,#71c6a5 471px,#74c7a5 474px,#a2d9a4 483px,#a4daa4 486px,#86cfa5 495px,#86cfa5 501px,#99d6a4 510px,#84cea5 513px,#5eb9a9 516px,#3f97b7 519px,#3585bb 522px,#3387bc 525px,#52abae 534px,#60bba8 537px,#94d4a4 543px,#a4daa4 546px,#a7dba4 549px,#8fd2a4 558px,#8fd2a4 561px,#9fd8a4 564px,#cfec9d 570px,#d8ef9b 573px,#bce4a0 576px,#81cda5 579px,#49a2b2 582px,#3585bb 585px,#378ebb 588px,#6bc4a5 594px,#86cfa5 597px,#8fd2a4 609px,#a4daa4 612px,#a2d9a4 624px,#81cda5 627px,#50a9af 630px,#3a7eb8 633px,#486cb0 636px,#3a7eb8 645px,#3387bc 648px,#439bb5 651px,#5eb9a9 654px,#7ecca5 657px,#89d0a4 660px,#7ecca5 663px,#94d4a4 666px,#d3ed9c 672px,#d8ef9b 687px,#bce4a0 690px,#5eb9a9 696px,#50a9af 699px,#5ab4ab 702px,#86cfa5 708px,#89d0a4 711px,#79c9a5 714px,#6bc4a5 723px,#7ecca5 732px,#86cfa5 735px,#84cea5 738px,#6bc4a5 741px,#3b92b9 747px,#3389bd 750px,#4199b6 759px,#5cb7aa 762px,#69c3a5 765px,#56b0ad 768px,#3d95b8 771px,#3585bb 774px,#3880b9 804px,#3387bc 810px,#58b2ac 813px,#60bba8 816px,#5cb7aa 831px,#56b0ad 837px,#5ab4ab 840px,#66c2a5 843px,#8cd1a4 849px,#acdda4 864px,#9fd8a4 879px,#8cd1a4 888px,#79c9a5 891px,#5ab4ab 894px,#3f97b7 897px,#3585bb 900px,#4175b4 909px,#4175b4 912px,#3387bc 915px,#3682ba 927px,#3b92b9 930px,#64c0a6 936px,#6bc4a5 939px,#5cb7aa 948px,#4199b6 963px,#4199b6 969px)"></div><div style="height:3px;background:linear-gradient(90deg,#ab0f45 0px,#ab0f45 54px,#f57547 57px,#f7814c 60px,#f67c4a 75px,#ef6645 84px,#df4e4b 93px,#e55749 99px,#f46d43 105px,#fcaa5f 114px,#fed683 123px,#feefa3 129px,#fffdbc 138px,#fefebd 156px,#f0f9a7 162px,#eaf79e 171px,#f6fbb0 186px,#fffdbc 192px,#fee797 204px,#fdc372 210px,#fed27f 213px,#fff5ae 219px,#fffebe 222px,#ecf7a1 231px,#f1f9a9 237px,#fdfebb 243px,#fffebe 288px,#fff2aa 297px,#fedc88 303px,#fed07e 306px,#fee797 312px,#fffebe 324px,#e6f598 342px,#e8f69b 351px,#f2faaa 357px,#ffffbe 360px,#ffffbe 372px,#e8f69b 378px,#cdeb9d 381px,#bae3a1 384px,#a7dba4 393px,#acdda4 399px,#caea9e 405px,#caea9e 408px,#91d3a4 411px,#a4daa4 420px,#cfec9d 432px,#c8e99e 438px,#a7dba4 447px,#8cd1a4 462px,#79c9a5 471px,#7ccaa5 474px,#a7dba4 483px,#a7dba4 486px,#89d0a4 495px,#86cfa5 498px,#9cd7a4 510px,#89d0a4 513px,#60bba8 516px,#4199b6 519px,#3387bc 522px,#3389bd 525px,#6bc4a5 537px,#99d6a4 543px,#a7dba4 546px,#aadca4 549px,#94d4a4 558px,#91d3a4 561px,#a2d9a4 564px,#d1ed9c 570px,#daf09a 573px,#c1e6a0 576px,#86cfa5 579px,#50a9af 582px,#378ebb 585px,#3d95b8 588px,#56b0ad 591px,#76c8a5 594px,#8cd1a4 597px,#91d3a4 606px,#91d3a4 609px,#aadca4 612px,#a7dba4 624px,#84cea5 627px,#50a9af 630px,#3a7eb8 633px,#496aaf 636px,#3880b9 645px,#358bbc 648px,#47a0b3 651px,#64c0a6 654px,#84cea5 657px,#8fd2a4 660px,#84cea5 663px,#99d6a4 666px,#bce4a0 669px,#d6ee9b 672px,#daf09a 687px,#c1e6a0 690px,#66c2a5 696px,#58b2ac 699px,#62bda7 702px,#8cd1a4 708px,#8cd1a4 711px,#79c9a5 714px,#71c6a5 723px,#71c6a5 726px,#86cfa5 735px,#84cea5 738px,#6ec5a5 741px,#3d95b8 747px,#378ebb 750px,#459eb4 759px,#5eb9a9 762px,#6bc4a5 765px,#58b2ac 768px,#3f97b7 771px,#3387bc 774px,#3387bc 807px,#358bbc 810px,#5ab4ab 813px,#66c2a5 816px,#6bc4a5 825px,#60bba8 837px,#64c0a6 840px,#97d5a4 849px,#aadca4 864px,#9cd7a4 879px,#89d0a4 888px,#76c8a5 891px,#4199b6 897px,#3387bc 900px,#4175b4 909px,#4175b4 912px,#3387bc 915px,#3387bc 927px,#54aead 933px,#66c2a5 936px,#6ec5a5 939px,#60bba8 948px,#47a0b3 963px,#47a0b3 969px)"></div><div style="height:3px;background:linear-gradient(90deg,#ab0f45 0px,#ab0f45 54px,#f57547 57px,#f7814c 60px,#f67f4b 72px,#ef6645 84px,#df4e4b 93px,#e55749 99px,#f46d43 105px,#fdb365 117px,#fee593 126px,#fff5ae 132px,#fffdbc 141px,#ffffbe 156px,#f1f9a9 162px,#eaf79e 171px,#fafdb7 186px,#ffffbe 189px,#fee28f 204px,#fdbf6f 210px,#fee18d 216px,#fff8b4 222px,#fdfebb 225px,#f1f9a9 231px,#f5fbaf 237px,#ffffbe 243px,#fffcba 288px,#fff1a8 297px,#fed884 303px,#fece7c 306px,#feea9b 315px,#fefebd 327px,#e9f69d 342px,#eaf79e 351px,#f3faac 357px,#fffebe 360px,#ffffbe 372px,#eaf79e 378px,#d1ed9c 381px,#b8e2a1 387px,#acdda4 396px,#c1e6a0 402px,#cfec9d 405px,#cfec9d 408px,#94d4a4 411px,#b1dfa3 423px,#d1ed9c 432px,#d3ed9c 435px,#a4daa4 450px,#7ecca5 471px,#81cda5 474px,#aadca4 483px,#acdda4 486px,#8cd1a4 495px,#89d0a4 498px,#a2d9a4 510px,#8cd1a4 513px,#64c0a6 516px,#439bb5 519px,#3389bd 522px,#378ebb 525px,#64c0a6 534px,#9fd8a4 543px,#aadca4 546px,#acdda4 549px,#97d5a4 558px,#97d5a4 561px,#bfe5a0 567px,#d3ed9c 570px,#ddf19a 573px,#c6e89f 576px,#8fd2a4 579px,#56b0ad 582px,#3d95b8 585px,#459eb4 588px,#5eb9a9 591px,#7ecca5 594px,#94d4a4 597px,#94d4a4 609px,#acdda4 612px,#aadca4 624px,#86cfa5 627px,#52abae 630px,#3a7eb8 633px,#486cb0 636px,#3f77b5 642px,#3682ba 645px,#3990ba 648px,#69c3a5 654px,#8cd1a4 657px,#94d4a4 660px,#8cd1a4 663px,#9fd8a4 666px,#d8ef9b 672px,#ddf19a 684px,#daf09a 687px,#c3e79f 690px,#71c6a5 696px,#60bba8 699px,#69c3a5 702px,#91d3a4 708px,#8fd2a4 711px,#79c9a5 714px,#71c6a5 726px,#86cfa5 735px,#84cea5 738px,#6ec5a5 741px,#4199b6 747px,#3b92b9 750px,#49a2b2 759px,#60bba8 762px,#6ec5a5 765px,#4199b6 771px,#3389bd 774px,#378ebb 807px,#3b92b9 810px,#5eb9a9 813px,#6ec5a5 816px,#76c8a5 825px,#6bc4a5 837px,#71c6a5 840px,#a2d9a4 849px,#acdda4 861px,#94d4a4 882px,#86cfa5 888px,#74c7a5 891px,#5cb7aa 894px,#358bbc 900px,#4175b4 909px,#4175b4 912px,#3387bc 915px,#358bbc 927px,#6bc4a5 936px,#74c7a5 939px,#5ab4ab 954px,#4ea7b0 963px,#4ea7b0 969px)"></div><div style="height:3px;background:linear-gradient(90deg,#ab0f45 0px,#ab0f45 54px,#f57547 57px,#f7814c 60px,#f67c4a 75px,#f06744 84px,#df4e4b 93px,#e55749 99px,#f46d43 105px,#fdad60 117px,#fee491 126px,#feefa3 129px,#fffbb8 138px,#fffebe 156px,#eaf79e 168px,#f0f9a7 177px,#fefebd 186px,#fff3ac 192px,#fedc88 204px,#fdb96a 210px,#fdc574 213px,#fee999 219px,#fffbb8 225px,#f7fcb2 234px,#ffffbe 240px,#fffbb8 255px,#fffcba 264px,#fff8b4 288px,#feeda1 297px,#fed683 303px,#fecc7b 306px,#fee18d 312px,#fff5ae 324px,#fffcba 327px,#f8fcb4 333px,#eaf79e 345px,#f0f9a7 354px,#f4faad 357px,#fffebe 360px,#fffbb8 366px,#fefebd 372px,#eaf79e 378px,#d3ed9c 381px,#bfe5a0 387px,#b3e0a2 396px,#b8e2a1 399px,#d3ed9c 405px,#d3ed9c 408px,#99d6a4 411px,#acdda4 420px,#d3ed9c 432px,#d6ee9b 435px,#99d6a4 456px,#86cfa5 471px,#89d0a4 474px,#b1dfa3 483px,#b1dfa3 486px,#8fd2a4 495px,#8cd1a4 498px,#a4daa4 510px,#91d3a4 513px,#66c2a5 516px,#47a0b3 519px,#358bbc 522px,#47a0b3 528px,#6ec5a5 534px,#a4daa4 543px,#b1dfa3 549px,#9cd7a4 558px,#9cd7a4 561px,#d8ef9b 570px,#dff299 573px,#c8e99e 576px,#60bba8 582px,#49a2b2 585px,#50a9af 588px,#66c2a5 591px,#86cfa5 594px,#9cd7a4 597px,#97d5a4 609px,#aedea3 612px,#aedea3 624px,#8cd1a4 627px,#56b0ad 630px,#3682ba 633px,#466eb1 636px,#3b7cb7 642px,#3389bd 645px,#52abae 651px,#71c6a5 654px,#91d3a4 657px,#9cd7a4 660px,#91d3a4 663px,#a4daa4 666px,#daf09a 672px,#dff299 684px,#ddf19a 687px,#c8e99e 690px,#79c9a5 696px,#69c3a5 699px,#74c7a5 702px,#97d5a4 708px,#94d4a4 711px,#79c9a5 714px,#71c6a5 723px,#71c6a5 726px,#86cfa5 735px,#84cea5 738px,#71c6a5 741px,#459eb4 747px,#3f97b7 750px,#4ea7b0 759px,#62bda7 762px,#6ec5a5 765px,#5ab4ab 768px,#439bb5 771px,#358bbc 774px,#3f97b7 810px,#64c0a6 813px,#76c8a5 816px,#81cda5 825px,#79c9a5 837px,#7ecca5 840px,#acdda4 849px,#b1dfa3 861px,#8cd1a4 885px,#84cea5 888px,#74c7a5 891px,#47a0b3 897px,#3387bc 903px,#4175b4 912px,#3387bc 915px,#3990ba 927px,#71c6a5 936px,#76c8a5 939px,#5eb9a9 954px,#52abae 963px,#52abae 969px)"></div><div style="height:3px;background:linear-gradient(90deg,#ab0f45 0px,#ab0f45 54px,#f57245 57px,#f7814c 60px,#f7814c 72px,#f26944 84px,#df4e4b 93px,#e55749 99px,#f46d43 105px,#fdb768 120px,#fee28f 126px,#feefa3 129px,#fff8b4 135px,#fffcba 150px,#fffcba 156px,#e9f69d 168px,#ecf7a1 174px,#fcfeba 183px,#fffcba 186px,#fee18d 198px,#fed27f 204px,#fdb365 210px,#fece7c 216px,#fee08b 219px,#fffbb8 228px,#fefebd 234px,#fffbb8 240px,#fff7b2 255px,#fffcba 261px,#fff1a8 291px,#feea9b 297px,#feca79 306px,#fee18d 315px,#fee999 321px,#fffebe 330px,#eef8a4 345px,#f5fbaf 357px,#fffdbc 360px,#fff7b2 363px,#fefebd 372px,#ebf7a0 378px,#caea9e 384px,#bae3a1 393px,#bfe5a0 399px,#daf09a 405px,#d8ef9b 408px,#9fd8a4 411px,#b8e2a1 423px,#d6ee9b 432px,#d8ef9b 435px,#97d5a4 456px,#8cd1a4 471px,#8fd2a4 474px,#b5e1a2 483px,#b8e2a1 486px,#94d4a4 495px,#91d3a4 498px,#aadca4 510px,#97d5a4 513px,#6ec5a5 516px,#4ba4b1 519px,#3b92b9 522px,#3f97b7 525px,#60bba8 531px,#9cd7a4 540px,#b8e2a1 546px,#b1dfa3 552px,#9fd8a4 561px,#c6e89f 567px,#daf09a 570px,#e4f498 573px,#cfec9d 576px,#6ec5a5 582px,#56b0ad 585px,#5cb7aa 588px,#8fd2a4 594px,#a2d9a4 597px,#a4daa4 600px,#99d6a4 609px,#b1dfa3 612px,#b1dfa3 624px,#91d3a4 627px,#5cb7aa 630px,#3389bd 633px,#3f77b5 636px,#3585bb 642px,#47a0b3 648px,#5ab4ab 651px,#79c9a5 654px,#99d6a4 657px,#a2d9a4 660px,#99d6a4 663px,#ddf19a 672px,#dff299 687px,#caea9e 690px,#84cea5 696px,#76c8a5 699px,#7ecca5 702px,#9fd8a4 708px,#99d6a4 711px,#79c9a5 714px,#71c6a5 723px,#71c6a5 726px,#86cfa5 735px,#84cea5 738px,#71c6a5 741px,#49a2b2 747px,#47a0b3 753px,#52abae 759px,#64c0a6 762px,#71c6a5 765px,#47a0b3 771px,#3b92b9 774px,#459eb4 810px,#69c3a5 813px,#7ecca5 816px,#8fd2a4 825px,#86cfa5 837px,#8cd1a4 840px,#acdda4 846px,#b8e2a1 852px,#b5e1a2 861px,#a2d9a4 870px,#81cda5 888px,#5eb9a9 894px,#358bbc 903px,#3d79b6 909px,#3f77b5 912px,#3389bd 915px,#3f97b7 927px,#62bda7 933px,#76c8a5 936px,#7ccaa5 939px,#60bba8 954px,#56b0ad 966px,#56b0ad 969px)"></div><div style="height:3px;background:linear-gradient(90deg,#ab0f45 0px,#ab0f45 54px,#f47044 57px,#f67f4b 60px,#f7814c 72px,#f36b43 84px,#e1504b 93px,#e75948 99px,#f46d43 105px,#fdb163 120px,#fee18d 126px,#feefa3 129px,#fff7b2 135px,#fffbb8 150px,#fafdb7 159px,#e7f59a 168px,#ebf7a0 174px,#fffebe 183px,#fee08b 195px,#fdc776 204px,#fdad60 210px,#fede89 222px,#fff1a8 228px,#fff7b2 234px,#fff3ac 255px,#fff8b4 261px,#feec9f 291px,#fedc88 300px,#fec877 306px,#fee491 321px,#fffab6 330px,#fefebd 333px,#f1f9a9 345px,#f6fbb0 357px,#fffdbc 360px,#fff3ac 363px,#fefebd 372px,#ebf7a0 378px,#ddf19a 381px,#c6e89f 390px,#bfe5a0 396px,#dff299 405px,#dff299 408px,#a4daa4 411px,#bce4a0 423px,#d8ef9b 432px,#d6ee9b 438px,#97d5a4 456px,#91d3a4 465px,#97d5a4 474px,#bfe5a0 483px,#bfe5a0 486px,#97d5a4 495px,#94d4a4 498px,#acdda4 507px,#aedea3 510px,#9cd7a4 513px,#74c7a5 516px,#52abae 519px,#4199b6 522px,#459eb4 525px,#66c2a5 531px,#a4daa4 540px,#bfe5a0 546px,#c1e6a0 549px,#a7dba4 558px,#a4daa4 561px,#b3e0a2 564px,#dff299 570px,#e7f59a 573px,#d3ed9c 576px,#7ecca5 582px,#66c2a5 585px,#6bc4a5 588px,#99d6a4 594px,#aadca4 597px,#9cd7a4 609px,#b3e0a2 612px,#b5e1a2 624px,#97d5a4 627px,#62bda7 630px,#3d95b8 633px,#3682ba 636px,#3387bc 639px,#50a9af 648px,#62bda7 651px,#9fd8a4 657px,#aadca4 660px,#a2d9a4 663px,#c8e99e 669px,#ddf19a 672px,#e1f399 687px,#cfec9d 690px,#8fd2a4 696px,#81cda5 699px,#89d0a4 702px,#a7dba4 708px,#9fd8a4 711px,#79c9a5 714px,#71c6a5 723px,#76c8a5 729px,#84cea5 735px,#84cea5 738px,#74c7a5 741px,#50a9af 747px,#4ba4b1 753px,#56b0ad 759px,#66c2a5 762px,#71c6a5 765px,#4ba4b1 771px,#3f97b7 774px,#47a0b3 795px,#49a2b2 807px,#4ba4b1 810px,#71c6a5 813px,#89d0a4 816px,#99d6a4 822px,#94d4a4 837px,#99d6a4 840px,#c1e6a0 849px,#bae3a1 861px,#a4daa4 867px,#84cea5 885px,#60bba8 894px,#3387bc 906px,#3b7cb7 912px,#3389bd 915px,#459eb4 927px,#66c2a5 933px,#7ccaa5 936px,#81cda5 939px,#5cb7aa 960px,#5ab4ab 969px)"></div><div style="height:3px;background:linear-gradient(90deg,#ab0f45 0px,#ab0f45 54px,#f46d43 57px,#f67c4a 60px,#f7814c 72px,#f47044 84px,#e1504b 93px,#e75948 99px,#f46d43 105px,#fa9857 117px,#fcaa5f 120px,#fede89 126px,#feefa3 129px,#fff7b2 135px,#fbfdb8 159px,#e6f598 168px,#ebf7a0 174px,#fbfdb8 180px,#fffbb8 183px,#fed683 195px,#fca85e 210px,#fdc574 219px,#fee695 228px,#feec9f 231px,#fff0a6 255px,#fff6b0 261px,#fee491 294px,#fed683 300px,#fdc776 306px,#fede89 321px,#fffcba 333px,#fefebd 336px,#f5fbaf 348px,#f8fcb4 357px,#fffbb8 360px,#fff0a6 363px,#fff2aa 366px,#fefebd 372px,#e1f399 381px,#caea9e 390px,#c6e89f 396px,#caea9e 399px,#e6f598 405px,#e4f498 408px,#aadca4 411px,#c1e6a0 423px,#daf09a 432px,#d8ef9b 438px,#94d4a4 456px,#8fd2a4 462px,#9cd7a4 474px,#c6e89f 483px,#c6e89f 486px,#9cd7a4 495px,#97d5a4 498px,#b1dfa3 507px,#b3e0a2 510px,#a2d9a4 513px,#7ccaa5 516px,#58b2ac 519px,#49a2b2 522px,#4ea7b0 525px,#6ec5a5 531px,#aedea3 540px,#caea9e 546px,#caea9e 549px,#acdda4 558px,#aadca4 561px,#b8e2a1 564px,#e4f498 570px,#e8f69b 573px,#daf09a 576px,#91d3a4 582px,#7ccaa5 585px,#81cda5 588px,#b1dfa3 597px,#9fd8a4 609px,#b5e1a2 612px,#b8e2a1 624px,#9cd7a4 627px,#6bc4a5 630px,#47a0b3 633px,#3990ba 636px,#4ea7b0 645px,#69c3a5 651px,#8cd1a4 654px,#a7dba4 657px,#b1dfa3 660px,#a7dba4 663px,#b5e1a2 666px,#dff299 672px,#e4f498 684px,#e1f399 687px,#d1ed9c 690px,#99d6a4 696px,#8fd2a4 699px,#94d4a4 702px,#acdda4 708px,#a2d9a4 711px,#79c9a5 714px,#71c6a5 723px,#76c8a5 729px,#84cea5 735px,#81cda5 738px,#60bba8 744px,#54aead 747px,#52abae 753px,#5ab4ab 759px,#69c3a5 762px,#74c7a5 765px,#62bda7 768px,#47a0b3 774px,#50a9af 792px,#50a9af 807px,#54aead 810px,#79c9a5 813px,#91d3a4 816px,#a7dba4 822px,#a7dba4 831px,#a7dba4 840px,#caea9e 849px,#c6e89f 858px,#c1e6a0 861px,#acdda4 864px,#81cda5 885px,#62bda7 894px,#358bbc 906px,#3a7eb8 912px,#358bbc 915px,#4ba4b1 927px,#6ec5a5 933px,#81cda5 936px,#86cfa5 939px,#74c7a5 948px,#60bba8 960px,#5eb9a9 969px)"></div><div style="height:3px;background:linear-gradient(90deg,#ab0f45 0px,#ab0f45 54px,#f36b43 57px,#f67c4a 60px,#f7814c 72px,#f67c4a 81px,#ef6645 87px,#e2514a 93px,#e85b48 99px,#f57547 108px,#f99355 117px,#fba35c 120px,#fdbd6d 123px,#fedc88 126px,#feeda1 129px,#fff5ae 132px,#fff8b4 147px,#fff7b2 156px,#fcfeba 159px,#eaf79e 165px,#e1f399 168px,#e1f399 171px,#eaf79e 174px,#fefebd 180px,#fed884 192px,#fca85e 207px,#fba05b 210px,#fdc171 222px,#fee28f 231px,#feeb9d 246px,#feeb9d 255px,#fff2aa 261px,#fedc88 294px,#fdc776 306px,#fed481 321px,#fee797 327px,#fff7b2 333px,#fefebd 339px,#f9fcb5 351px,#fffab6 360px,#feec9f 363px,#fff0a6 366px,#fefebd 372px,#e6f598 381px,#d6ee9b 387px,#cdeb9d 396px,#d1ed9c 399px,#e8f69b 405px,#e7f59a 408px,#aedea3 411px,#c6e89f 423px,#ddf19a 432px,#daf09a 438px,#b1dfa3 450px,#94d4a4 456px,#8fd2a4 462px,#99d6a4 471px,#cdeb9d 483px,#cdeb9d 486px,#9fd8a4 495px,#99d6a4 498px,#b8e2a1 510px,#a7dba4 513px,#60bba8 519px,#50a9af 522px,#54aead 525px,#76c8a5 531px,#c8e99e 543px,#d3ed9c 546px,#d3ed9c 549px,#b1dfa3 558px,#aedea3 561px,#d1ed9c 567px,#e6f598 570px,#eaf79e 573px,#e1f399 576px,#a2d9a4 582px,#8fd2a4 585px,#9fd8a4 591px,#aedea3 594px,#b5e1a2 600px,#a2d9a4 609px,#b8e2a1 612px,#bce4a0 624px,#a4daa4 627px,#76c8a5 630px,#54aead 633px,#47a0b3 636px,#58b2ac 645px,#74c7a5 651px,#aedea3 657px,#b5e1a2 660px,#aedea3 663px,#bae3a1 666px,#e1f399 672px,#e4f498 687px,#bce4a0 693px,#a4daa4 696px,#99d6a4 699px,#b3e0a2 708px,#a7dba4 711px,#79c9a5 714px,#71c6a5 723px,#7ccaa5 732px,#81cda5 738px,#5ab4ab 747px,#58b2ac 753px,#5eb9a9 759px,#6ec5a5 762px,#74c7a5 765px,#64c0a6 768px,#4ea7b0 774px,#5ab4ab 789px,#58b2ac 807px,#5cb7aa 810px,#81cda5 813px,#9cd7a4 816px,#b3e0a2 822px,#b3e0a2 840px,#d6ee9b 849px,#cdeb9d 858px,#c6e89f 861px,#acdda4 864px,#9fd8a4 870px,#7ecca5 885px,#64c0a6 894px,#49a2b2 903px,#3387bc 909px,#3682ba 912px,#358bbc 915px,#52abae 927px,#60bba8 930px,#86cfa5 936px,#8cd1a4 939px,#81cda5 945px,#6bc4a5 954px,#62bda7 963px,#62bda7 969px)"></div><div style="height:3px;background:linear-gradient(90deg,#ab0f45 0px,#ab0f45 54px,#f06744 57px,#f67a49 60px,#f7814c 72px,#f67f4b 81px,#f57748 84px,#e85b48 90px,#e2514a 93px,#e85b48 99px,#f57547 108px,#f88c51 117px,#fa9857 120px,#fdb768 123px,#fed884 126px,#feeda1 129px,#fff5ae 132px,#fff7b2 150px,#fff7b2 156px,#fdfebb 159px,#e9f69d 165px,#ddf19a 168px,#ddf19a 171px,#e9f69d 174px,#ffffbe 180px,#fee08b 189px,#fdb163 201px,#fb9d59 210px,#fdb365 222px,#feda86 234px,#fee797 243px,#fee797 255px,#fff0a6 261px,#fed683 291px,#fdc372 306px,#fecc7b 321px,#fee28f 327px,#fff3ac 333px,#fffebe 342px,#fbfdb8 357px,#fff8b4 360px,#fee999 363px,#feec9f 366px,#fff7b2 369px,#fdfebb 372px,#e8f69b 381px,#d3ed9c 393px,#d8ef9b 399px,#e4f498 402px,#ebf7a0 405px,#eaf79e 408px,#b3e0a2 411px,#d1ed9c 426px,#dff299 432px,#ddf19a 438px,#b3e0a2 450px,#94d4a4 456px,#8cd1a4 459px,#97d5a4 468px,#b8e2a1 477px,#d3ed9c 483px,#d3ed9c 486px,#a2d9a4 495px,#9cd7a4 498px,#b8e2a1 507px,#bae3a1 510px,#acdda4 513px,#66c2a5 519px,#58b2ac 522px,#5cb7aa 525px,#69c3a5 528px,#bce4a0 540px,#daf09a 546px,#daf09a 549px,#b5e1a2 558px,#b3e0a2 561px,#e8f69b 570px,#ebf7a0 573px,#e6f598 576px,#b3e0a2 582px,#a2d9a4 585px,#bce4a0 597px,#a4daa4 609px,#bae3a1 612px,#bfe5a0 624px,#aadca4 627px,#60bba8 633px,#54aead 636px,#62bda7 645px,#7ecca5 651px,#b5e1a2 657px,#bce4a0 660px,#b3e0a2 663px,#e1f399 672px,#e4f498 681px,#e4f498 687px,#c1e6a0 693px,#acdda4 696px,#a2d9a4 699px,#b8e2a1 708px,#acdda4 711px,#79c9a5 714px,#71c6a5 723px,#7ecca5 738px,#76c8a5 741px,#66c2a5 744px,#5cb7aa 750px,#62bda7 759px,#71c6a5 762px,#76c8a5 765px,#5cb7aa 771px,#56b0ad 777px,#64c0a6 786px,#5cb7aa 801px,#64c0a6 810px,#8cd1a4 813px,#a7dba4 816px,#bce4a0 822px,#bfe5a0 840px,#dff299 849px,#d3ed9c 858px,#caea9e 861px,#acdda4 864px,#9cd7a4 870px,#8cd1a4 879px,#60bba8 897px,#50a9af 903px,#358bbc 909px,#3387bc 912px,#4ea7b0 924px,#66c2a5 930px,#8cd1a4 936px,#91d3a4 939px,#8fd2a4 942px,#6ec5a5 954px,#66c2a5 963px,#66c2a5 969px)"></div><div style="height:3px;background:linear-gradient(90deg,#ab0f45 0px,#ab0f45 54px,#ef6645 57px,#f57748 60px,#f7814c 66px,#f7814c 81px,#f67a49 84px,#f26944 87px,#e3534a 93px,#e95c47 99px,#f47044 108px,#f7844e 117px,#f99153 120px,#fdb365 123px,#fed683 126px,#feeda1 129px,#fff5ae 132px,#fff6b0 150px,#fff6b0 156px,#fdfebb 159px,#e8f69b 165px,#d8ef9b 168px,#d8ef9b 171px,#e8f69b 174px,#fffebe 180px,#fedc88 189px,#fca85e 201px,#fa9b58 207px,#fba05b 219px,#fdb163 225px,#fee08b 240px,#fee491 246px,#fee491 255px,#feec9f 261px,#fed07e 288px,#fdc372 309px,#fdc776 321px,#fedc88 327px,#feefa3 333px,#ffffbe 351px,#fdfebb 357px,#fff7b2 360px,#fee593 363px,#feea9b 366px,#fff7b2 369px,#fdfebb 372px,#eaf79e 381px,#ddf19a 393px,#dff299 399px,#edf8a3 405px,#edf8a3 408px,#b8e2a1 411px,#e1f399 432px,#dff299 438px,#b5e1a2 450px,#91d3a4 456px,#89d0a4 459px,#99d6a4 468px,#bce4a0 477px,#d8ef9b 483px,#d8ef9b 486px,#a4daa4 495px,#9fd8a4 498px,#bae3a1 507px,#bce4a0 510px,#aedea3 513px,#6ec5a5 519px,#5eb9a9 522px,#62bda7 525px,#86cfa5 531px,#d6ee9b 543px,#e1f399 546px,#e1f399 549px,#bce4a0 558px,#b8e2a1 561px,#e9f69d 570px,#edf8a3 573px,#e8f69b 576px,#bfe5a0 582px,#b3e0a2 585px,#c1e6a0 597px,#b8e2a1 603px,#a7dba4 609px,#bce4a0 612px,#c3e79f 624px,#b1dfa3 627px,#6bc4a5 633px,#60bba8 636px,#6ec5a5 645px,#89d0a4 651px,#bae3a1 657px,#c1e6a0 660px,#b8e2a1 663px,#e4f498 672px,#e6f598 687px,#b1dfa3 696px,#a7dba4 699px,#bae3a1 708px,#aedea3 711px,#79c9a5 714px,#71c6a5 723px,#7ecca5 738px,#62bda7 747px,#66c2a5 759px,#74c7a5 762px,#79c9a5 765px,#5cb7aa 774px,#6ec5a5 789px,#64c0a6 801px,#6ec5a5 810px,#94d4a4 813px,#aedea3 816px,#c6e89f 822px,#caea9e 840px,#e6f598 849px,#daf09a 858px,#cfec9d 861px,#acdda4 864px,#9cd7a4 870px,#89d0a4 879px,#6bc4a5 891px,#60bba8 900px,#58b2ac 903px,#3990ba 909px,#358bbc 912px,#47a0b3 921px,#5cb7aa 927px,#84cea5 933px,#94d4a4 936px,#94d4a4 942px,#76c8a5 951px,#6bc4a5 963px,#6bc4a5 969px)"></div><div style="height:3px;background:linear-gradient(90deg,#ab0f45 0px,#ab0f45 54px,#ee6445 57px,#f57748 60px,#f7814c 69px,#f7814c 81px,#f67c4a 84px,#f36b43 87px,#e45549 93px,#ea5e47 99px,#f46d43 105px,#f57547 114px,#f88950 120px,#fdad60 123px,#fed481 126px,#feeda1 129px,#fff5ae 132px,#fff6b0 156px,#fefebd 159px,#e7f59a 165px,#d6ee9b 168px,#d6ee9b 171px,#e7f59a 174px,#fffdbc 180px,#feda86 189px,#fba35c 201px,#fa9857 207px,#fa9b58 222px,#fed884 240px,#fee18d 246px,#fee18d 255px,#feea9b 261px,#fdc171 294px,#fdc171 321px,#fdc776 324px,#fee491 330px,#feefa3 336px,#ffffbe 357px,#fff5ae 360px,#fee28f 363px,#fee695 366px,#fff6b0 369px,#fefebd 372px,#e9f69d 384px,#e4f498 396px,#f0f9a7 405px,#eff9a6 408px,#bce4a0 411px,#e4f498 432px,#e1f399 438px,#c6e89f 447px,#91d3a4 456px,#89d0a4 459px,#89d0a4 462px,#b1dfa3 474px,#daf09a 483px,#daf09a 486px,#a4daa4 495px,#9fd8a4 498px,#bfe5a0 510px,#b1dfa3 513px,#74c7a5 519px,#64c0a6 522px,#69c3a5 525px,#c6e89f 540px,#e4f498 546px,#e4f498 549px,#c1e6a0 558px,#bfe5a0 561px,#caea9e 564px,#dff299 567px,#ebf7a0 570px,#eef8a4 573px,#eaf79e 576px,#c8e99e 582px,#bce4a0 585px,#c3e79f 600px,#aadca4 609px,#bce4a0 612px,#c8e99e 621px,#c6e89f 624px,#b5e1a2 627px,#79c9a5 633px,#6ec5a5 636px,#74c7a5 642px,#84cea5 648px,#acdda4 654px,#c1e6a0 657px,#c6e89f 660px,#bce4a0 663px,#e4f498 672px,#e6f598 687px,#b3e0a2 696px,#aadca4 699px,#bce4a0 708px,#aedea3 711px,#79c9a5 714px,#71c6a5 723px,#7ccaa5 738px,#64c0a6 750px,#6ec5a5 759px,#7ccaa5 765px,#64c0a6 774px,#79c9a5 786px,#6ec5a5 801px,#79c9a5 810px,#9cd7a4 813px,#b5e1a2 816px,#cdeb9d 822px,#d1ed9c 831px,#d3ed9c 840px,#e6f598 846px,#e9f69d 852px,#dff299 858px,#d3ed9c 861px,#acdda4 864px,#71c6a5 888px,#66c2a5 900px,#5eb9a9 903px,#3f97b7 909px,#3990ba 915px,#60bba8 927px,#99d6a4 936px,#9cd7a4 939px,#76c8a5 954px,#6ec5a5 969px)"></div><div style="height:3px;background:linear-gradient(90deg,#ab0f45 0px,#ab0f45 54px,#ed6246 57px,#f57547 60px,#f7814c 66px,#f7814c 81px,#f67c4a 84px,#f36b43 87px,#e55749 93px,#eb6046 99px,#f46d43 105px,#f36b43 111px,#f7814c 120px,#fca55d 123px,#fed07e 126px,#feec9f 129px,#fff3ac 132px,#fff6b0 156px,#fdfebb 159px,#e6f598 165px,#d3ed9c 168px,#d3ed9c 171px,#e6f598 174px,#fffebe 180px,#feda86 189px,#fca55d 201px,#fa9857 207px,#fa9656 222px,#fec877 237px,#feda86 243px,#fedc88 255px,#fee999 261px,#fed07e 279px,#fdb96a 297px,#fdbb6c 321px,#fed07e 327px,#fee08b 330px,#fee797 333px,#fff2aa 348px,#fffdbc 357px,#fff3ac 360px,#fede89 363px,#fee491 366px,#fff5ae 369px,#fefebd 372px,#ecf7a1 384px,#ebf7a0 399px,#f4faad 405px,#f2faaa 408px,#c3e79f 411px,#e6f598 432px,#e4f498 438px,#caea9e 447px,#a7dba4 453px,#91d3a4 456px,#86cfa5 459px,#91d3a4 465px,#daf09a 483px,#daf09a 486px,#a4daa4 495px,#9fd8a4 498px,#bae3a1 507px,#bce4a0 510px,#b1dfa3 513px,#79c9a5 519px,#6bc4a5 522px,#6ec5a5 525px,#aadca4 534px,#daf09a 543px,#e4f498 546px,#e4f498 549px,#c6e89f 558px,#c3e79f 561px,#e1f399 567px,#eff9a6 573px,#dff299 579px,#cdeb9d 582px,#c3e79f 585px,#caea9e 600px,#acdda4 609px,#bfe5a0 612px,#caea9e 624px,#bae3a1 627px,#86cfa5 633px,#7ccaa5 636px,#86cfa5 645px,#9cd7a4 651px,#c6e89f 657px,#caea9e 660px,#c1e6a0 663px,#e4f498 672px,#e4f498 687px,#c6e89f 693px,#b1dfa3 696px,#aadca4 699px,#bce4a0 708px,#aedea3 711px,#79c9a5 714px,#71c6a5 723px,#7ccaa5 738px,#69c3a5 750px,#74c7a5 759px,#7ecca5 765px,#6bc4a5 774px,#84cea5 786px,#79c9a5 801px,#84cea5 810px,#a7dba4 813px,#caea9e 819px,#d6ee9b 825px,#daf09a 840px,#e9f69d 846px,#ebf7a0 852px,#e4f498 858px,#d6ee9b 861px,#acdda4 864px,#71c6a5 888px,#62bda7 903px,#439bb5 909px,#3b92b9 915px,#58b2ac 924px,#64c0a6 927px,#9fd8a4 936px,#a2d9a4 939px,#7ecca5 951px,#74c7a5 966px,#74c7a5 969px)"></div><div style="height:3px;background:linear-gradient(90deg,#ab0f45 0px,#ab0f45 54px,#eb6046 57px,#f67c4a 63px,#f7814c 75px,#f67c4a 84px,#f46d43 87px,#e85b48 93px,#f47044 105px,#ee6445 108px,#f46d43 117px,#f57748 120px,#fb9d59 123px,#fec877 126px,#fee797 129px,#fff0a6 132px,#fff2aa 153px,#fdfebb 159px,#e1f399 165px,#cfec9d 168px,#cfec9d 171px,#e4f498 174px,#fffebe 180px,#fedc88 189px,#fcaa5f 201px,#fa9656 210px,#f99355 222px,#fdb567 234px,#fed481 243px,#fed683 255px,#fee491 258px,#fee797 261px,#fdc574 282px,#fdb365 297px,#fdb96a 312px,#fdb567 321px,#fecc7b 327px,#fedc88 330px,#fee593 336px,#feea9b 348px,#fff7b2 354px,#fffab6 357px,#fff2aa 360px,#fed683 363px,#fede89 366px,#fffcba 372px,#f0f9a7 384px,#f0f9a7 399px,#f7fcb2 405px,#f6fbb0 408px,#c8e99e 411px,#e8f69b 432px,#e4f498 441px,#d1ed9c 447px,#aadca4 453px,#91d3a4 456px,#86cfa5 459px,#91d3a4 465px,#daf09a 483px,#d8ef9b 486px,#b5e1a2 492px,#a2d9a4 495px,#9cd7a4 498px,#b8e2a1 507px,#bae3a1 510px,#b1dfa3 513px,#7ecca5 519px,#71c6a5 522px,#76c8a5 525px,#bce4a0 537px,#daf09a 543px,#e4f498 549px,#caea9e 558px,#c8e99e 561px,#e6f598 567px,#f0f9a7 573px,#e4f498 579px,#caea9e 585px,#cfec9d 600px,#aedea3 609px,#c1e6a0 612px,#cfec9d 621px,#cdeb9d 624px,#c1e6a0 627px,#91d3a4 633px,#89d0a4 636px,#94d4a4 645px,#99d6a4 648px,#caea9e 657px,#cfec9d 660px,#c6e89f 663px,#e4f498 672px,#e1f399 687px,#d6ee9b 690px,#b1dfa3 696px,#a7dba4 699px,#b8e2a1 708px,#acdda4 711px,#79c9a5 714px,#6ec5a5 726px,#79c9a5 738px,#6ec5a5 750px,#81cda5 765px,#76c8a5 774px,#8cd1a4 786px,#86cfa5 804px,#8fd2a4 810px,#aedea3 813px,#c3e79f 816px,#ddf19a 825px,#e8f69b 843px,#eef8a4 849px,#e7f59a 858px,#d8ef9b 861px,#aedea3 864px,#9cd7a4 870px,#89d0a4 879px,#76c8a5 885px,#6ec5a5 900px,#66c2a5 903px,#49a2b2 909px,#3d95b8 915px,#50a9af 921px,#69c3a5 927px,#a4daa4 936px,#aadca4 939px,#7ecca5 954px,#7ccaa5 969px)"></div><div style="height:3px;background:linear-gradient(90deg,#ab0f45 0px,#ab0f45 54px,#ea5e47 57px,#f57245 60px,#f7814c 66px,#f7814c 81px,#f57245 87px,#eb6046 93px,#f57245 105px,#e85b48 108px,#f46d43 120px,#f99355 123px,#fdbf6f 126px,#fee18d 129px,#feea9b 132px,#fff1a8 153px,#fbfdb8 159px,#dff299 165px,#cdeb9d 168px,#cdeb9d 171px,#e1f399 174px,#ffffbe 180px,#fee08b 189px,#fdb163 201px,#f99153 213px,#f98e52 222px,#fdad60 234px,#fed07e 243px,#fed27f 255px,#fee18d 258px,#fee695 261px,#fdbf6f 282px,#fdad60 297px,#fdb768 312px,#fdaf62 321px,#fdc776 327px,#fee08b 333px,#fee18d 348px,#fff6b0 357px,#fff1a8 360px,#fed07e 363px,#fed683 366px,#feea9b 369px,#fffebe 375px,#f4faad 384px,#f9fcb5 402px,#f9fcb5 408px,#cfec9d 411px,#e8f69b 429px,#e7f59a 441px,#daf09a 447px,#aedea3 453px,#91d3a4 456px,#84cea5 459px,#86cfa5 462px,#bae3a1 474px,#d8ef9b 483px,#d8ef9b 486px,#9fd8a4 495px,#99d6a4 498px,#b5e1a2 510px,#acdda4 513px,#84cea5 519px,#79c9a5 522px,#7ecca5 525px,#b5e1a2 534px,#dff299 546px,#d6ee9b 555px,#cfec9d 561px,#e8f69b 567px,#f1f9a9 573px,#e7f59a 579px,#cfec9d 585px,#d3ed9c 600px,#b8e2a1 606px,#b1dfa3 609px,#c1e6a0 612px,#d1ed9c 621px,#d1ed9c 624px,#b3e0a2 630px,#9fd8a4 633px,#97d5a4 636px,#9fd8a4 645px,#aedea3 651px,#cfec9d 657px,#d3ed9c 660px,#caea9e 663px,#e4f498 672px,#e1f399 684px,#d1ed9c 690px,#acdda4 696px,#a4daa4 699px,#b3e0a2 708px,#a7dba4 711px,#74c7a5 714px,#6bc4a5 723px,#79c9a5 738px,#74c7a5 753px,#86cfa5 765px,#7ecca5 774px,#97d5a4 786px,#97d5a4 807px,#9cd7a4 810px,#b8e2a1 813px,#d6ee9b 819px,#e6f598 831px,#eff9a6 852px,#e8f69b 858px,#ddf19a 861px,#b3e0a2 864px,#79c9a5 885px,#74c7a5 894px,#74c7a5 900px,#6bc4a5 903px,#459eb4 912px,#4199b6 915px,#52abae 921px,#6ec5a5 927px,#aadca4 936px,#aedea3 939px,#86cfa5 951px,#81cda5 969px)"></div><div style="height:3px;background:linear-gradient(90deg,#ab0f45 0px,#ab0f45 54px,#e95c47 57px,#f47044 60px,#f7814c 66px,#f67f4b 84px,#f36b43 90px,#f36b43 99px,#f57547 105px,#e3534a 108px,#ea5e47 117px,#ef6645 120px,#f8864f 123px,#fdb567 126px,#fed481 129px,#fee28f 132px,#feec9f 150px,#fafdb7 159px,#edf8a3 162px,#daf09a 165px,#caea9e 168px,#caea9e 171px,#dff299 174px,#fdfebb 180px,#fed683 192px,#fba05b 207px,#f88c51 216px,#f98e52 225px,#fba35c 234px,#feca79 243px,#fecc7b 255px,#fee08b 258px,#fee593 261px,#fdb96a 282px,#fca55d 294px,#fdb567 312px,#fcaa5f 321px,#fdc372 327px,#fed884 333px,#fece7c 345px,#fed27f 348px,#feec9f 354px,#fff1a8 357px,#fff0a6 360px,#fec877 363px,#fecc7b 366px,#fee28f 369px,#ffffbe 378px,#f7fcb2 384px,#fffebe 405px,#fdfebb 408px,#d6ee9b 411px,#e9f69d 426px,#ebf7a0 438px,#e4f498 447px,#d1ed9c 450px,#94d4a4 456px,#81cda5 459px,#86cfa5 462px,#b3e0a2 471px,#d1ed9c 480px,#d6ee9b 486px,#9cd7a4 495px,#97d5a4 498px,#aedea3 510px,#a7dba4 513px,#7ecca5 522px,#84cea5 525px,#bae3a1 534px,#d8ef9b 543px,#daf09a 552px,#d6ee9b 561px,#eaf79e 567px,#f2faaa 573px,#e8f69b 579px,#d3ed9c 585px,#d8ef9b 600px,#bae3a1 606px,#b3e0a2 609px,#c3e79f 612px,#d6ee9b 621px,#d6ee9b 624px,#acdda4 633px,#a4daa4 639px,#aedea3 648px,#d3ed9c 657px,#d8ef9b 660px,#cfec9d 663px,#e6f598 675px,#d8ef9b 687px,#aadca4 696px,#a2d9a4 699px,#aedea3 708px,#9fd8a4 711px,#71c6a5 714px,#69c3a5 723px,#71c6a5 732px,#76c8a5 741px,#79c9a5 753px,#8cd1a4 765px,#8cd1a4 777px,#9fd8a4 786px,#a2d9a4 804px,#acdda4 810px,#cfec9d 816px,#e6f598 825px,#f1f9a9 852px,#eaf79e 858px,#dff299 861px,#b8e2a1 864px,#99d6a4 873px,#79c9a5 885px,#76c8a5 900px,#71c6a5 903px,#4ba4b1 912px,#459eb4 915px,#62bda7 924px,#86cfa5 930px,#9fd8a4 933px,#aedea3 936px,#b3e0a2 939px,#9fd8a4 945px,#91d3a4 948px,#86cfa5 963px,#86cfa5 969px)"></div><div style="height:3px;background:linear-gradient(90deg,#ab0f45 0px,#ab0f45 54px,#e85b48 57px,#f47044 60px,#f7814c 66px,#f67f4b 84px,#f46d43 93px,#f67a49 105px,#dc484c 108px,#e55749 117px,#eb6046 120px,#f67a49 123px,#fca85e 126px,#fdc776 129px,#fed683 132px,#fee695 147px,#feefa3 153px,#fff7b2 156px,#f8fcb4 159px,#ecf7a1 162px,#d8ef9b 165px,#c6e89f 168px,#c8e99e 171px,#daf09a 174px,#eff9a6 177px,#fcfeba 180px,#feefa3 186px,#fed07e 195px,#fdb567 204px,#f99355 210px,#f8864f 222px,#fa9857 234px,#fdc574 243px,#fec877 255px,#fedc88 258px,#fee491 261px,#fed683 267px,#fba05b 291px,#fba05b 300px,#fdb365 309px,#fca55d 321px,#fdad60 324px,#feca79 330px,#fed27f 333px,#fdbf6f 345px,#fdc372 348px,#fee593 354px,#feeda1 357px,#feefa3 360px,#fdc372 363px,#fdc574 366px,#feefa3 375px,#fffab6 378px,#fefebd 381px,#fdfebb 387px,#fffcba 393px,#fffab6 405px,#fffdbc 408px,#ddf19a 411px,#ecf7a1 429px,#eaf79e 444px,#e8f69b 447px,#d8ef9b 450px,#94d4a4 456px,#81cda5 459px,#86cfa5 462px,#b5e1a2 471px,#d3ed9c 483px,#d3ed9c 486px,#acdda4 492px,#97d5a4 495px,#91d3a4 498px,#a7dba4 510px,#86cfa5 522px,#8cd1a4 525px,#c1e6a0 534px,#d8ef9b 546px,#ddf19a 561px,#e6f598 564px,#f3faac 573px,#eaf79e 579px,#d6ee9b 585px,#ddf19a 600px,#bce4a0 606px,#b5e1a2 609px,#d3ed9c 618px,#d8ef9b 624px,#c3e79f 630px,#b5e1a2 633px,#b3e0a2 642px,#bfe5a0 651px,#d8ef9b 657px,#ddf19a 660px,#d1ed9c 663px,#e6f598 675px,#d3ed9c 687px,#a4daa4 696px,#9cd7a4 699px,#a7dba4 708px,#99d6a4 711px,#6ec5a5 714px,#64c0a6 726px,#76c8a5 738px,#7ecca5 753px,#91d3a4 765px,#97d5a4 777px,#aadca4 789px,#b8e2a1 810px,#dff299 819px,#ebf7a0 831px,#f3faac 852px,#e1f399 861px,#bfe5a0 864px,#a2d9a4 870px,#7ccaa5 885px,#7ccaa5 900px,#76c8a5 903px,#69c3a5 906px,#50a9af 912px,#49a2b2 915px,#66c2a5 924px,#74c7a5 927px,#b3e0a2 936px,#b8e2a1 939px,#a4daa4 945px,#8fd2a4 951px,#8fd2a4 969px)"></div><div style="height:3px;background:linear-gradient(90deg,#ab0f45 0px,#ab0f45 54px,#e75948 57px,#f46d43 60px,#f7814c 66px,#f7814c 84px,#f57547 96px,#f67c4a 105px,#d7414e 108px,#e1504b 117px,#e85b48 120px,#f47044 123px,#fa9857 126px,#fdb96a 129px,#fed07e 135px,#fee797 150px,#fff7b2 156px,#f7fcb2 159px,#eaf79e 162px,#c3e79f 168px,#c6e89f 171px,#d8ef9b 174px,#edf8a3 177px,#fbfdb8 180px,#fffab6 183px,#fed683 195px,#fdbb6c 204px,#f99355 210px,#f7844e 219px,#f99153 234px,#fdb567 240px,#fdc574 246px,#fdc574 255px,#feda86 258px,#fee28f 261px,#fdaf62 282px,#fa9656 294px,#fb9d59 303px,#fdb163 309px,#fcaa5f 315px,#fba05b 321px,#fdb768 327px,#fdc776 330px,#feca79 336px,#fdb365 345px,#fdb768 348px,#fede89 354px,#feeda1 360px,#fdbd6d 363px,#fdbd6d 366px,#fee695 375px,#fffcba 381px,#fffdbc 387px,#fff2aa 396px,#fff3ac 405px,#fffab6 408px,#e1f399 411px,#eff9a6 438px,#ecf7a1 447px,#e1f399 450px,#94d4a4 456px,#7ecca5 459px,#84cea5 462px,#b8e2a1 471px,#d1ed9c 483px,#cfec9d 486px,#94d4a4 495px,#8fd2a4 498px,#9fd8a4 510px,#8cd1a4 522px,#91d3a4 525px,#c6e89f 534px,#e4f498 561px,#f4faad 573px,#e1f399 582px,#daf09a 588px,#e4f498 597px,#e1f399 600px,#c1e6a0 606px,#b8e2a1 609px,#d6ee9b 618px,#ddf19a 624px,#bfe5a0 633px,#c1e6a0 648px,#d1ed9c 654px,#ddf19a 657px,#dff299 660px,#d6ee9b 663px,#e6f598 675px,#cfec9d 687px,#9fd8a4 696px,#99d6a4 702px,#9fd8a4 708px,#91d3a4 711px,#69c3a5 714px,#62bda7 726px,#7ccaa5 747px,#99d6a4 768px,#bae3a1 801px,#c3e79f 810px,#e4f498 819px,#f5fbaf 849px,#ecf7a1 858px,#e4f498 861px,#c3e79f 864px,#99d6a4 873px,#81cda5 885px,#7ecca5 900px,#6ec5a5 906px,#56b0ad 912px,#50a9af 915px,#5cb7aa 921px,#79c9a5 927px,#a7dba4 933px,#b8e2a1 936px,#bce4a0 939px,#a7dba4 945px,#99d6a4 948px,#94d4a4 957px,#94d4a4 969px)"></div><div style="height:3px;background:linear-gradient(90deg,#ab0f45 0px,#ab0f45 54px,#e75948 57px,#f46d43 60px,#f7814c 66px,#f67f4b 105px,#cd364d 108px,#dd4a4c 117px,#e45549 120px,#f26944 123px,#fdad60 129px,#fdbd6d 132px,#fee593 150px,#fff8b4 156px,#f5fbaf 159px,#e9f69d 162px,#c1e6a0 168px,#c3e79f 171px,#d8ef9b 174px,#edf8a3 177px,#fafdb7 180px,#fffbb8 183px,#feda86 195px,#fdbf6f 204px,#f99355 210px,#f7844e 219px,#f88950 234px,#fdbd6d 243px,#fdc171 255px,#fed884 258px,#fee18d 261px,#fca85e 282px,#f98e52 294px,#f99153 300px,#fba05b 306px,#fdaf62 309px,#fca85e 315px,#fa9b58 321px,#fec877 333px,#fdb96a 339px,#fca55d 345px,#fcaa5f 348px,#fee593 357px,#feec9f 360px,#fdb768 363px,#fdb567 366px,#fecc7b 372px,#feec9f 378px,#fff7b2 381px,#fffcba 384px,#feea9b 396px,#feefa3 405px,#fff6b0 408px,#e7f59a 411px,#f1f9a9 438px,#eff9a6 447px,#e6f598 450px,#97d5a4 456px,#7ecca5 459px,#84cea5 462px,#acdda4 468px,#c1e6a0 474px,#cfec9d 483px,#cdeb9d 486px,#91d3a4 495px,#8cd1a4 498px,#99d6a4 510px,#8fd2a4 522px,#97d5a4 525px,#caea9e 534px,#d6ee9b 552px,#e7f59a 561px,#f5fbaf 573px,#e6f598 582px,#dff299 588px,#e6f598 600px,#c3e79f 606px,#bae3a1 609px,#dff299 621px,#daf09a 627px,#c8e99e 633px,#c8e99e 648px,#e4f498 660px,#d8ef9b 663px,#e6f598 675px,#caea9e 687px,#9cd7a4 696px,#97d5a4 705px,#99d6a4 708px,#8cd1a4 711px,#66c2a5 714px,#60bba8 726px,#8cd1a4 756px,#a7dba4 771px,#cdeb9d 810px,#e7f59a 819px,#f5fbaf 843px,#f2faaa 855px,#e6f598 861px,#caea9e 864px,#99d6a4 873px,#84cea5 885px,#7ecca5 903px,#5cb7aa 912px,#54aead 915px,#60bba8 921px,#7ccaa5 927px,#acdda4 933px,#bce4a0 936px,#c1e6a0 939px,#acdda4 945px,#97d5a4 951px,#99d6a4 969px)"></div><div style="height:3px;background:linear-gradient(90deg,#ab0f45 0px,#ab0f45 54px,#e45549 57px,#f36b43 60px,#f67f4b 66px,#f7814c 105px,#c72e4c 108px,#d23a4e 114px,#e2514a 120px,#ef6645 123px,#fba35c 129px,#fdbd6d 135px,#fee491 150px,#fff8b4 156px,#f5fbaf 159px,#e8f69b 162px,#c1e6a0 168px,#c1e6a0 171px,#d6ee9b 174px,#ecf7a1 177px,#f9fcb5 180px,#fffcba 183px,#fede89 195px,#fdc574 204px,#f99355 210px,#f7814c 219px,#f8864f 234px,#fdbb6c 243px,#fdbf6f 255px,#fed683 258px,#fee08b 261px,#fba05b 282px,#f88950 294px,#f99153 303px,#fdad60 309px,#fca55d 315px,#fa9857 321px,#fba05b 324px,#fdbd6d 330px,#fdc372 333px,#fdb365 339px,#fa9b58 345px,#fba05b 348px,#fee28f 357px,#feeb9d 360px,#fdb365 363px,#fdb163 366px,#fdc574 372px,#fee999 378px,#fff3ac 381px,#fff7b2 384px,#fff5ae 387px,#fee491 396px,#feea9b 405px,#fff2aa 408px,#e9f69d 411px,#f2faaa 438px,#f1f9a9 447px,#e9f69d 450px,#97d5a4 456px,#7ccaa5 459px,#84cea5 462px,#bce4a0 471px,#caea9e 483px,#caea9e 486px,#8fd2a4 495px,#89d0a4 498px,#94d4a4 510px,#91d3a4 522px,#99d6a4 525px,#cfec9d 534px,#cdeb9d 549px,#e6f598 558px,#f6fbb0 573px,#e7f59a 582px,#e4f498 588px,#e7f59a 600px,#c6e89f 606px,#bce4a0 609px,#e1f399 621px,#dff299 627px,#cdeb9d 636px,#d1ed9c 651px,#e4f498 660px,#daf09a 663px,#e6f598 675px,#c8e99e 687px,#99d6a4 696px,#94d4a4 705px,#94d4a4 708px,#89d0a4 711px,#64c0a6 714px,#5eb9a9 726px,#81cda5 747px,#b1dfa3 771px,#d6ee9b 810px,#e6f598 816px,#f6fbb0 840px,#f6fbb0 852px,#e6f598 861px,#99d6a4 873px,#89d0a4 882px,#81cda5 903px,#60bba8 912px,#58b2ac 915px,#64c0a6 921px,#7ecca5 927px,#c1e6a0 936px,#c6e89f 939px,#a2d9a4 948px,#9cd7a4 957px,#9cd7a4 969px)"></div><div style="height:3px;background:linear-gradient(90deg,#ab0f45 0px,#ab0f45 54px,#e3534a 57px,#f26944 60px,#f67f4b 66px,#f7814c 105px,#c1274a 108px,#d0384e 114px,#ee6445 123px,#fa9b58 129px,#fdaf62 132px,#fee28f 150px,#feeb9d 153px,#fff8b4 156px,#f4faad 159px,#e7f59a 162px,#cfec9d 165px,#c1e6a0 168px,#c1e6a0 171px,#d6ee9b 174px,#ecf7a1 177px,#f9fcb5 180px,#fffcba 183px,#fede89 195px,#fdc776 204px,#fdb163 207px,#f99355 210px,#f7844e 216px,#f7844e 234px,#fdad60 240px,#fdbb6c 243px,#fdbf6f 255px,#fed481 258px,#fede89 261px,#fba35c 279px,#f7814c 294px,#f88c51 303px,#fa9656 306px,#fcaa5f 309px,#fba35c 315px,#fa9857 321px,#fdbf6f 333px,#fdb163 339px,#fa9857 345px,#fb9d59 348px,#fdb365 351px,#fee08b 357px,#feea9b 360px,#fdb365 363px,#fdb768 369px,#fed27f 375px,#fff0a6 381px,#fff5ae 384px,#fee08b 396px,#fee695 405px,#feefa3 408px,#eaf79e 411px,#f3faac 438px,#f3faac 447px,#eaf79e 450px,#c6e89f 453px,#97d5a4 456px,#7ccaa5 459px,#84cea5 462px,#aedea3 468px,#bce4a0 471px,#c8e99e 483px,#c6e89f 486px,#b8e2a1 489px,#8fd2a4 495px,#89d0a4 501px,#94d4a4 513px,#94d4a4 522px,#9cd7a4 525px,#d1ed9c 534px,#c8e99e 549px,#e7f59a 558px,#f7fcb2 573px,#e6f598 585px,#e8f69b 600px,#c8e99e 606px,#bfe5a0 609px,#e4f498 621px,#e1f399 627px,#d1ed9c 636px,#d6ee9b 651px,#e6f598 660px,#ddf19a 663px,#e6f598 675px,#c6e89f 687px,#99d6a4 696px,#94d4a4 705px,#94d4a4 708px,#86cfa5 711px,#64c0a6 714px,#5eb9a9 726px,#8fd2a4 753px,#bae3a1 771px,#daf09a 810px,#e8f69b 816px,#f7fcb2 837px,#f6fbb0 852px,#e6f598 861px,#9cd7a4 873px,#91d3a4 876px,#89d0a4 891px,#86cfa5 903px,#64c0a6 912px,#5eb9a9 915px,#69c3a5 921px,#84cea5 927px,#b3e0a2 933px,#c3e79f 936px,#c8e99e 939px,#b3e0a2 945px,#9fd8a4 951px,#9fd8a4 969px)"></div><div style="height:3px;background:linear-gradient(90deg,#ab0f45 0px,#ab0f45 54px,#e2514a 57px,#f06744 60px,#f57748 63px,#f7814c 69px,#f7814c 105px,#be254a 108px,#cd364d 114px,#ee6445 123px,#f67c4a 126px,#fa9857 129px,#fdb567 135px,#fed683 147px,#feeb9d 153px,#fff8b4 156px,#f5fbaf 159px,#e8f69b 162px,#c1e6a0 168px,#c3e79f 171px,#d6ee9b 174px,#ecf7a1 177px,#f9fcb5 180px,#fffcba 183px,#fede89 195px,#fec877 204px,#fdb365 207px,#f99355 210px,#f7844e 216px,#f7844e 231px,#f8864f 234px,#fdbb6c 243px,#fdbf6f 255px,#fed27f 258px,#fedc88 261px,#fca85e 276px,#f7844e 288px,#f67c4a 297px,#f99153 306px,#fca85e 309px,#fba35c 315px,#fa9857 321px,#fcaa5f 327px,#fdb96a 333px,#fdb768 336px,#fa9857 345px,#fb9d59 348px,#fdb163 351px,#fedc88 357px,#fee999 360px,#fdb365 363px,#fdb163 366px,#fdc171 372px,#fee491 378px,#feeda1 381px,#fff1a8 384px,#feefa3 387px,#fee08b 393px,#feda86 399px,#fee28f 405px,#feec9f 408px,#ecf7a1 411px,#f3faac 444px,#f3faac 447px,#eaf79e 450px,#c6e89f 453px,#97d5a4 456px,#7ccaa5 459px,#84cea5 462px,#aedea3 468px,#bce4a0 471px,#c3e79f 486px,#b5e1a2 489px,#8fd2a4 495px,#89d0a4 498px,#94d4a4 516px,#94d4a4 522px,#9cd7a4 525px,#c6e89f 531px,#d3ed9c 534px,#c6e89f 549px,#e8f69b 558px,#f8fcb4 573px,#e8f69b 585px,#eaf79e 600px,#caea9e 606px,#c1e6a0 609px,#e6f598 621px,#e6f598 627px,#d6ee9b 639px,#d8ef9b 651px,#e6f598 660px,#ddf19a 663px,#e6f598 675px,#c6e89f 687px,#99d6a4 696px,#94d4a4 705px,#94d4a4 708px,#86cfa5 711px,#64c0a6 714px,#5eb9a9 726px,#9fd8a4 759px,#c6e89f 771px,#dff299 810px,#ecf7a1 819px,#f8fcb4 840px,#f6fbb0 852px,#e6f598 861px,#b1dfa3 870px,#9cd7a4 873px,#8cd1a4 882px,#89d0a4 903px,#62bda7 915px,#64c0a6 918px,#86cfa5 927px,#b5e1a2 933px,#c6e89f 936px,#caea9e 939px,#aadca4 948px,#a2d9a4 957px,#a2d9a4 969px)"></div><div style="height:3px;background:linear-gradient(90deg,#ab0f45 0px,#ab0f45 54px,#e1504b 57px,#f06744 60px,#f57748 63px,#f7844e 69px,#f7814c 105px,#bc2249 108px,#c1274a 111px,#e2514a 120px,#ee6445 123px,#fa9656 129px,#fdb365 135px,#fed481 147px,#feeb9d 153px,#fff8b4 156px,#f6fbb0 159px,#e9f69d 162px,#c6e89f 168px,#c6e89f 171px,#d8ef9b 174px,#edf8a3 177px,#f9fcb5 180px,#fffcba 183px,#fede89 195px,#feca79 204px,#fdb567 207px,#fa9656 210px,#f8864f 216px,#f8864f 234px,#fdbb6c 243px,#fdbf6f 255px,#fed07e 258px,#fed884 261px,#fa9656 279px,#f67a49 291px,#f67a49 300px,#f88c51 306px,#fca55d 309px,#fca85e 312px,#fa9857 321px,#fdb567 333px,#fcaa5f 339px,#fa9857 345px,#fb9d59 348px,#fdc776 354px,#fee999 360px,#fdb365 363px,#fdb163 366px,#fdc171 372px,#fee28f 378px,#feeb9d 381px,#feefa3 384px,#fed481 396px,#fee08b 405px,#feea9b 408px,#edf8a3 411px,#f4faad 444px,#f4faad 447px,#ebf7a0 450px,#c6e89f 453px,#97d5a4 456px,#7ecca5 459px,#84cea5 462px,#aedea3 468px,#bce4a0 471px,#bfe5a0 486px,#8fd2a4 495px,#89d0a4 498px,#94d4a4 516px,#94d4a4 522px,#9cd7a4 525px,#c8e99e 531px,#d6ee9b 534px,#d1ed9c 540px,#c3e79f 546px,#c3e79f 549px,#e9f69d 558px,#f9fcb5 573px,#eaf79e 585px,#ebf7a0 600px,#e1f399 603px,#cdeb9d 606px,#c3e79f 609px,#e7f59a 621px,#dff299 633px,#daf09a 651px,#e6f598 660px,#dff299 663px,#e6f598 675px,#c6e89f 687px,#99d6a4 696px,#94d4a4 705px,#94d4a4 708px,#86cfa5 711px,#64c0a6 714px,#5eb9a9 726px,#81cda5 744px,#a2d9a4 759px,#caea9e 768px,#d8ef9b 777px,#e4f498 810px,#fafdb7 837px,#f6fbb0 852px,#e6f598 861px,#ddf19a 864px,#9cd7a4 873px,#8fd2a4 882px,#8cd1a4 903px,#66c2a5 915px,#71c6a5 921px,#89d0a4 927px,#b8e2a1 933px,#c8e99e 936px,#cdeb9d 939px,#a7dba4 951px,#a2d9a4 969px)"></div><div style="height:3px;background:linear-gradient(90deg,#ab0f45 0px,#ab0f45 54px,#df4e4b 57px,#ef6645 60px,#f7814c 66px,#f7814c 105px,#b81e48 108px,#cb334d 114px,#ee6445 123px,#f67a49 126px,#fca55d 132px,#fdc776 144px,#fee08b 150px,#fff8b4 156px,#f7fcb2 159px,#ebf7a0 162px,#daf09a 165px,#caea9e 168px,#caea9e 171px,#ddf19a 174px,#fafdb7 180px,#fffbb8 183px,#fede89 195px,#fecc7b 204px,#fdb768 207px,#fa9656 210px,#f8864f 219px,#f88c51 234px,#fdbd6d 243px,#fdbf6f 255px,#fed683 261px,#fa9b58 276px,#f7844e 282px,#f57245 294px,#f57547 300px,#f8864f 306px,#fba35c 309px,#fba05b 315px,#fa9857 321px,#fdaf62 330px,#fdaf62 336px,#fa9857 345px,#fb9d59 348px,#fdaf62 351px,#fee797 360px,#fdb365 363px,#fdb163 366px,#fdc171 372px,#fee08b 378px,#fee999 381px,#feec9f 384px,#fed07e 396px,#feda86 405px,#fee797 408px,#eef8a4 411px,#f5fbaf 447px,#ecf7a1 450px,#c8e99e 453px,#99d6a4 456px,#7ecca5 459px,#84cea5 462px,#aedea3 468px,#bce4a0 471px,#bae3a1 486px,#8fd2a4 495px,#91d3a4 504px,#94d4a4 522px,#9cd7a4 525px,#caea9e 531px,#d8ef9b 534px,#d1ed9c 540px,#bfe5a0 546px,#c1e6a0 549px,#ddf19a 555px,#eaf79e 558px,#fafdb7 573px,#ecf7a1 585px,#ecf7a1 600px,#e4f498 603px,#d1ed9c 606px,#c8e99e 609px,#e8f69b 621px,#ddf19a 651px,#e6f598 660px,#e4f498 669px,#e1f399 678px,#bae3a1 690px,#9cd7a4 696px,#94d4a4 705px,#94d4a4 708px,#86cfa5 711px,#64c0a6 714px,#60bba8 726px,#84cea5 744px,#a7dba4 759px,#d6ee9b 768px,#e4f498 774px,#e7f59a 810px,#fbfdb8 837px,#f5fbaf 852px,#e6f598 861px,#d1ed9c 867px,#9fd8a4 873px,#94d4a4 876px,#8fd2a4 891px,#8fd2a4 903px,#6bc4a5 915px,#76c8a5 921px,#8fd2a4 927px,#caea9e 936px,#d1ed9c 939px,#aadca4 951px,#a4daa4 969px)"></div><div style="height:3px;background:linear-gradient(90deg,#ab0f45 0px,#ab0f45 54px,#de4c4b 57px,#ee6445 60px,#f7814c 66px,#f7814c 105px,#b61b48 108px,#bc2249 111px,#e3534a 120px,#f67a49 126px,#fba35c 132px,#fdc574 144px,#fee08b 150px,#fff7b2 156px,#f9fcb5 159px,#e1f399 165px,#d1ed9c 168px,#d1ed9c 171px,#e4f498 174px,#fbfdb8 180px,#fffbb8 183px,#fede89 195px,#fece7c 204px,#fdb96a 207px,#fa9857 210px,#f88c51 216px,#f88c51 231px,#fb9d59 237px,#fdbd6d 243px,#fdbf6f 255px,#fed27f 261px,#fa9656 276px,#f67c4a 282px,#f46d43 294px,#f47044 300px,#f7814c 306px,#fba05b 309px,#fb9d59 315px,#fa9857 321px,#fdad60 333px,#fa9b58 345px,#fb9d59 348px,#fdc372 354px,#fee695 360px,#fdb365 363px,#fdb163 366px,#fece7c 375px,#fee797 381px,#feea9b 384px,#fede89 390px,#fecc7b 396px,#fed683 405px,#fee593 408px,#eff9a6 411px,#f5fbaf 447px,#ecf7a1 450px,#c8e99e 453px,#99d6a4 456px,#7ecca5 459px,#86cfa5 462px,#aedea3 468px,#bae3a1 471px,#b3e0a2 486px,#91d3a4 495px,#94d4a4 522px,#9cd7a4 525px,#cdeb9d 531px,#daf09a 534px,#daf09a 537px,#bce4a0 546px,#bce4a0 549px,#dff299 555px,#f0f9a7 561px,#fbfdb8 573px,#edf8a3 585px,#edf8a3 600px,#e6f598 603px,#d3ed9c 606px,#caea9e 609px,#e4f498 618px,#e9f69d 627px,#dff299 651px,#e6f598 660px,#e4f498 669px,#e1f399 678px,#bae3a1 690px,#97d5a4 699px,#94d4a4 708px,#86cfa5 711px,#66c2a5 714px,#60bba8 726px,#7ecca5 741px,#aadca4 759px,#e1f399 768px,#ebf7a0 774px,#e8f69b 807px,#fcfeba 837px,#f5fbaf 852px,#e6f598 861px,#e4f498 864px,#d8ef9b 867px,#a2d9a4 873px,#97d5a4 876px,#91d3a4 894px,#91d3a4 903px,#71c6a5 915px,#7ccaa5 921px,#91d3a4 927px,#cfec9d 936px,#d3ed9c 939px,#aedea3 951px,#a7dba4 963px,#a7dba4 969px)"></div><div style="height:3px;background:linear-gradient(90deg,#ab0f45 0px,#ab0f45 54px,#dc484c 57px,#ed6246 60px,#f7814c 66px,#f7844e 72px,#f7814c 105px,#b41947 108px,#ba2049 111px,#d9444d 117px,#ee6445 123px,#f57748 126px,#fba05b 132px,#fdc372 144px,#fee08b 150px,#fff7b2 156px,#fcfeba 159px,#e7f59a 165px,#daf09a 168px,#daf09a 171px,#e8f69b 174px,#fcfeba 180px,#fffab6 183px,#fee28f 192px,#fece7c 204px,#fdbb6c 207px,#fa9b58 210px,#f98e52 222px,#fa9656 234px,#fdbf6f 243px,#fdbf6f 255px,#fece7c 261px,#fba05b 273px,#f7814c 279px,#f46d43 288px,#f46d43 300px,#f67f4b 306px,#fb9d59 309px,#fb9d59 315px,#fa9857 321px,#fcaa5f 333px,#fa9b58 345px,#fba05b 348px,#fdc171 354px,#fee593 360px,#fdb567 363px,#fdb96a 369px,#fedc88 378px,#fee797 384px,#feda86 390px,#fec877 396px,#fed27f 405px,#fee28f 408px,#f0f9a7 411px,#f6fbb0 447px,#edf8a3 450px,#caea9e 453px,#9cd7a4 456px,#81cda5 459px,#86cfa5 462px,#acdda4 468px,#b8e2a1 471px,#b1dfa3 483px,#91d3a4 498px,#97d5a4 516px,#94d4a4 522px,#9cd7a4 525px,#cfec9d 531px,#ddf19a 534px,#ddf19a 537px,#bae3a1 546px,#bae3a1 549px,#c8e99e 552px,#dff299 555px,#f1f9a9 561px,#fcfeba 573px,#eff9a6 585px,#eef8a4 600px,#e7f59a 603px,#cdeb9d 609px,#e6f598 618px,#ebf7a0 624px,#e1f399 651px,#e6f598 675px,#c8e99e 687px,#99d6a4 699px,#94d4a4 708px,#86cfa5 711px,#66c2a5 714px,#62bda7 726px,#89d0a4 744px,#acdda4 759px,#ddf19a 765px,#eff9a6 771px,#eef8a4 783px,#eaf79e 807px,#fdfebb 840px,#f5fbaf 852px,#e8f69b 858px,#e7f59a 864px,#ddf19a 867px,#a2d9a4 873px,#97d5a4 876px,#94d4a4 903px,#76c8a5 915px,#89d0a4 924px,#94d4a4 927px,#cfec9d 936px,#d6ee9b 939px,#b1dfa3 951px,#a7dba4 966px,#a7dba4 969px)"></div><div style="height:3px;background:linear-gradient(90deg,#ab0f45 0px,#ab0f45 54px,#da464d 57px,#ed6246 60px,#f7844e 66px,#f7814c 105px,#b11747 108px,#ba2049 111px,#da464d 117px,#ef6645 123px,#fb9d59 132px,#fdc171 144px,#fee08b 150px,#fff7b2 156px,#ffffbe 159px,#ebf7a0 165px,#e4f498 171px,#f4faad 177px,#fdfebb 180px,#fee999 189px,#feda86 195px,#fed07e 204px,#fdbd6d 207px,#fba05b 210px,#fa9656 216px,#fb9d59 234px,#fdc171 243px,#fdbf6f 255px,#feca79 261px,#fca85e 270px,#f47044 282px,#ef6645 297px,#f67a49 306px,#fa9b58 309px,#fa9b58 324px,#fca55d 333px,#fba05b 348px,#fdc171 354px,#fee491 360px,#fdb567 363px,#fdb96a 369px,#fee28f 381px,#fee593 384px,#fed683 390px,#fdc574 396px,#fed07e 405px,#fee18d 408px,#f1f9a9 411px,#f6fbb0 447px,#edf8a3 450px,#caea9e 453px,#9cd7a4 456px,#81cda5 459px,#86cfa5 462px,#acdda4 468px,#b5e1a2 471px,#aadca4 483px,#97d5a4 498px,#97d5a4 516px,#94d4a4 522px,#9cd7a4 525px,#cfec9d 531px,#dff299 534px,#dff299 537px,#b8e2a1 546px,#b8e2a1 549px,#c6e89f 552px,#dff299 555px,#f2faaa 561px,#fcfeba 573px,#f1f9a9 588px,#eff9a6 600px,#e8f69b 603px,#d8ef9b 606px,#d1ed9c 609px,#daf09a 615px,#e6f598 618px,#ecf7a1 624px,#e4f498 654px,#e6f598 675px,#c8e99e 687px,#9cd7a4 699px,#97d5a4 708px,#86cfa5 711px,#69c3a5 714px,#64c0a6 726px,#aedea3 759px,#e7f59a 765px,#f5fbaf 771px,#f7fcb2 777px,#ebf7a0 801px,#f2faaa 819px,#fefebd 840px,#f4faad 852px,#e8f69b 858px,#e4f498 861px,#e8f69b 864px,#dff299 867px,#a4daa4 873px,#99d6a4 876px,#97d5a4 903px,#7ecca5 915px,#8fd2a4 924px,#97d5a4 927px,#d1ed9c 936px,#d6ee9b 939px,#bce4a0 948px,#acdda4 957px,#aadca4 969px)"></div><div style="height:3px;background:linear-gradient(90deg,#ab0f45 0px,#ab0f45 54px,#d9444d 57px,#eb6046 60px,#f7844e 66px,#f8864f 72px,#f7814c 105px,#b11747 108px,#b81e48 111px,#dc484c 117px,#f06744 123px,#fa9b58 132px,#fdbf6f 144px,#feeda1 153px,#fffcba 159px,#fafdb7 162px,#eaf79e 168px,#eff9a6 174px,#ffffbe 180px,#fede89 192px,#fed07e 204px,#fdbf6f 207px,#fba35c 210px,#fa9b58 222px,#fca85e 234px,#fdc574 243px,#fdbf6f 255px,#fdc776 261px,#fca55d 270px,#f57245 279px,#f06744 285px,#ef6645 300px,#f57547 306px,#fa9857 309px,#fa9b58 315px,#fa9b58 327px,#fba05b 339px,#fba35c 348px,#fed07e 357px,#fee28f 360px,#fdb96a 363px,#fdb567 366px,#feca79 375px,#fee18d 381px,#fee491 384px,#fee08b 387px,#fdc171 396px,#fecc7b 405px,#fede89 408px,#f2faaa 411px,#f7fcb2 447px,#edf8a3 450px,#cdeb9d 453px,#9fd8a4 456px,#84cea5 459px,#89d0a4 462px,#aadca4 468px,#b3e0a2 471px,#aedea3 477px,#9cd7a4 489px,#9cd7a4 513px,#94d4a4 522px,#9cd7a4 525px,#d1ed9c 531px,#e1f399 534px,#dff299 537px,#b3e0a2 546px,#b3e0a2 549px,#dff299 555px,#f3faac 561px,#fdfebb 573px,#f2faaa 588px,#f0f9a7 600px,#ddf19a 606px,#d3ed9c 609px,#ddf19a 615px,#ebf7a0 621px,#e7f59a 642px,#e6f598 675px,#caea9e 687px,#9fd8a4 699px,#97d5a4 708px,#86cfa5 711px,#69c3a5 714px,#66c2a5 726px,#b1dfa3 759px,#d1ed9c 762px,#ecf7a1 765px,#fcfeba 771px,#fefebd 777px,#ecf7a1 801px,#f4faad 822px,#ffffbe 837px,#f4faad 852px,#e7f59a 858px,#e1f399 861px,#eaf79e 864px,#e4f498 867px,#a7dba4 873px,#99d6a4 876px,#99d6a4 903px,#84cea5 915px,#91d3a4 924px,#aedea3 930px,#d3ed9c 936px,#d8ef9b 939px,#b1dfa3 954px,#aadca4 966px,#aadca4 969px)"></div><div style="height:3px;background:linear-gradient(90deg,#ab0f45 0px,#ab0f45 54px,#d7414e 57px,#ea5e47 60px,#f57547 63px,#f7844e 66px,#f88950 72px,#f7814c 90px,#f7814c 105px,#af1446 108px,#b81e48 111px,#de4c4b 117px,#f26944 123px,#fa9b58 132px,#fdbf6f 144px,#fee491 150px,#fff0a6 153px,#fff7b2 159px,#fffebe 162px,#eff9a6 168px,#f3faac 174px,#fffdbc 180px,#feda86 192px,#fed07e 204px,#fdc171 207px,#fca85e 210px,#fba35c 222px,#fdb96a 237px,#fec877 246px,#fdbf6f 255px,#fdc372 261px,#fba05b 270px,#f46d43 279px,#ed6246 285px,#ee6445 300px,#f47044 306px,#fa9656 309px,#fa9857 315px,#fba05b 342px,#fdb365 351px,#fee18d 360px,#fdbb6c 363px,#fdc171 372px,#fee08b 381px,#fee28f 384px,#fed27f 390px,#fdbf6f 396px,#feca79 405px,#fedc88 408px,#f2faaa 411px,#f7fcb2 447px,#eef8a4 450px,#cdeb9d 453px,#9fd8a4 456px,#84cea5 459px,#89d0a4 462px,#b1dfa3 471px,#9fd8a4 480px,#97d5a4 483px,#a2d9a4 504px,#9cd7a4 516px,#94d4a4 522px,#9cd7a4 525px,#d1ed9c 531px,#e4f498 534px,#e1f399 537px,#b1dfa3 546px,#b1dfa3 549px,#ddf19a 555px,#edf8a3 558px,#fbfdb8 567px,#fdfebb 576px,#f3faac 591px,#f0f9a7 600px,#dff299 606px,#d6ee9b 609px,#e8f69b 618px,#edf8a3 627px,#e6f598 654px,#e6f598 675px,#c3e79f 690px,#a4daa4 699px,#99d6a4 708px,#86cfa5 711px,#6bc4a5 714px,#6bc4a5 726px,#b3e0a2 759px,#d8ef9b 762px,#f1f9a9 765px,#fbfdb8 768px,#fffcba 771px,#fff7b2 774px,#fefebd 783px,#eef8a4 798px,#f1f9a9 813px,#ffffbe 840px,#f4faad 852px,#e7f59a 858px,#dff299 861px,#ecf7a1 864px,#e6f598 867px,#a7dba4 873px,#9cd7a4 876px,#9cd7a4 903px,#89d0a4 915px,#97d5a4 924px,#9fd8a4 927px,#d6ee9b 936px,#daf09a 939px,#aedea3 957px,#aadca4 969px)"></div><div style="height:3px;background:linear-gradient(90deg,#ab0f45 0px,#ab0f45 54px,#d63f4f 57px,#f57547 63px,#f8864f 66px,#f88950 72px,#f7814c 90px,#f7814c 105px,#af1446 108px,#ba2049 111px,#d0384e 114px,#e1504b 117px,#f36b43 123px,#fca55d 135px,#fdbd6d 144px,#fee491 150px,#fff1a8 153px,#fff5ae 156px,#fff2aa 159px,#fcfeba 165px,#f5fbaf 168px,#f8fcb4 174px,#fdfebb 177px,#fffbb8 180px,#fed683 192px,#fed07e 201px,#fed07e 204px,#fdc372 207px,#fcaa5f 210px,#fdaf62 225px,#fecc7b 243px,#fdbf6f 255px,#fdbf6f 261px,#fcaa5f 267px,#f06744 279px,#ea5e47 285px,#eb6046 300px,#f46d43 306px,#f99355 309px,#fa9857 321px,#fb9d59 339px,#fdb768 351px,#fee08b 360px,#fdbf6f 363px,#fdbf6f 372px,#fedc88 381px,#fee08b 384px,#fdbf6f 396px,#fec877 405px,#feda86 408px,#f3faac 411px,#f7fcb2 447px,#eef8a4 450px,#cfec9d 453px,#a2d9a4 456px,#86cfa5 459px,#97d5a4 465px,#acdda4 471px,#a2d9a4 477px,#8fd2a4 483px,#94d4a4 489px,#a7dba4 498px,#a4daa4 513px,#94d4a4 522px,#9cd7a4 525px,#d3ed9c 531px,#e4f498 534px,#e1f399 537px,#aedea3 546px,#aedea3 549px,#c1e6a0 552px,#ddf19a 555px,#edf8a3 558px,#fcfeba 567px,#fefebd 576px,#f5fbaf 591px,#f0f9a7 600px,#e1f399 606px,#daf09a 612px,#e8f69b 618px,#eef8a4 624px,#e6f598 654px,#e6f598 675px,#c6e89f 690px,#a2d9a4 702px,#99d6a4 708px,#89d0a4 711px,#6ec5a5 714px,#6ec5a5 726px,#acdda4 756px,#b5e1a2 759px,#dff299 762px,#f7fcb2 765px,#fffcba 768px,#fff2aa 771px,#feefa3 774px,#fff5ae 780px,#ffffbe 786px,#eff9a6 798px,#f1f9a9 813px,#ffffbe 840px,#f4faad 852px,#e6f598 858px,#ddf19a 861px,#edf8a3 864px,#e8f69b 867px,#aadca4 873px,#9fd8a4 876px,#9cd7a4 903px,#91d3a4 915px,#99d6a4 924px,#a2d9a4 927px,#d6ee9b 936px,#daf09a 939px,#acdda4 960px,#aadca4 969px)"></div><div style="height:3px;background:linear-gradient(90deg,#ab0f45 0px,#ab0f45 54px,#d43d4f 57px,#f57245 63px,#f8864f 66px,#f88c51 72px,#f7814c 84px,#f7814c 105px,#af1446 108px,#ba2049 111px,#d23a4e 114px,#e2514a 117px,#f46d43 123px,#fa9857 132px,#fdbd6d 144px,#fee491 150px,#fff1a8 153px,#fff3ac 156px,#fff0a6 159px,#ffffbe 165px,#f8fcb4 168px,#fafdb7 174px,#ffffbe 177px,#feea9b 186px,#fed481 192px,#fece7c 201px,#fece7c 204px,#fdc372 207px,#fdad60 210px,#fdb365 225px,#fece7c 246px,#fdbf6f 258px,#fdb567 264px,#f88950 273px,#ef6645 279px,#e95c47 282px,#eb6046 300px,#f36b43 306px,#f99355 309px,#fa9857 321px,#fa9857 336px,#fdb96a 351px,#fece7c 357px,#fee08b 360px,#fdc171 363px,#fdbf6f 372px,#fedc88 381px,#fee08b 384px,#fdbf6f 396px,#fec877 405px,#fed884 408px,#f3faac 411px,#f7fcb2 447px,#eef8a4 450px,#cfec9d 453px,#a2d9a4 456px,#89d0a4 459px,#8cd1a4 462px,#aadca4 471px,#9fd8a4 477px,#89d0a4 483px,#89d0a4 486px,#a7dba4 495px,#a7dba4 513px,#94d4a4 522px,#9fd8a4 525px,#d3ed9c 531px,#e4f498 534px,#e1f399 537px,#acdda4 546px,#acdda4 549px,#bfe5a0 552px,#ddf19a 555px,#edf8a3 558px,#ffffbe 570px,#f1f9a9 600px,#e4f498 606px,#ddf19a 612px,#eef8a4 624px,#e6f598 654px,#e6f598 675px,#c8e99e 690px,#a4daa4 702px,#99d6a4 708px,#89d0a4 711px,#71c6a5 714px,#71c6a5 726px,#acdda4 756px,#b8e2a1 759px,#e1f399 762px,#fafdb7 765px,#fff8b4 768px,#feefa3 771px,#feeb9d 774px,#fff1a8 780px,#fffdbc 786px,#fdfebb 789px,#eff9a6 798px,#eef8a4 810px,#ffffbe 840px,#f4faad 852px,#e4f498 858px,#ddf19a 861px,#eef8a4 864px,#e9f69d 867px,#aadca4 873px,#9fd8a4 876px,#9fd8a4 903px,#94d4a4 912px,#97d5a4 921px,#a2d9a4 927px,#d6ee9b 936px,#ddf19a 939px,#acdda4 960px,#aadca4 969px)"></div><div style="height:3px;background:linear-gradient(90deg,#ab0f45 0px,#ab0f45 54px,#d43d4f 57px,#f57245 63px,#f8864f 66px,#f88c51 72px,#f7814c 84px,#f7814c 105px,#af1446 108px,#ba2049 111px,#d23a4e 114px,#e2514a 117px,#f46d43 123px,#fa9857 132px,#fdbd6d 144px,#fee491 150px,#fff1a8 153px,#fff3ac 156px,#fff0a6 159px,#ffffbe 165px,#f8fcb4 168px,#fafdb7 174px,#ffffbe 177px,#feea9b 186px,#fed481 192px,#fece7c 201px,#fece7c 204px,#fdc372 207px,#fdad60 210px,#fdb365 225px,#fece7c 246px,#fdbf6f 258px,#fdb567 264px,#f88950 273px,#ef6645 279px,#e95c47 282px,#eb6046 300px,#f36b43 306px,#f99355 309px,#fa9857 321px,#fa9857 336px,#fdb96a 351px,#fece7c 357px,#fee08b 360px,#fdc171 363px,#fdbf6f 372px,#fedc88 381px,#fee08b 384px,#fdbf6f 396px,#fec877 405px,#fed884 408px,#f3faac 411px,#f7fcb2 447px,#eef8a4 450px,#cfec9d 453px,#a2d9a4 456px,#89d0a4 459px,#8cd1a4 462px,#aadca4 471px,#9fd8a4 477px,#89d0a4 483px,#89d0a4 486px,#a7dba4 495px,#a7dba4 513px,#94d4a4 522px,#9fd8a4 525px,#d3ed9c 531px,#e4f498 534px,#e1f399 537px,#acdda4 546px,#acdda4 549px,#bfe5a0 552px,#ddf19a 555px,#edf8a3 558px,#ffffbe 570px,#f1f9a9 600px,#e4f498 606px,#ddf19a 612px,#eef8a4 624px,#e6f598 654px,#e6f598 675px,#c8e99e 690px,#a4daa4 702px,#99d6a4 708px,#89d0a4 711px,#71c6a5 714px,#71c6a5 726px,#acdda4 756px,#b8e2a1 759px,#e1f399 762px,#fafdb7 765px,#fff8b4 768px,#feefa3 771px,#feeb9d 774px,#fff1a8 780px,#fffdbc 786px,#fdfebb 789px,#eff9a6 798px,#eef8a4 810px,#ffffbe 840px,#f4faad 852px,#e4f498 858px,#ddf19a 861px,#eef8a4 864px,#e9f69d 867px,#aadca4 873px,#9fd8a4 876px,#9fd8a4 903px,#94d4a4 912px,#97d5a4 921px,#a2d9a4 927px,#d6ee9b 936px,#ddf19a 939px,#acdda4 960px,#aadca4 969px)"></div><div style="height:3px;background:linear-gradient(90deg,#ab0f45 0px,#ab0f45 54px,#d43d4f 57px,#f57245 63px,#f8864f 66px,#f88c51 72px,#f7814c 84px,#f7814c 105px,#af1446 108px,#ba2049 111px,#d23a4e 114px,#e2514a 117px,#f46d43 123px,#fa9857 132px,#fdbd6d 144px,#fee491 150px,#fff1a8 153px,#fff3ac 156px,#fff0a6 159px,#ffffbe 165px,#f8fcb4 168px,#fafdb7 174px,#ffffbe 177px,#feea9b 186px,#fed481 192px,#fece7c 201px,#fece7c 204px,#fdc372 207px,#fdad60 210px,#fdb365 225px,#fece7c 246px,#fdbf6f 258px,#fdb567 264px,#f88950 273px,#ef6645 279px,#e95c47 282px,#eb6046 300px,#f36b43 306px,#f99355 309px,#fa9857 321px,#fa9857 336px,#fdb96a 351px,#fece7c 357px,#fee08b 360px,#fdc171 363px,#fdbf6f 372px,#fedc88 381px,#fee08b 384px,#fdbf6f 396px,#fec877 405px,#fed884 408px,#f3faac 411px,#f7fcb2 447px,#eef8a4 450px,#cfec9d 453px,#a2d9a4 456px,#89d0a4 459px,#8cd1a4 462px,#aadca4 471px,#9fd8a4 477px,#89d0a4 483px,#89d0a4 486px,#a7dba4 495px,#a7dba4 513px,#94d4a4 522px,#9fd8a4 525px,#d3ed9c 531px,#e4f498 534px,#e1f399 537px,#acdda4 546px,#acdda4 549px,#bfe5a0 552px,#ddf19a 555px,#edf8a3 558px,#ffffbe 570px,#f1f9a9 600px,#e4f498 606px,#ddf19a 612px,#eef8a4 624px,#e6f598 654px,#e6f598 675px,#c8e99e 690px,#a4daa4 702px,#99d6a4 708px,#89d0a4 711px,#71c6a5 714px,#71c6a5 726px,#acdda4 756px,#b8e2a1 759px,#e1f399 762px,#fafdb7 765px,#fff8b4 768px,#feefa3 771px,#feeb9d 774px,#fff1a8 780px,#fffdbc 786px,#fdfebb 789px,#eff9a6 798px,#eef8a4 810px,#ffffbe 840px,#f4faad 852px,#e4f498 858px,#ddf19a 861px,#eef8a4 864px,#e9f69d 867px,#aadca4 873px,#9fd8a4 876px,#9fd8a4 903px,#94d4a4 912px,#97d5a4 921px,#a2d9a4 927px,#d6ee9b 936px,#ddf19a 939px,#acdda4 960px,#aadca4 969px)"></div></div></div>
<svg width="1181" height="1036" style="position:absolute;left:0;top:0">
<line x1="142.2" y1="684.7" x2="142.2" y2="950.2" stroke="#000" stroke-opacity="0.3" stroke-width="1.6"/>
<line x1="192.6" y1="684.7" x2="192.6" y2="950.2" stroke="#000" stroke-opacity="0.3" stroke-width="1.6"/>
<line x1="243.1" y1="684.7" x2="243.1" y2="950.2" stroke="#000" stroke-opacity="0.3" stroke-width="1.6"/>
<line x1="293.5" y1="684.7" x2="293.5" y2="950.2" stroke="#000" stroke-opacity="0.3" stroke-width="1.6"/>
<line x1="343.9" y1="684.7" x2="343.9" y2="950.2" stroke="#000" stroke-opacity="0.3" stroke-width="1.6"/>
<line x1="394.3" y1="684.7" x2="394.3" y2="950.2" stroke="#000" stroke-opacity="0.3" stroke-width="1.6"/>
<line x1="444.7" y1="684.7" x2="444.7" y2="950.2" stroke="#000" stroke-opacity="0.3" stroke-width="1.6"/>
<line x1="495.2" y1="684.7" x2="495.2" y2="950.2" stroke="#000" stroke-opacity="0.3" stroke-width="1.6"/>
<line x1="545.6" y1="684.7" x2="545.6" y2="950.2" stroke="#000" stroke-opacity="0.3" stroke-width="1.6"/>
<line x1="596.0" y1="684.7" x2="596.0" y2="950.2" stroke="#000" stroke-opacity="0.3" stroke-width="1.6"/>
<line x1="646.4" y1="684.7" x2="646.4" y2="950.2" stroke="#000" stroke-opacity="0.3" stroke-width="1.6"/>
<line x1="696.8" y1="684.7" x2="696.8" y2="950.2" stroke="#000" stroke-opacity="0.3" stroke-width="1.6"/>
<line x1="747.3" y1="684.7" x2="747.3" y2="950.2" stroke="#000" stroke-opacity="0.3" stroke-width="1.6"/>
<line x1="797.7" y1="684.7" x2="797.7" y2="950.2" stroke="#000" stroke-opacity="0.3" stroke-width="1.6"/>
<line x1="848.1" y1="684.7" x2="848.1" y2="950.2" stroke="#000" stroke-opacity="0.3" stroke-width="1.6"/>
<line x1="898.5" y1="684.7" x2="898.5" y2="950.2" stroke="#000" stroke-opacity="0.3" stroke-width="1.6"/>
<line x1="948.9" y1="684.7" x2="948.9" y2="950.2" stroke="#000" stroke-opacity="0.3" stroke-width="1.6"/>
<line x1="999.4" y1="684.7" x2="999.4" y2="950.2" stroke="#000" stroke-opacity="0.3" stroke-width="1.6"/>
</svg>
<div style="position:absolute;left:1083.4px;top:684.9px;width:15.0px;height:252.60000000000002px;background:linear-gradient(180deg,#ab0f45 0.00%,#ab0f45 1.67%,#af1446 3.33%,#b81e48 5.00%,#c32a4b 6.67%,#cb334d 8.33%,#d43d4f 10.00%,#d9444d 11.67%,#df4e4b 13.33%,#e45549 15.00%,#e95c47 16.67%,#ee6445 18.33%,#f46d43 20.00%,#f57748 21.67%,#f7814c 23.33%,#f88c51 25.00%,#fa9857 26.67%,#fba35c 28.33%,#fdad60 30.00%,#fdb768 31.67%,#fdbf6f 33.33%,#fdc776 35.00%,#fece7c 36.67%,#fed884 38.33%,#fee08b 40.00%,#fee593 41.67%,#feea9b 43.33%,#fff0a6 45.00%,#fff5ae 46.67%,#fffab6 48.33%,#fffebe 50.00%,#fbfdb8 51.67%,#f7fcb2 53.33%,#f3faac 55.00%,#eef8a4 56.67%,#eaf79e 58.33%,#e6f598 60.00%,#ddf19a 61.67%,#d1ed9c 63.33%,#c8e99e 65.00%,#bfe5a0 66.67%,#b5e1a2 68.33%,#aadca4 70.00%,#9fd8a4 71.67%,#94d4a4 73.33%,#89d0a4 75.00%,#7ccaa5 76.67%,#71c6a5 78.33%,#66c2a5 80.00%,#5cb7aa 81.67%,#54aead 83.33%,#4ba4b1 85.00%,#439bb5 86.67%,#3990ba 88.33%,#3387bc 90.00%,#3a7eb8 91.67%,#4175b4 93.33%,#496aaf 95.00%,#5061aa 96.67%,#5758a6 98.33%,#5e4fa2 100.00%)"></div><svg width="1181" height="1036" style="position:absolute;left:0;top:0"><path d="M1083.4,937.0 L1098.4,937.0 L1090.9,950.3 Z" fill="#5e4fa2"/></svg>
<svg width="1181" height="1036" viewBox="0 0 1181 1036" style="position:absolute;left:0;top:0;will-change:transform" font-family='"Liberation Sans", sans-serif' fill="#000">
<line x1="142.2" y1="39.0" x2="142.2" y2="304.2" stroke="#b0b0b0" stroke-opacity="0.5" stroke-width="1.6"/>
<line x1="192.6" y1="39.0" x2="192.6" y2="304.2" stroke="#b0b0b0" stroke-opacity="0.5" stroke-width="1.6"/>
<line x1="243.1" y1="39.0" x2="243.1" y2="304.2" stroke="#b0b0b0" stroke-opacity="0.5" stroke-width="1.6"/>
<line x1="293.5" y1="39.0" x2="293.5" y2="304.2" stroke="#b0b0b0" stroke-opacity="0.5" stroke-width="1.6"/>
<line x1="343.9" y1="39.0" x2="343.9" y2="304.2" stroke="#b0b0b0" stroke-opacity="0.5" stroke-width="1.6"/>
<line x1="394.3" y1="39.0" x2="394.3" y2="304.2" stroke="#b0b0b0" stroke-opacity="0.5" stroke-width="1.6"/>
<line x1="444.7" y1="39.0" x2="444.7" y2="304.2" stroke="#b0b0b0" stroke-opacity="0.5" stroke-width="1.6"/>
<line x1="495.2" y1="39.0" x2="495.2" y2="304.2" stroke="#b0b0b0" stroke-opacity="0.5" stroke-width="1.6"/>
<line x1="545.6" y1="39.0" x2="545.6" y2="304.2" stroke="#b0b0b0" stroke-opacity="0.5" stroke-width="1.6"/>
<line x1="596.0" y1="39.0" x2="596.0" y2="304.2" stroke="#b0b0b0" stroke-opacity="0.5" stroke-width="1.6"/>
<line x1="646.4" y1="39.0" x2="646.4" y2="304.2" stroke="#b0b0b0" stroke-opacity="0.5" stroke-width="1.6"/>
<line x1="696.8" y1="39.0" x2="696.8" y2="304.2" stroke="#b0b0b0" stroke-opacity="0.5" stroke-width="1.6"/>
<line x1="747.3" y1="39.0" x2="747.3" y2="304.2" stroke="#b0b0b0" stroke-opacity="0.5" stroke-width="1.6"/>
<line x1="797.7" y1="39.0" x2="797.7" y2="304.2" stroke="#b0b0b0" stroke-opacity="0.5" stroke-width="1.6"/>
<line x1="848.1" y1="39.0" x2="848.1" y2="304.2" stroke="#b0b0b0" stroke-opacity="0.5" stroke-width="1.6"/>
<line x1="898.5" y1="39.0" x2="898.5" y2="304.2" stroke="#b0b0b0" stroke-opacity="0.5" stroke-width="1.6"/>
<line x1="948.9" y1="39.0" x2="948.9" y2="304.2" stroke="#b0b0b0" stroke-opacity="0.5" stroke-width="1.6"/>
<line x1="999.4" y1="39.0" x2="999.4" y2="304.2" stroke="#b0b0b0" stroke-opacity="0.5" stroke-width="1.6"/>
<line x1="142.2" y1="362.0" x2="142.2" y2="627.2" stroke="#b0b0b0" stroke-opacity="0.5" stroke-width="1.6"/>
<line x1="192.6" y1="362.0" x2="192.6" y2="627.2" stroke="#b0b0b0" stroke-opacity="0.5" stroke-width="1.6"/>
<line x1="243.1" y1="362.0" x2="243.1" y2="627.2" stroke="#b0b0b0" stroke-opacity="0.5" stroke-width="1.6"/>
<line x1="293.5" y1="362.0" x2="293.5" y2="627.2" stroke="#b0b0b0" stroke-opacity="0.5" stroke-width="1.6"/>
<line x1="343.9" y1="362.0" x2="343.9" y2="627.2" stroke="#b0b0b0" stroke-opacity="0.5" stroke-width="1.6"/>
<line x1="394.3" y1="362.0" x2="394.3" y2="627.2" stroke="#b0b0b0" stroke-opacity="0.5" stroke-width="1.6"/>
<line x1="444.7" y1="362.0" x2="444.7" y2="627.2" stroke="#b0b0b0" stroke-opacity="0.5" stroke-width="1.6"/>
<line x1="495.2" y1="362.0" x2="495.2" y2="627.2" stroke="#b0b0b0" stroke-opacity="0.5" stroke-width="1.6"/>
<line x1="545.6" y1="362.0" x2="545.6" y2="627.2" stroke="#b0b0b0" stroke-opacity="0.5" stroke-width="1.6"/>
<line x1="596.0" y1="362.0" x2="596.0" y2="627.2" stroke="#b0b0b0" stroke-opacity="0.5" stroke-width="1.6"/>
<line x1="646.4" y1="362.0" x2="646.4" y2="627.2" stroke="#b0b0b0" stroke-opacity="0.5" stroke-width="1.6"/>
<line x1="696.8" y1="362.0" x2="696.8" y2="627.2" stroke="#b0b0b0" stroke-opacity="0.5" stroke-width="1.6"/>
<line x1="747.3" y1="362.0" x2="747.3" y2="627.2" stroke="#b0b0b0" stroke-opacity="0.5" stroke-width="1.6"/>
<line x1="797.7" y1="362.0" x2="797.7" y2="627.2" stroke="#b0b0b0" stroke-opacity="0.5" stroke-width="1.6"/>
<line x1="848.1" y1="362.0" x2="848.1" y2="627.2" stroke="#b0b0b0" stroke-opacity="0.5" stroke-width="1.6"/>
<line x1="898.5" y1="362.0" x2="898.5" y2="627.2" stroke="#b0b0b0" stroke-opacity="0.5" stroke-width="1.6"/>
<line x1="948.9" y1="362.0" x2="948.9" y2="627.2" stroke="#b0b0b0" stroke-opacity="0.5" stroke-width="1.6"/>
<line x1="999.4" y1="362.0" x2="999.4" y2="627.2" stroke="#b0b0b0" stroke-opacity="0.5" stroke-width="1.6"/>
<line x1="91.8" y1="297.3" x2="1049.8" y2="297.3" stroke="#b0b0b0" stroke-opacity="0.5" stroke-width="1.6"/>
<line x1="91.8" y1="236.2" x2="1049.8" y2="236.2" stroke="#b0b0b0" stroke-opacity="0.5" stroke-width="1.6"/>
<line x1="91.8" y1="175.1" x2="1049.8" y2="175.1" stroke="#b0b0b0" stroke-opacity="0.5" stroke-width="1.6"/>
<line x1="91.8" y1="113.9" x2="1049.8" y2="113.9" stroke="#b0b0b0" stroke-opacity="0.5" stroke-width="1.6"/>
<line x1="91.8" y1="52.8" x2="1049.8" y2="52.8" stroke="#b0b0b0" stroke-opacity="0.5" stroke-width="1.6"/>
<line x1="91.8" y1="603.0" x2="1049.8" y2="603.0" stroke="#b0b0b0" stroke-opacity="0.5" stroke-width="1.6"/>
<line x1="91.8" y1="554.8" x2="1049.8" y2="554.8" stroke="#b0b0b0" stroke-opacity="0.5" stroke-width="1.6"/>
<line x1="91.8" y1="506.6" x2="1049.8" y2="506.6" stroke="#b0b0b0" stroke-opacity="0.5" stroke-width="1.6"/>
<line x1="91.8" y1="458.4" x2="1049.8" y2="458.4" stroke="#b0b0b0" stroke-opacity="0.5" stroke-width="1.6"/>
<line x1="91.8" y1="410.2" x2="1049.8" y2="410.2" stroke="#b0b0b0" stroke-opacity="0.5" stroke-width="1.6"/>
<line x1="91.8" y1="362.0" x2="1049.8" y2="362.0" stroke="#b0b0b0" stroke-opacity="0.5" stroke-width="1.6"/>
<path d="M92.7,280.0 L107.6,284.3 L116.0,279.3 L120.5,291.8 L124.5,290.4 L133.4,278.9 L137.4,276.6 L146.2,272.4 L160.5,273.8 L165.9,273.2 L178.1,274.6 L187.5,273.2 L193.6,274.4 L197.0,273.5 L200.4,238.3 L204.5,245.7 L208.5,243.7 L212.0,242.3 L225.5,207.1 L230.2,266.7 L237.0,254.5 L242.0,217.9 L245.4,219.3 L250.8,203.0 L255.6,223.4 L267.1,234.2 L271.8,199.0 L275.9,199.6 L280.6,207.8 L288.8,214.5 L294.2,235.5 L297.6,230.8 L301.6,234.9 L305.7,236.2 L309.8,234.2 L317.9,227.4 L322.6,228.1 L326.7,232.2 L330.1,230.8 L334.8,232.2 L338.9,228.1 L343.0,234.9 L347.7,244.4 L351.1,234.2 L355.2,233.5 L367.4,232.8 L372.1,234.2 L378.2,238.9 L389.0,244.4 L398.0,227.3 L402.3,222.9 L406.7,223.7 L411.7,225.1 L414.6,222.2 L419.0,223.7 L423.3,224.4 L427.6,225.8 L432.0,221.5 L436.3,219.3 L440.0,221.5 L443.6,186.7 L448.6,188.2 L452.3,225.1 L456.6,185.3 L461.0,170.1 L465.3,225.8 L471.1,204.1 L477.6,186.0 L489.2,183.8 L494.3,142.6 L499.3,133.2 L502.9,152.0 L507.3,139.0 L511.6,144.0 L519.6,154.9 L528.3,137.5 L532.6,136.1 L537.7,149.8 L541.3,148.4 L545.1,116.3 L549.5,120.6 L553.5,128.8 L560.3,134.9 L565.7,141.0 L570.5,143.3 L575.2,143.4 L582.7,145.3 L586.7,122.4 L591.2,114.9 L595.5,157.2 L599.6,125.4 L604.0,149.1 L612.5,113.5 L616.5,132.2 L620.6,105.7 L625.1,142.3 L629.1,112.5 L633.5,146.4 L637.5,121.3 L641.9,155.9 L646.4,132.2 L651.1,152.8 L654.5,162.7 L658.5,164.4 L663.3,147.7 L667.1,123.4 L671.1,131.0 L675.2,112.5 L679.5,109.8 L683.9,97.6 L687.7,115.2 L692.0,142.0 L696.1,143.3 L701.5,148.7 L707.6,148.3 L712.4,146.7 L716.4,139.9 L721.2,74.9 L725.9,82.4 L730.6,106.1 L734.7,133.8 L738.8,142.0 L742.2,138.6 L745.5,129.1 L751.0,120.3 L755.0,109.5 L759.1,146.7 L763.8,144.0 L765.9,144.7 L771.3,139.3 L776.0,110.8 L780.8,146.7 L787.5,142.0 L793.0,137.9 L797.0,126.4 L801.8,124.8 L807.2,126.4 L814.0,129.8 L820.1,136.5 L830.9,145.4 L834.3,140.6 L839.0,108.8 L843.8,119.6 L848.0,90.0 L852.3,124.7 L860.3,120.4 L864.9,126.2 L868.2,64.6 L873.0,50.1 L877.4,141.4 L885.6,147.2 L890.0,146.9 L893.9,114.6 L898.6,123.3 L902.6,124.7 L906.3,104.4 L910.7,95.0 L914.6,95.7 L919.6,135.6 L923.3,124.7 L927.6,131.2 L931.5,147.9 L936.3,155.8 L944.3,161.6 L948.3,111.7 L952.9,107.3 L957.0,132.0 L964.5,130.5 L973.5,113.8 L977.0,160.7 L982.5,166.0 L990.8,154.0 L994.1,143.4 L999.4,117.3 L1003.3,96.1 L1007.6,100.9 L1011.5,101.9 L1015.8,121.2 L1019.7,97.0 L1024.5,95.6 L1028.4,118.3 L1032.5,106.7 L1041.4,117.3 L1046.3,116.1" fill="none" stroke="#1f77b4" stroke-width="3.0" stroke-linejoin="round" stroke-linecap="square"/>
<path d="M92.7,280.0 L107.6,284.3 L115.7,281.0 L120.5,291.8 L124.5,290.4 L133.4,278.9 L137.4,276.9 L141.5,279.6 L146.9,277.5 L160.5,276.9 L165.9,276.2 L175.4,278.2 L184.8,275.8 L193.0,277.5 L197.0,275.5 L200.4,243.0 L204.5,241.0 L208.5,248.4 L213.3,246.4 L225.5,211.8 L230.2,272.8 L238.4,255.9 L242.7,222.7 L246.8,224.0 L250.8,209.1 L254.9,226.1 L260.3,230.1 L267.8,237.6 L271.8,203.0 L275.9,205.7 L280.6,215.2 L288.8,220.6 L292.8,241.0 L297.6,241.0 L301.6,237.6 L309.1,242.3 L315.9,239.6 L322.6,236.2 L326.7,236.9 L331.5,239.6 L339.6,234.9 L343.0,243.0 L347.7,249.1 L352.5,245.0 L360.6,243.0 L372.8,243.0 L380.9,247.7 L389.0,250.2 L394.3,243.2 L401.6,227.3 L405.9,225.1 L411.0,226.6 L415.3,222.2 L419.7,223.7 L424.0,224.4 L427.6,226.6 L432.0,222.9 L436.3,220.8 L440.0,222.2 L443.9,190.4 L448.2,216.4 L452.6,191.8 L456.6,226.6 L465.3,175.9 L469.4,228.7 L474.0,202.7 L478.3,190.4 L490.6,188.2 L494.3,144.0 L498.6,146.9 L502.9,153.4 L507.0,135.3 L510.9,149.1 L515.3,149.8 L519.6,158.5 L523.9,157.1 L532.6,145.5 L537.0,153.4 L541.3,149.8 L545.1,116.3 L549.5,120.6 L553.5,128.8 L560.3,134.9 L565.7,141.0 L570.5,143.3 L575.2,143.4 L582.7,145.3 L586.7,123.4 L591.2,115.9 L595.5,157.2 L599.6,125.4 L604.0,149.1 L612.5,114.5 L616.5,132.2 L620.6,105.7 L625.1,142.3 L629.1,112.5 L633.5,146.4 L637.5,121.3 L641.9,155.9 L646.4,132.2 L651.1,153.8 L654.5,164.7 L658.5,166.4 L663.3,147.7 L667.1,123.4 L671.1,129.5 L675.2,112.5 L679.5,109.8 L683.9,97.6 L687.7,115.2 L692.0,145.0 L696.1,146.0 L701.5,152.8 L709.0,154.2 L713.7,152.8 L717.8,143.3 L721.4,74.9 L725.9,82.4 L730.6,104.7 L734.0,138.6 L738.1,148.7 L742.8,144.7 L746.9,131.8 L751.6,125.7 L755.3,154.2 L759.4,115.5 L763.4,150.8 L767.9,146.0 L772.0,142.0 L776.0,116.9 L780.5,153.2 L787.5,144.7 L797.0,135.9 L801.8,130.5 L806.5,131.8 L813.3,134.5 L820.1,141.3 L830.9,150.5 L835.6,146.0 L839.3,114.2 L843.8,125.7 L848.0,122.5 L852.3,144.3 L856.7,142.1 L860.3,132.7 L864.6,139.2 L869.0,137.3 L873.0,103.7 L877.4,95.0 L881.3,152.9 L889.2,157.3 L893.9,158.7 L897.9,144.3 L902.6,143.1 L906.6,122.5 L911.0,113.1 L914.6,114.6 L918.9,142.8 L922.8,147.9 L927.6,166.7 L932.7,171.8 L940.2,175.4 L948.6,139.9 L952.7,133.4 L956.6,161.3 L961.6,155.8 L968.9,155.8 L973.2,150.8 L977.9,142.1 L982.2,173.9 L986.5,179.0 L990.6,174.7 L995.2,171.8 L999.2,118.3 L1003.3,145.8 L1007.5,124.1 L1011.7,148.7 L1015.8,127.0 L1020.2,119.7 L1024.5,117.3 L1028.4,143.8 L1032.7,130.8 L1037.6,139.5 L1041.4,144.3 L1046.3,141.9" fill="none" stroke="#ff7f0e" stroke-width="3.0" stroke-linejoin="round" stroke-linecap="square"/>
<path d="M92.9,380.1 L95.1,380.9 L103.3,409.1 L108.1,404.5 L112.4,404.5 L116.8,407.4 L124.8,400.4 L133.4,398.2 L137.1,400.4 L141.4,418.5 L146.5,425.0 L158.1,416.3 L166.7,424.3 L171.1,424.3 L176.2,421.8 L183.4,425.7 L188.5,421.0 L192.1,421.0 L196.4,427.9 L200.8,437.3 L204.4,439.5 L208.7,459.1 L213.1,465.6 L217.4,466.3 L221.8,469.6 L226.1,466.7 L230.2,467.0 L237.7,485.8 L244.2,504.7 L245.4,507.7 L250.8,501.0 L254.9,500.3 L259.6,508.4 L263.7,503.7 L267.8,491.5 L275.2,480.6 L280.0,473.2 L284.7,471.4 L288.8,475.2 L293.5,474.5 L298.3,479.3 L305.0,485.4 L309.8,488.1 L313.8,496.9 L318.6,498.5 L322.6,496.2 L326.7,496.9 L330.8,494.9 L334.8,487.1 L338.9,487.7 L343.0,486.1 L347.7,483.1 L355.2,490.8 L359.9,492.8 L364.0,490.1 L368.7,484.0 L373.5,480.6 L377.5,476.6 L381.6,478.6 L385.6,477.3 L389.0,477.7 L393.8,486.1 L402.2,505.1 L410.3,499.6 L414.4,503.0 L421.2,509.1 L427.3,503.3 L431.3,505.1 L436.1,513.9 L440.1,501.0 L444.2,501.0 L448.5,499.0 L452.3,508.5 L456.4,530.8 L460.5,536.9 L468.6,536.9 L477.4,530.4 L482.1,532.8 L486.2,532.2 L490.9,537.6 L495.7,559.9 L504.5,568.7 L510.6,563.7 L515.3,561.3 L520.1,562.9 L524.8,559.3 L528.2,551.5 L536.3,564.0 L541.1,572.1 L545.4,582.2 L552.2,580.8 L561.0,568.6 L565.7,565.9 L571.2,574.0 L574.5,574.4 L581.3,570.6 L591.2,559.1 L595.5,563.2 L603.7,588.3 L611.8,574.7 L616.5,573.4 L620.6,574.7 L628.1,555.7 L633.5,551.0 L638.9,566.6 L643.0,571.3 L654.5,551.0 L659.2,553.0 L664.0,561.8 L672.1,584.2 L679.5,571.3 L683.6,576.1 L688.4,570.6 L692.4,579.5 L696.8,574.0 L704.2,572.0 L709.0,566.6 L715.7,569.3 L721.4,575.4 L725.9,565.2 L730.0,562.9 L737.4,568.6 L742.2,565.5 L745.5,566.9 L751.0,557.1 L753.7,556.4 L759.1,551.4 L768.6,559.8 L776.0,560.5 L785.5,572.7 L791.6,575.4 L797.7,580.8 L804.5,583.5 L809.2,582.8 L814.0,586.9 L826.8,574.7 L831.6,576.1 L835.0,573.4 L839.0,577.4 L843.4,586.9 L848.1,585.5 L852.2,576.3 L856.3,578.1 L860.3,577.1 L865.1,570.6 L869.1,569.3 L873.2,570.6 L877.3,584.2 L882.0,586.6 L886.1,584.2 L894.2,585.5 L898.3,584.2 L906.4,584.9 L910.5,583.5 L914.5,576.7 L919.3,589.3 L924.0,584.9 L928.1,576.7 L934.8,571.3 L940.3,573.1 L944.3,565.5 L949.1,560.5 L953.1,563.2 L956.8,561.2 L961.3,572.7 L966.7,578.8 L974.1,580.5 L978.1,583.2 L982.2,587.6 L985.9,594.0 L990.7,597.4 L995.1,593.0 L998.5,597.4 L1003.5,601.2 L1007.3,593.0 L1011.3,597.4 L1016.1,598.4 L1019.8,590.7 L1025.6,586.2 L1032.7,581.2 L1037.1,590.3 L1041.1,590.5 L1046.2,588.5" fill="none" stroke="#1f77b4" stroke-width="3.0" stroke-linejoin="round" stroke-linecap="square"/>
<path d="M92.9,380.1 L95.1,380.9 L103.3,408.4 L107.4,404.8 L112.4,405.0 L116.1,406.9 L124.0,399.7 L132.0,398.2 L137.1,399.0 L142.1,406.2 L150.1,417.1 L158.1,411.3 L163.8,415.6 L169.6,417.1 L175.4,414.9 L183.4,417.8 L187.7,413.4 L192.1,413.2 L197.2,421.4 L200.8,430.8 L204.4,438.1 L208.0,461.2 L212.4,471.4 L221.0,476.4 L226.1,477.9 L230.5,481.5 L234.8,490.2 L242.0,509.0 L246.8,511.1 L250.8,501.6 L254.9,500.7 L259.0,505.7 L263.7,505.7 L268.5,501.6 L275.9,488.1 L280.0,487.1 L284.7,485.1 L288.8,488.1 L294.2,481.3 L301.0,475.5 L305.7,477.7 L310.5,481.3 L317.9,490.8 L322.6,486.3 L326.7,486.1 L338.9,473.2 L343.6,464.1 L348.4,466.4 L351.8,471.2 L357.9,474.5 L364.6,476.9 L372.1,477.3 L376.8,472.5 L383.6,472.5 L389.7,472.5 L393.8,475.2 L402.2,505.1 L410.3,503.3 L414.4,505.1 L419.1,511.8 L423.2,514.5 L427.3,506.4 L431.3,507.1 L436.1,512.5 L440.1,501.7 L444.2,501.7 L448.5,499.0 L452.3,508.5 L456.4,530.8 L460.5,536.9 L467.9,535.5 L472.6,535.3 L477.4,534.2 L482.1,537.2 L486.2,534.9 L490.9,538.3 L495.0,559.3 L502.5,569.4 L506.8,570.5 L511.3,564.7 L516.0,566.7 L520.1,572.1 L524.8,566.0 L528.2,559.3 L536.3,567.4 L541.1,573.5 L545.4,584.9 L552.9,583.5 L561.0,572.0 L565.7,569.3 L570.5,578.1 L574.5,578.1 L579.3,574.7 L583.4,574.0 L590.8,563.9 L595.5,567.9 L599.6,585.5 L604.0,595.0 L607.7,585.5 L612.5,580.1 L620.6,580.4 L628.1,563.2 L633.2,557.8 L637.5,568.6 L642.3,576.1 L646.4,568.6 L654.5,554.4 L658.5,555.7 L663.3,564.5 L671.4,588.0 L675.5,584.2 L679.5,574.7 L683.6,574.0 L688.4,571.3 L692.4,578.1 L696.8,574.7 L704.2,574.0 L709.0,567.3 L714.4,567.9 L717.8,570.0 L721.8,573.4 L725.9,566.6 L730.0,565.0 L734.7,568.2 L742.2,565.9 L746.9,569.3 L751.6,561.8 L759.1,554.4 L767.9,564.5 L772.6,566.6 L776.7,567.3 L784.8,574.7 L789.6,575.4 L793.6,573.4 L805.2,582.8 L809.9,581.2 L814.0,584.2 L826.2,570.6 L830.9,570.0 L835.0,566.6 L843.4,579.0 L847.5,574.0 L852.2,565.0 L856.3,568.2 L860.3,567.3 L864.4,557.8 L868.5,556.0 L873.2,557.8 L877.9,570.0 L881.3,573.4 L889.5,569.3 L896.9,570.4 L903.0,571.3 L909.8,567.3 L914.5,562.5 L919.3,574.7 L923.3,572.7 L927.4,561.8 L931.5,556.8 L940.3,558.5 L944.3,550.3 L949.1,546.0 L953.1,551.7 L956.8,550.1 L961.9,558.2 L969.4,565.2 L973.4,565.0 L977.5,566.3 L982.2,568.6 L986.3,578.1 L990.3,579.5 L994.7,578.6 L998.5,588.3 L1003.2,593.0 L1007.3,587.9 L1011.7,591.7 L1016.7,586.6 L1020.8,578.5 L1028.3,565.9 L1033.0,568.3 L1037.1,577.1 L1041.1,577.4 L1046.2,575.1" fill="none" stroke="#ff7f0e" stroke-width="3.0" stroke-linejoin="round" stroke-linecap="square"/>
<defs><clipPath id="gclip"><circle cx="187.4" cy="131.0" r="80.0"/></clipPath></defs>
<circle cx="187.4" cy="131.0" r="80.0" fill="#97b6e1"/>
<g clip-path="url(#gclip)" stroke="#000" stroke-width="2.0" stroke-linejoin="round" fill="#efefdb">
<path d="M122.4,96.3 L123.8,90.5 L127.2,83.7 L131.5,78.9 L135.2,72.2 L139.5,67.8 L145.0,65.8 L150.4,66.0 L155.2,65.3 L161.0,65.8 L166.8,64.6 L172.6,63.8 L178.4,63.9 L181.3,70.2 L185.1,75.5 L189.0,79.9 L192.4,83.7 L195.7,84.9 L201.5,84.5 L200.1,88.5 L195.7,93.4 L190.4,98.2 L186.1,102.5 L185.1,105.9 L187.0,109.8 L186.9,115.6 L182.7,121.4 L180.1,125.2 L179.5,131.0 L177.2,135.4 L176.4,140.7 L172.6,143.6 L167.7,144.8 L163.4,144.5 L160.5,140.7 L157.6,135.4 L153.7,129.6 L151.6,124.3 L151.3,119.4 L152.3,114.6 L150.4,109.8 L147.5,105.4 L146.5,100.6 L143.6,97.4 L139.7,96.5 L134.0,98.4 L129.1,102.1 L125.3,102.2 L122.7,99.2 Z"/>
<path d="M144.4,63.6 L144.0,63.0 L150.0,62.4 L155.0,62.8 L160.0,61.8 L166.0,62.0 L172.0,61.4 L177.0,62.3 L180.0,62.8 L183.5,69.5 L187.5,75.0 L191.0,79.5 L193.6,82.4 L199.0,81.0 L206.7,78.1 L211.5,74.3 L218.3,72.8 L224.1,77.0 L227.9,79.1 L231.8,86.6 L234.7,92.4 L237.6,96.3 L238.7,98.7 L237.6,92.6 L237.1,87.6 L240.5,85.2 L243.8,84.2 L247.2,87.6 L250.1,92.4 L252.5,96.3 L253.0,102.1 L254.9,107.8 L257.4,113.6 L259.8,119.4 L262.2,125.2 L264.1,132.0 L265.6,139.7 L266.9,139.8 L267.3,133.9 L267.3,127.9 L266.9,121.9 L266.0,116.0 L264.6,110.1 L262.8,104.4 L260.6,98.8 L258.0,93.4 L255.0,88.2 L251.6,83.3 L247.9,78.6 L243.8,74.2 L239.4,70.2 L234.6,66.4 L229.7,63.1 L224.5,60.1 L219.1,57.5 L213.5,55.4 L207.7,53.6 L201.9,52.3 L195.9,51.5 L189.9,51.0 L184.0,51.1 L178.0,51.6 L172.0,52.5 L166.2,53.9 L160.5,55.7 L154.9,57.9 L149.5,60.5 L144.4,63.6 Z"/>
<path d="M199.9,113.6 L201.4,117.5 L199.0,125.2 L197.0,130.0 L193.6,132.0 L191.7,129.1 L192.7,123.3 L193.2,119.4 L196.1,117.5 L199.0,114.6 Z"/>
<path d="M169.0,191.1 L175.5,187.8 L185.4,187.0 L191.9,185.4 L196.9,184.6 L201.8,187.8 L208.4,189.5 L214.9,189.5 L218.2,192.8 L217.4,197.7 L213.3,202.6 L201.8,205.1 L191.9,206.7 L185.4,207.5 L177.2,205.9 L172.2,202.6 L169.0,197.7 Z"/>
<path d="M265.8,145.8 L262.0,147.5 L259.0,149.6 L256.6,151.5 L254.8,156.0 L253.2,160.2 L250.8,165.0 L251.7,167.4 L255.6,168.8 L257.4,169.8 L257.8,169.0 L258.2,168.3 L258.6,167.5 L259.0,166.8 L259.3,166.0 L259.7,165.2 L260.1,164.5 L260.4,163.7 L260.8,162.9 L261.1,162.1 L261.4,161.3 L261.7,160.5 L262.1,159.8 L262.4,159.0 L262.6,158.2 L262.9,157.4 L263.2,156.5 L263.5,155.7 L263.7,154.9 L264.0,154.1 L264.2,153.3 L264.5,152.5 L264.7,151.7 L264.9,150.8 L265.1,150.0 L265.3,149.2 L265.5,148.3 L265.7,147.5 L265.8,146.7 L266.0,145.8 Z"/>
<path d="M108.0,124.5 L110.2,130.0 L111.6,138.0 L112.8,146.0 L113.8,152.0 L113.6,157.5 L112.1,158.0 L111.7,157.0 L111.4,155.9 L111.0,154.8 L110.7,153.7 L110.4,152.6 L110.1,151.5 L109.8,150.4 L109.5,149.3 L109.3,148.2 L109.0,147.1 L108.8,146.0 L108.6,144.9 L108.4,143.7 L108.2,142.6 L108.1,141.5 L107.9,140.4 L107.8,139.2 L107.7,138.1 L107.6,137.0 L107.5,135.8 L107.5,134.7 L107.4,133.6 L107.4,132.4 L107.4,131.3 L107.4,130.2 L107.4,129.0 L107.5,127.9 L107.5,126.7 L107.6,125.6 L107.7,124.5 Z"/>
<g fill="#000" stroke="none">
<ellipse cx="182.3" cy="57.1" rx="6.0" ry="2.2" transform="rotate(-6 182.3 57.1)"/>
<ellipse cx="198.6" cy="59.2" rx="3.2" ry="3.8" transform="rotate(20 198.6 59.2)"/>
<ellipse cx="157" cy="62.0" rx="3.5" ry="1.3" transform="rotate(-10 157 62.0)"/>
<ellipse cx="165" cy="61.3" rx="3.0" ry="1.2" transform="rotate(0 165 61.3)"/>
<ellipse cx="171.5" cy="60.5" rx="3.2" ry="1.4" transform="rotate(-5 171.5 60.5)"/>
<path d="M196.5,66.8 Q201,70.5 207.5,71.0" fill="none" stroke="#000" stroke-width="2.8"/>
<path d="M146,63.5 L150,62.3 L154,61.2 L158,62.0 L162,60.6 L166,61.3 L170,59.6 L174,60.3 L178,58.6 L182,58.0 L186,58.6 L189,60.0" fill="none" stroke="#000" stroke-width="2.4" stroke-linejoin="round"/>
<circle cx="212.5" cy="167.3" r="1.4"/>
</g>
<path d="M151,196.5 L156,198 L160,200 L165,201.5 L169,204 L174,205.5 L178,207.5 L183,209.5" fill="none" stroke="#000" stroke-width="2.0"/>
<path d="M137.5,191.5 L141,193.5 L144,194.5" fill="none" stroke="#000" stroke-width="1.8"/>
<path d="M256.5,106.5 L259.5,111 L261.8,117 L263.3,123.5 L262.2,125 L259.8,119 L257.5,112.5 Z" fill="#97b6e1" stroke="none"/>
<path d="M252.5,104.5 L254.5,109 L256.5,114 L258.5,119.5 L260.5,125 L262.5,130.5 L264.3,136 L265.6,141.5" fill="none" stroke="#000" stroke-width="3.0"/>
<path d="M255.5,104 L258.5,109.5 L261.5,116.5 L263.8,123.5 L265.5,129" fill="none" stroke="#000" stroke-width="2.4"/>
<circle cx="238.7" cy="97.6" r="1.3" fill="#000"/>
</g>
<circle cx="187.4" cy="131.0" r="80.0" fill="none" stroke="#000" stroke-width="1.8"/>
<path d="M163.2,139.9 Q187.2,136.3 211.3,139.9 L207.5,160.3 L167.3,160.3 Z" fill="none" stroke="#ff0000" stroke-width="1.6"/>
<rect x="763.1" y="227.3" width="276.4" height="66.19999999999999" rx="5" ry="5" fill="#ffffff" fill-opacity="0.8" stroke="#cccccc" stroke-width="1.6"/>
<line x1="770.2" y1="243.3" x2="814.3" y2="243.3" stroke="#1f77b4" stroke-width="3"/>
<text x="829" y="251.0" font-size="21.5" text-anchor="start" textLength="201.5" lengthAdjust="spacingAndGlyphs">Temperature Profile</text>
<line x1="770.2" y1="273.3" x2="814.3" y2="273.3" stroke="#ff7f0e" stroke-width="3"/>
<text x="829" y="281.4" font-size="21.5" text-anchor="start" textLength="147.5" lengthAdjust="spacingAndGlyphs">Salinity Profile</text>
<rect x="817.6" y="372.1" width="221.89999999999998" height="66.69999999999999" rx="5" ry="5" fill="#ffffff" fill-opacity="0.8" stroke="#cccccc" stroke-width="1.6"/>
<line x1="824.2" y1="388.2" x2="868.9" y2="388.2" stroke="#1f77b4" stroke-width="3"/>
<text x="883.5" y="395.7" font-size="21.5" text-anchor="start" textLength="148" lengthAdjust="spacingAndGlyphs">TEMP_PCTVAR</text>
<line x1="824.2" y1="418.8" x2="868.9" y2="418.8" stroke="#ff7f0e" stroke-width="3"/>
<text x="883.5" y="426.0" font-size="21.5" text-anchor="start" textLength="143" lengthAdjust="spacingAndGlyphs">PSAL_PCTVAR</text>
<rect x="91.8" y="39.0" width="958.0" height="265.2" fill="none" stroke="#000" stroke-width="1.6"/>
<line x1="91.8" y1="304.2" x2="91.8" y2="311.2" stroke="#000" stroke-width="1.6"/>
<line x1="142.2" y1="304.2" x2="142.2" y2="311.2" stroke="#000" stroke-width="1.6"/>
<line x1="192.6" y1="304.2" x2="192.6" y2="311.2" stroke="#000" stroke-width="1.6"/>
<line x1="243.1" y1="304.2" x2="243.1" y2="311.2" stroke="#000" stroke-width="1.6"/>
<line x1="293.5" y1="304.2" x2="293.5" y2="311.2" stroke="#000" stroke-width="1.6"/>
<line x1="343.9" y1="304.2" x2="343.9" y2="311.2" stroke="#000" stroke-width="1.6"/>
<line x1="394.3" y1="304.2" x2="394.3" y2="311.2" stroke="#000" stroke-width="1.6"/>
<line x1="444.7" y1="304.2" x2="444.7" y2="311.2" stroke="#000" stroke-width="1.6"/>
<line x1="495.2" y1="304.2" x2="495.2" y2="311.2" stroke="#000" stroke-width="1.6"/>
<line x1="545.6" y1="304.2" x2="545.6" y2="311.2" stroke="#000" stroke-width="1.6"/>
<line x1="596.0" y1="304.2" x2="596.0" y2="311.2" stroke="#000" stroke-width="1.6"/>
<line x1="646.4" y1="304.2" x2="646.4" y2="311.2" stroke="#000" stroke-width="1.6"/>
<line x1="696.8" y1="304.2" x2="696.8" y2="311.2" stroke="#000" stroke-width="1.6"/>
<line x1="747.3" y1="304.2" x2="747.3" y2="311.2" stroke="#000" stroke-width="1.6"/>
<line x1="797.7" y1="304.2" x2="797.7" y2="311.2" stroke="#000" stroke-width="1.6"/>
<line x1="848.1" y1="304.2" x2="848.1" y2="311.2" stroke="#000" stroke-width="1.6"/>
<line x1="898.5" y1="304.2" x2="898.5" y2="311.2" stroke="#000" stroke-width="1.6"/>
<line x1="948.9" y1="304.2" x2="948.9" y2="311.2" stroke="#000" stroke-width="1.6"/>
<line x1="999.4" y1="304.2" x2="999.4" y2="311.2" stroke="#000" stroke-width="1.6"/>
<rect x="91.8" y="362.0" width="958.0" height="265.2" fill="none" stroke="#000" stroke-width="1.6"/>
<line x1="91.8" y1="627.2" x2="91.8" y2="634.2" stroke="#000" stroke-width="1.6"/>
<line x1="142.2" y1="627.2" x2="142.2" y2="634.2" stroke="#000" stroke-width="1.6"/>
<line x1="192.6" y1="627.2" x2="192.6" y2="634.2" stroke="#000" stroke-width="1.6"/>
<line x1="243.1" y1="627.2" x2="243.1" y2="634.2" stroke="#000" stroke-width="1.6"/>
<line x1="293.5" y1="627.2" x2="293.5" y2="634.2" stroke="#000" stroke-width="1.6"/>
<line x1="343.9" y1="627.2" x2="343.9" y2="634.2" stroke="#000" stroke-width="1.6"/>
<line x1="394.3" y1="627.2" x2="394.3" y2="634.2" stroke="#000" stroke-width="1.6"/>
<line x1="444.7" y1="627.2" x2="444.7" y2="634.2" stroke="#000" stroke-width="1.6"/>
<line x1="495.2" y1="627.2" x2="495.2" y2="634.2" stroke="#000" stroke-width="1.6"/>
<line x1="545.6" y1="627.2" x2="545.6" y2="634.2" stroke="#000" stroke-width="1.6"/>
<line x1="596.0" y1="627.2" x2="596.0" y2="634.2" stroke="#000" stroke-width="1.6"/>
<line x1="646.4" y1="627.2" x2="646.4" y2="634.2" stroke="#000" stroke-width="1.6"/>
<line x1="696.8" y1="627.2" x2="696.8" y2="634.2" stroke="#000" stroke-width="1.6"/>
<line x1="747.3" y1="627.2" x2="747.3" y2="634.2" stroke="#000" stroke-width="1.6"/>
<line x1="797.7" y1="627.2" x2="797.7" y2="634.2" stroke="#000" stroke-width="1.6"/>
<line x1="848.1" y1="627.2" x2="848.1" y2="634.2" stroke="#000" stroke-width="1.6"/>
<line x1="898.5" y1="627.2" x2="898.5" y2="634.2" stroke="#000" stroke-width="1.6"/>
<line x1="948.9" y1="627.2" x2="948.9" y2="634.2" stroke="#000" stroke-width="1.6"/>
<line x1="999.4" y1="627.2" x2="999.4" y2="634.2" stroke="#000" stroke-width="1.6"/>
<rect x="91.8" y="684.7" width="958.0" height="265.5" fill="none" stroke="#000" stroke-width="1.6"/>
<line x1="91.8" y1="950.2" x2="91.8" y2="957.2" stroke="#000" stroke-width="1.6"/>
<line x1="142.2" y1="950.2" x2="142.2" y2="957.2" stroke="#000" stroke-width="1.6"/>
<line x1="192.6" y1="950.2" x2="192.6" y2="957.2" stroke="#000" stroke-width="1.6"/>
<line x1="243.1" y1="950.2" x2="243.1" y2="957.2" stroke="#000" stroke-width="1.6"/>
<line x1="293.5" y1="950.2" x2="293.5" y2="957.2" stroke="#000" stroke-width="1.6"/>
<line x1="343.9" y1="950.2" x2="343.9" y2="957.2" stroke="#000" stroke-width="1.6"/>
<line x1="394.3" y1="950.2" x2="394.3" y2="957.2" stroke="#000" stroke-width="1.6"/>
<line x1="444.7" y1="950.2" x2="444.7" y2="957.2" stroke="#000" stroke-width="1.6"/>
<line x1="495.2" y1="950.2" x2="495.2" y2="957.2" stroke="#000" stroke-width="1.6"/>
<line x1="545.6" y1="950.2" x2="545.6" y2="957.2" stroke="#000" stroke-width="1.6"/>
<line x1="596.0" y1="950.2" x2="596.0" y2="957.2" stroke="#000" stroke-width="1.6"/>
<line x1="646.4" y1="950.2" x2="646.4" y2="957.2" stroke="#000" stroke-width="1.6"/>
<line x1="696.8" y1="950.2" x2="696.8" y2="957.2" stroke="#000" stroke-width="1.6"/>
<line x1="747.3" y1="950.2" x2="747.3" y2="957.2" stroke="#000" stroke-width="1.6"/>
<line x1="797.7" y1="950.2" x2="797.7" y2="957.2" stroke="#000" stroke-width="1.6"/>
<line x1="848.1" y1="950.2" x2="848.1" y2="957.2" stroke="#000" stroke-width="1.6"/>
<line x1="898.5" y1="950.2" x2="898.5" y2="957.2" stroke="#000" stroke-width="1.6"/>
<line x1="948.9" y1="950.2" x2="948.9" y2="957.2" stroke="#000" stroke-width="1.6"/>
<line x1="999.4" y1="950.2" x2="999.4" y2="957.2" stroke="#000" stroke-width="1.6"/>
<line x1="84.8" y1="297.3" x2="91.8" y2="297.3" stroke="#000" stroke-width="1.6"/>
<text x="76.8" y="304.8" font-size="21.5" text-anchor="end" textLength="12.7" lengthAdjust="spacingAndGlyphs">0</text>
<line x1="84.8" y1="236.2" x2="91.8" y2="236.2" stroke="#000" stroke-width="1.6"/>
<text x="76.8" y="243.7" font-size="21.5" text-anchor="end" textLength="38.1" lengthAdjust="spacingAndGlyphs">200</text>
<line x1="84.8" y1="175.1" x2="91.8" y2="175.1" stroke="#000" stroke-width="1.6"/>
<text x="76.8" y="182.6" font-size="21.5" text-anchor="end" textLength="38.1" lengthAdjust="spacingAndGlyphs">400</text>
<line x1="84.8" y1="113.9" x2="91.8" y2="113.9" stroke="#000" stroke-width="1.6"/>
<text x="76.8" y="121.4" font-size="21.5" text-anchor="end" textLength="38.1" lengthAdjust="spacingAndGlyphs">600</text>
<line x1="84.8" y1="52.8" x2="91.8" y2="52.8" stroke="#000" stroke-width="1.6"/>
<text x="76.8" y="60.3" font-size="21.5" text-anchor="end" textLength="38.1" lengthAdjust="spacingAndGlyphs">800</text>
<line x1="84.8" y1="603.0" x2="91.8" y2="603.0" stroke="#000" stroke-width="1.6"/>
<text x="76.8" y="610.5" font-size="21.5" text-anchor="end" textLength="25.4" lengthAdjust="spacingAndGlyphs">50</text>
<line x1="84.8" y1="554.8" x2="91.8" y2="554.8" stroke="#000" stroke-width="1.6"/>
<text x="76.8" y="562.3" font-size="21.5" text-anchor="end" textLength="25.4" lengthAdjust="spacingAndGlyphs">60</text>
<line x1="84.8" y1="506.6" x2="91.8" y2="506.6" stroke="#000" stroke-width="1.6"/>
<text x="76.8" y="514.1" font-size="21.5" text-anchor="end" textLength="25.4" lengthAdjust="spacingAndGlyphs">70</text>
<line x1="84.8" y1="458.4" x2="91.8" y2="458.4" stroke="#000" stroke-width="1.6"/>
<text x="76.8" y="465.9" font-size="21.5" text-anchor="end" textLength="25.4" lengthAdjust="spacingAndGlyphs">80</text>
<line x1="84.8" y1="410.2" x2="91.8" y2="410.2" stroke="#000" stroke-width="1.6"/>
<text x="76.8" y="417.7" font-size="21.5" text-anchor="end" textLength="25.4" lengthAdjust="spacingAndGlyphs">90</text>
<line x1="84.8" y1="362.0" x2="91.8" y2="362.0" stroke="#000" stroke-width="1.6"/>
<text x="76.8" y="369.5" font-size="21.5" text-anchor="end" textLength="38.1" lengthAdjust="spacingAndGlyphs">100</text>
<line x1="84.8" y1="684.7" x2="91.8" y2="684.7" stroke="#000" stroke-width="1.6"/>
<text x="76.8" y="692.2" font-size="21.5" text-anchor="end" textLength="45.0" lengthAdjust="spacingAndGlyphs">30.0</text>
<line x1="84.8" y1="773.2" x2="91.8" y2="773.2" stroke="#000" stroke-width="1.6"/>
<text x="76.8" y="780.7" font-size="21.5" text-anchor="end" textLength="45.0" lengthAdjust="spacingAndGlyphs">35.0</text>
<line x1="84.8" y1="861.7" x2="91.8" y2="861.7" stroke="#000" stroke-width="1.6"/>
<text x="76.8" y="869.2" font-size="21.5" text-anchor="end" textLength="45.0" lengthAdjust="spacingAndGlyphs">40.0</text>
<line x1="84.8" y1="950.2" x2="91.8" y2="950.2" stroke="#000" stroke-width="1.6"/>
<text x="76.8" y="957.7" font-size="21.5" text-anchor="end" textLength="45.0" lengthAdjust="spacingAndGlyphs">45.0</text>
<text x="133.5" y="27.1" font-size="25.5" text-anchor="start" textLength="296" lengthAdjust="spacingAndGlyphs">Number of Argo Profiles</text>
<text x="134.3" y="350.1" font-size="25.5" text-anchor="start" textLength="345.5" lengthAdjust="spacingAndGlyphs">Monthly Average of PCTVAR</text>
<text x="132.5" y="673.1" font-size="25.5" text-anchor="start" textLength="396.5" lengthAdjust="spacingAndGlyphs">Zonal Average of TEMP_PCTVAR</text>
<text x="-0.3" y="24.0" font-size="30" text-anchor="start" font-weight="bold" textLength="21" lengthAdjust="spacingAndGlyphs">A</text>
<text x="0.3" y="361.6" font-size="30" text-anchor="start" font-weight="bold" textLength="20" lengthAdjust="spacingAndGlyphs">B</text>
<text x="-0.2" y="675.8" font-size="30" text-anchor="start" font-weight="bold" textLength="21.5" lengthAdjust="spacingAndGlyphs">C</text>
<text x="27.4" y="169.5" font-size="21.5" text-anchor="middle" textLength="90.5" lengthAdjust="spacingAndGlyphs" transform="rotate(-90 27.4 169.5)">Number</text>
<text x="27.0" y="497.1" font-size="21.5" text-anchor="middle" textLength="34.5" lengthAdjust="spacingAndGlyphs" transform="rotate(-90 27.0 497.1)">[%]</text>
<text x="17.6" y="817.8" font-size="21.5" text-anchor="middle" textLength="131" lengthAdjust="spacingAndGlyphs" transform="rotate(-90 17.6 817.8)">Latitude [°S]</text>
<text x="0" y="7.5" font-size="21.5" text-anchor="middle" textLength="52" lengthAdjust="spacingAndGlyphs" transform="translate(89.4 985.4) rotate(-30)">2002</text>
<text x="0" y="7.5" font-size="21.5" text-anchor="middle" textLength="52" lengthAdjust="spacingAndGlyphs" transform="translate(139.8 985.4) rotate(-30)">2003</text>
<text x="0" y="7.5" font-size="21.5" text-anchor="middle" textLength="52" lengthAdjust="spacingAndGlyphs" transform="translate(190.2 985.4) rotate(-30)">2004</text>
<text x="0" y="7.5" font-size="21.5" text-anchor="middle" textLength="52" lengthAdjust="spacingAndGlyphs" transform="translate(240.7 985.4) rotate(-30)">2005</text>
<text x="0" y="7.5" font-size="21.5" text-anchor="middle" textLength="52" lengthAdjust="spacingAndGlyphs" transform="translate(291.1 985.4) rotate(-30)">2006</text>
<text x="0" y="7.5" font-size="21.5" text-anchor="middle" textLength="52" lengthAdjust="spacingAndGlyphs" transform="translate(341.5 985.4) rotate(-30)">2007</text>
<text x="0" y="7.5" font-size="21.5" text-anchor="middle" textLength="52" lengthAdjust="spacingAndGlyphs" transform="translate(391.9 985.4) rotate(-30)">2008</text>
<text x="0" y="7.5" font-size="21.5" text-anchor="middle" textLength="52" lengthAdjust="spacingAndGlyphs" transform="translate(442.3 985.4) rotate(-30)">2009</text>
<text x="0" y="7.5" font-size="21.5" text-anchor="middle" textLength="52" lengthAdjust="spacingAndGlyphs" transform="translate(492.8 985.4) rotate(-30)">2010</text>
<text x="0" y="7.5" font-size="21.5" text-anchor="middle" textLength="52" lengthAdjust="spacingAndGlyphs" transform="translate(543.2 985.4) rotate(-30)">2011</text>
<text x="0" y="7.5" font-size="21.5" text-anchor="middle" textLength="52" lengthAdjust="spacingAndGlyphs" transform="translate(593.6 985.4) rotate(-30)">2012</text>
<text x="0" y="7.5" font-size="21.5" text-anchor="middle" textLength="52" lengthAdjust="spacingAndGlyphs" transform="translate(644.0 985.4) rotate(-30)">2013</text>
<text x="0" y="7.5" font-size="21.5" text-anchor="middle" textLength="52" lengthAdjust="spacingAndGlyphs" transform="translate(694.4 985.4) rotate(-30)">2014</text>
<text x="0" y="7.5" font-size="21.5" text-anchor="middle" textLength="52" lengthAdjust="spacingAndGlyphs" transform="translate(744.9 985.4) rotate(-30)">2015</text>
<text x="0" y="7.5" font-size="21.5" text-anchor="middle" textLength="52" lengthAdjust="spacingAndGlyphs" transform="translate(795.3 985.4) rotate(-30)">2016</text>
<text x="0" y="7.5" font-size="21.5" text-anchor="middle" textLength="52" lengthAdjust="spacingAndGlyphs" transform="translate(845.7 985.4) rotate(-30)">2017</text>
<text x="0" y="7.5" font-size="21.5" text-anchor="middle" textLength="52" lengthAdjust="spacingAndGlyphs" transform="translate(896.1 985.4) rotate(-30)">2018</text>
<text x="0" y="7.5" font-size="21.5" text-anchor="middle" textLength="52" lengthAdjust="spacingAndGlyphs" transform="translate(946.5 985.4) rotate(-30)">2019</text>
<text x="0" y="7.5" font-size="21.5" text-anchor="middle" textLength="52" lengthAdjust="spacingAndGlyphs" transform="translate(997.0 985.4) rotate(-30)">2020</text>
<text x="571.2" y="1032.1" font-size="21.5" text-anchor="middle" textLength="43" lengthAdjust="spacingAndGlyphs">Year</text>
<path d="M1083.4,684.9 L1098.4,684.9 L1098.4,937.5 L1090.9,950.3 L1083.4,937.5 Z" fill="none" stroke="#000" stroke-width="1.6"/>
<line x1="1098.4" y1="684.9" x2="1105.4" y2="684.9" stroke="#000" stroke-width="1.6"/>
<text x="1112.8" y="692.4" font-size="21.5" text-anchor="start" textLength="38.1" lengthAdjust="spacingAndGlyphs">100</text>
<line x1="1098.4" y1="727.0" x2="1105.4" y2="727.0" stroke="#000" stroke-width="1.6"/>
<text x="1112.8" y="734.5" font-size="21.5" text-anchor="start" textLength="25.4" lengthAdjust="spacingAndGlyphs">90</text>
<line x1="1098.4" y1="769.1" x2="1105.4" y2="769.1" stroke="#000" stroke-width="1.6"/>
<text x="1112.8" y="776.6" font-size="21.5" text-anchor="start" textLength="25.4" lengthAdjust="spacingAndGlyphs">80</text>
<line x1="1098.4" y1="811.2" x2="1105.4" y2="811.2" stroke="#000" stroke-width="1.6"/>
<text x="1112.8" y="818.7" font-size="21.5" text-anchor="start" textLength="25.4" lengthAdjust="spacingAndGlyphs">70</text>
<line x1="1098.4" y1="853.3" x2="1105.4" y2="853.3" stroke="#000" stroke-width="1.6"/>
<text x="1112.8" y="860.8" font-size="21.5" text-anchor="start" textLength="25.4" lengthAdjust="spacingAndGlyphs">60</text>
<line x1="1098.4" y1="895.4" x2="1105.4" y2="895.4" stroke="#000" stroke-width="1.6"/>
<text x="1112.8" y="902.9" font-size="21.5" text-anchor="start" textLength="25.4" lengthAdjust="spacingAndGlyphs">50</text>
<line x1="1098.4" y1="937.5" x2="1105.4" y2="937.5" stroke="#000" stroke-width="1.6"/>
<text x="1112.8" y="945.0" font-size="21.5" text-anchor="start" textLength="25.4" lengthAdjust="spacingAndGlyphs">40</text>
<text x="1176.8" y="819.9" font-size="21.5" text-anchor="middle" textLength="34.5" lengthAdjust="spacingAndGlyphs" transform="rotate(-90 1176.8 819.9)">[%]</text>
</svg>
</div></body></html>
